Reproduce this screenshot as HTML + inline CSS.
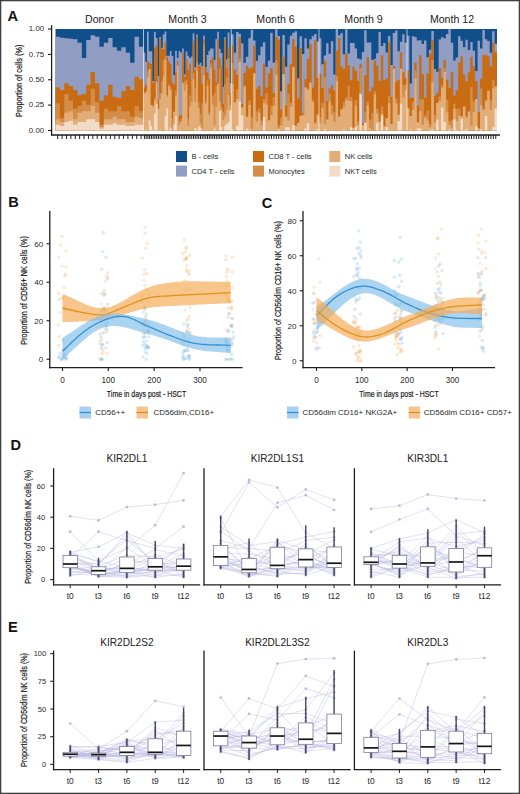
<!DOCTYPE html>
<html><head><meta charset="utf-8"><style>
html,body{margin:0;padding:0;background:#fff;}
body{width:520px;height:794px;overflow:hidden;position:relative;}
svg{position:absolute;left:0;top:0;font-family:"Liberation Sans",sans-serif;}
</style></head><body>
<svg width="520" height="794" viewBox="0 0 520 794">
<rect x="0" y="0" width="520" height="794" fill="#fff"/>
<text x="7.6" y="20.6" font-size="14.6" text-anchor="start" fill="#111" font-weight="bold" >A</text>
<text x="99.5" y="22.8" font-size="10.6" text-anchor="middle" fill="#1a1a1a" font-weight="normal" >Donor</text>
<text x="187.5" y="22.8" font-size="10.6" text-anchor="middle" fill="#1a1a1a" font-weight="normal" >Month 3</text>
<text x="275.5" y="22.8" font-size="10.6" text-anchor="middle" fill="#1a1a1a" font-weight="normal" >Month 6</text>
<text x="363.5" y="22.8" font-size="10.6" text-anchor="middle" fill="#1a1a1a" font-weight="normal" >Month 9</text>
<text x="452" y="22.8" font-size="10.6" text-anchor="middle" fill="#1a1a1a" font-weight="normal" >Month 12</text>
<path d="M55.50,130.50 L55.50,29.00 L59.89,29.00 L59.89,29.00 L64.28,29.00 L64.28,29.00 L68.67,29.00 L68.67,29.00 L73.06,29.00 L73.06,29.00 L77.45,29.00 L77.45,29.00 L81.84,29.00 L81.84,29.00 L86.23,29.00 L86.23,29.00 L90.62,29.00 L90.62,29.00 L95.01,29.00 L95.01,29.00 L99.40,29.00 L99.40,29.00 L103.79,29.00 L103.79,29.00 L108.18,29.00 L108.18,29.00 L112.57,29.00 L112.57,29.00 L116.96,29.00 L116.96,29.00 L121.35,29.00 L121.35,29.00 L125.74,29.00 L125.74,29.00 L130.13,29.00 L130.13,29.00 L134.52,29.00 L134.52,29.00 L138.91,29.00 L138.91,29.00 L143.30,29.00 L143.50,29.00 L145.25,29.00 L145.25,29.00 L147.01,29.00 L147.01,29.00 L148.76,29.00 L148.76,29.00 L150.52,29.00 L150.52,29.00 L152.27,29.00 L152.27,29.00 L154.02,29.00 L154.02,29.00 L155.78,29.00 L155.78,29.00 L157.53,29.00 L157.53,29.00 L159.29,29.00 L159.29,29.00 L161.04,29.00 L161.04,29.00 L162.79,29.00 L162.79,29.00 L164.55,29.00 L164.55,29.00 L166.30,29.00 L166.30,29.00 L168.06,29.00 L168.06,29.00 L169.81,29.00 L169.81,29.00 L171.56,29.00 L171.56,29.00 L173.32,29.00 L173.32,29.00 L175.07,29.00 L175.07,29.00 L176.83,29.00 L176.83,29.00 L178.58,29.00 L178.58,29.00 L180.33,29.00 L180.33,29.00 L182.09,29.00 L182.09,29.00 L183.84,29.00 L183.84,29.00 L185.60,29.00 L185.60,29.00 L187.35,29.00 L187.35,29.00 L189.10,29.00 L189.10,29.00 L190.86,29.00 L190.86,29.00 L192.61,29.00 L192.61,29.00 L194.37,29.00 L194.37,29.00 L196.12,29.00 L196.12,29.00 L197.87,29.00 L197.87,29.00 L199.63,29.00 L199.63,29.00 L201.38,29.00 L201.38,29.00 L203.14,29.00 L203.14,29.00 L204.89,29.00 L204.89,29.00 L206.64,29.00 L206.64,29.00 L208.40,29.00 L208.40,29.00 L210.15,29.00 L210.15,29.00 L211.91,29.00 L211.91,29.00 L213.66,29.00 L213.66,29.00 L215.41,29.00 L215.41,29.00 L217.17,29.00 L217.17,29.00 L218.92,29.00 L218.92,29.00 L220.68,29.00 L220.68,29.00 L222.43,29.00 L222.43,29.00 L224.18,29.00 L224.18,29.00 L225.94,29.00 L225.94,29.00 L227.69,29.00 L227.69,29.00 L229.45,29.00 L229.45,29.00 L231.20,29.00 L231.20,29.00 L233.64,29.00 L233.64,29.00 L236.08,29.00 L236.08,29.00 L238.52,29.00 L238.52,29.00 L240.96,29.00 L240.96,29.00 L243.39,29.00 L243.39,29.00 L245.83,29.00 L245.83,29.00 L248.27,29.00 L248.27,29.00 L250.71,29.00 L250.71,29.00 L253.15,29.00 L253.15,29.00 L255.59,29.00 L255.59,29.00 L258.03,29.00 L258.03,29.00 L260.47,29.00 L260.47,29.00 L262.91,29.00 L262.91,29.00 L265.34,29.00 L265.34,29.00 L267.78,29.00 L267.78,29.00 L270.22,29.00 L270.22,29.00 L272.66,29.00 L272.66,29.00 L275.10,29.00 L275.10,29.00 L277.54,29.00 L277.54,29.00 L279.98,29.00 L279.98,29.00 L282.42,29.00 L282.42,29.00 L284.86,29.00 L284.86,29.00 L287.29,29.00 L287.29,29.00 L289.73,29.00 L289.73,29.00 L292.17,29.00 L292.17,29.00 L294.61,29.00 L294.61,29.00 L297.05,29.00 L297.05,29.00 L299.49,29.00 L299.49,29.00 L301.93,29.00 L301.93,29.00 L304.37,29.00 L304.37,29.00 L306.81,29.00 L306.81,29.00 L309.24,29.00 L309.24,29.00 L311.68,29.00 L311.68,29.00 L314.12,29.00 L314.12,29.00 L316.56,29.00 L316.56,29.00 L319.00,29.00 L319.00,29.00 L321.38,29.00 L321.38,29.00 L323.76,29.00 L323.76,29.00 L326.14,29.00 L326.14,29.00 L328.51,29.00 L328.51,29.00 L330.89,29.00 L330.89,29.00 L333.27,29.00 L333.27,29.00 L335.65,29.00 L335.65,29.00 L338.03,29.00 L338.03,29.00 L340.41,29.00 L340.41,29.00 L342.78,29.00 L342.78,29.00 L345.16,29.00 L345.16,29.00 L347.54,29.00 L347.54,29.00 L349.92,29.00 L349.92,29.00 L352.30,29.00 L352.30,29.00 L354.68,29.00 L354.68,29.00 L357.05,29.00 L357.05,29.00 L359.43,29.00 L359.43,29.00 L361.81,29.00 L361.81,29.00 L364.19,29.00 L364.19,29.00 L366.57,29.00 L366.57,29.00 L368.95,29.00 L368.95,29.00 L371.32,29.00 L371.32,29.00 L373.70,29.00 L373.70,29.00 L376.08,29.00 L376.08,29.00 L378.46,29.00 L378.46,29.00 L380.84,29.00 L380.84,29.00 L383.22,29.00 L383.22,29.00 L385.59,29.00 L385.59,29.00 L387.97,29.00 L387.97,29.00 L390.35,29.00 L390.35,29.00 L392.73,29.00 L392.73,29.00 L395.11,29.00 L395.11,29.00 L397.49,29.00 L397.49,29.00 L399.86,29.00 L399.86,29.00 L402.24,29.00 L402.24,29.00 L404.62,29.00 L404.62,29.00 L407.00,29.00 L407.00,29.00 L409.43,29.00 L409.43,29.00 L411.86,29.00 L411.86,29.00 L414.30,29.00 L414.30,29.00 L416.73,29.00 L416.73,29.00 L419.16,29.00 L419.16,29.00 L421.59,29.00 L421.59,29.00 L424.03,29.00 L424.03,29.00 L426.46,29.00 L426.46,29.00 L428.89,29.00 L428.89,29.00 L431.32,29.00 L431.32,29.00 L433.76,29.00 L433.76,29.00 L436.19,29.00 L436.19,29.00 L438.62,29.00 L438.62,29.00 L441.05,29.00 L441.05,29.00 L443.49,29.00 L443.49,29.00 L445.92,29.00 L445.92,29.00 L448.35,29.00 L448.35,29.00 L450.78,29.00 L450.78,29.00 L453.22,29.00 L453.22,29.00 L455.65,29.00 L455.65,29.00 L458.08,29.00 L458.08,29.00 L460.51,29.00 L460.51,29.00 L462.95,29.00 L462.95,29.00 L465.38,29.00 L465.38,29.00 L467.81,29.00 L467.81,29.00 L470.24,29.00 L470.24,29.00 L472.68,29.00 L472.68,29.00 L475.11,29.00 L475.11,29.00 L477.54,29.00 L477.54,29.00 L479.97,29.00 L479.97,29.00 L482.41,29.00 L482.41,29.00 L484.84,29.00 L484.84,29.00 L487.27,29.00 L487.27,29.00 L489.70,29.00 L489.70,29.00 L492.14,29.00 L492.14,29.00 L494.57,29.00 L494.57,29.00 L497.00,29.00 L497.00,130.50 Z" fill="#114f8b"/>
<path d="M55.50,130.50 L55.50,36.67 L59.89,36.67 L59.89,37.73 L64.28,37.73 L64.28,38.27 L68.67,38.27 L68.67,38.67 L73.06,38.67 L73.06,39.33 L77.45,39.33 L77.45,42.67 L81.84,42.67 L81.84,58.00 L86.23,58.00 L86.23,40.00 L90.62,40.00 L90.62,35.33 L95.01,35.33 L95.01,36.67 L99.40,36.67 L99.40,46.67 L103.79,46.67 L103.79,42.67 L108.18,42.67 L108.18,38.00 L112.57,38.00 L112.57,47.33 L116.96,47.33 L116.96,50.67 L121.35,50.67 L121.35,47.33 L125.74,47.33 L125.74,52.67 L130.13,52.67 L130.13,62.67 L134.52,62.67 L134.52,36.67 L138.91,36.67 L138.91,46.67 L143.30,46.67 L143.50,52.38 L145.25,52.38 L145.25,61.63 L147.01,61.63 L147.01,31.51 L148.76,31.51 L148.76,51.13 L150.52,51.13 L150.52,51.32 L152.27,51.32 L152.27,80.89 L154.02,80.89 L154.02,31.80 L155.78,31.80 L155.78,38.02 L157.53,38.02 L157.53,75.95 L159.29,75.95 L159.29,36.95 L161.04,36.95 L161.04,47.67 L162.79,47.67 L162.79,34.38 L164.55,34.38 L164.55,31.62 L166.30,31.62 L166.30,55.81 L168.06,55.81 L168.06,55.78 L169.81,55.78 L169.81,51.12 L171.56,51.12 L171.56,55.97 L173.32,55.97 L173.32,75.32 L175.07,75.32 L175.07,50.74 L176.83,50.74 L176.83,57.92 L178.58,57.92 L178.58,50.89 L180.33,50.89 L180.33,52.57 L182.09,52.57 L182.09,48.46 L183.84,48.46 L183.84,74.23 L185.60,74.23 L185.60,51.38 L187.35,51.38 L187.35,55.79 L189.10,55.79 L189.10,58.04 L190.86,58.04 L190.86,56.54 L192.61,56.54 L192.61,33.36 L194.37,33.36 L194.37,67.30 L196.12,67.30 L196.12,34.38 L197.87,34.38 L197.87,64.69 L199.63,64.69 L199.63,62.75 L201.38,62.75 L201.38,65.97 L203.14,65.97 L203.14,35.69 L204.89,35.69 L204.89,66.90 L206.64,66.90 L206.64,55.02 L208.40,55.02 L208.40,50.80 L210.15,50.80 L210.15,48.39 L211.91,48.39 L211.91,48.56 L213.66,48.56 L213.66,60.12 L215.41,60.12 L215.41,38.90 L217.17,38.90 L217.17,31.71 L218.92,31.71 L218.92,48.66 L220.68,48.66 L220.68,52.90 L222.43,52.90 L222.43,87.03 L224.18,87.03 L224.18,37.34 L225.94,37.34 L225.94,59.21 L227.69,59.21 L227.69,32.52 L229.45,32.52 L229.45,83.29 L231.20,83.29 L231.20,34.33 L233.64,34.33 L233.64,52.68 L236.08,52.68 L236.08,32.10 L238.52,32.10 L238.52,33.75 L240.96,33.75 L240.96,43.28 L243.39,43.28 L243.39,62.78 L245.83,62.78 L245.83,56.72 L248.27,56.72 L248.27,38.35 L250.71,38.35 L250.71,29.63 L253.15,29.63 L253.15,40.42 L255.59,40.42 L255.59,60.87 L258.03,60.87 L258.03,55.20 L260.47,55.20 L260.47,46.77 L262.91,46.77 L262.91,42.18 L265.34,42.18 L265.34,66.99 L267.78,66.99 L267.78,60.74 L270.22,60.74 L270.22,32.87 L272.66,32.87 L272.66,62.72 L275.10,62.72 L275.10,29.26 L277.54,29.26 L277.54,36.03 L279.98,36.03 L279.98,91.30 L282.42,91.30 L282.42,35.11 L284.86,35.11 L284.86,66.80 L287.29,66.80 L287.29,44.57 L289.73,44.57 L289.73,35.63 L292.17,35.63 L292.17,32.69 L294.61,32.69 L294.61,31.37 L297.05,31.37 L297.05,78.28 L299.49,78.28 L299.49,36.32 L301.93,36.32 L301.93,54.04 L304.37,54.04 L304.37,38.14 L306.81,38.14 L306.81,48.41 L309.24,48.41 L309.24,39.13 L311.68,39.13 L311.68,36.34 L314.12,36.34 L314.12,33.95 L316.56,33.95 L316.56,41.60 L319.00,41.60 L319.00,38.31 L321.38,38.31 L321.38,64.26 L323.76,64.26 L323.76,55.51 L326.14,55.51 L326.14,43.26 L328.51,43.26 L328.51,53.84 L330.89,53.84 L330.89,41.16 L333.27,41.16 L333.27,74.39 L335.65,74.39 L335.65,29.12 L338.03,29.12 L338.03,35.18 L340.41,35.18 L340.41,32.89 L342.78,32.89 L342.78,54.17 L345.16,54.17 L345.16,29.18 L347.54,29.18 L347.54,53.54 L349.92,53.54 L349.92,42.88 L352.30,42.88 L352.30,43.00 L354.68,43.00 L354.68,48.39 L357.05,48.39 L357.05,58.54 L359.43,58.54 L359.43,59.49 L361.81,59.49 L361.81,51.91 L364.19,51.91 L364.19,30.13 L366.57,30.13 L366.57,42.43 L368.95,42.43 L368.95,42.60 L371.32,42.60 L371.32,60.06 L373.70,60.06 L373.70,58.75 L376.08,58.75 L376.08,53.31 L378.46,53.31 L378.46,32.08 L380.84,32.08 L380.84,45.99 L383.22,45.99 L383.22,42.91 L385.59,42.91 L385.59,52.39 L387.97,52.39 L387.97,35.88 L390.35,35.88 L390.35,65.08 L392.73,65.08 L392.73,33.09 L395.11,33.09 L395.11,30.49 L397.49,30.49 L397.49,51.35 L399.86,51.35 L399.86,41.79 L402.24,41.79 L402.24,34.34 L404.62,34.34 L404.62,42.64 L407.00,42.64 L407.00,35.67 L409.43,35.67 L409.43,83.50 L411.86,83.50 L411.86,36.30 L414.30,36.30 L414.30,37.02 L416.73,37.02 L416.73,40.50 L419.16,40.50 L419.16,40.32 L421.59,40.32 L421.59,44.01 L424.03,44.01 L424.03,40.41 L426.46,40.41 L426.46,57.36 L428.89,57.36 L428.89,49.86 L431.32,49.86 L431.32,31.00 L433.76,31.00 L433.76,69.08 L436.19,69.08 L436.19,71.84 L438.62,71.84 L438.62,39.46 L441.05,39.46 L441.05,37.14 L443.49,37.14 L443.49,38.16 L445.92,38.16 L445.92,34.01 L448.35,34.01 L448.35,29.06 L450.78,29.06 L450.78,42.67 L453.22,42.67 L453.22,60.38 L455.65,60.38 L455.65,57.40 L458.08,57.40 L458.08,36.17 L460.51,36.17 L460.51,40.84 L462.95,40.84 L462.95,47.16 L465.38,47.16 L465.38,39.75 L467.81,39.75 L467.81,50.09 L470.24,50.09 L470.24,41.98 L472.68,41.98 L472.68,50.67 L475.11,50.67 L475.11,71.00 L477.54,71.00 L477.54,40.70 L479.97,40.70 L479.97,48.55 L482.41,48.55 L482.41,30.10 L484.84,30.10 L484.84,39.22 L487.27,39.22 L487.27,40.90 L489.70,40.90 L489.70,52.83 L492.14,52.83 L492.14,31.34 L494.57,31.34 L494.57,43.63 L497.00,43.63 L497.00,130.50 Z" fill="#919dc3"/>
<path d="M55.50,130.50 L55.50,87.33 L59.89,87.33 L59.89,90.00 L64.28,90.00 L64.28,83.33 L68.67,83.33 L68.67,86.00 L73.06,86.00 L73.06,90.00 L77.45,90.00 L77.45,95.33 L81.84,95.33 L81.84,94.00 L86.23,94.00 L86.23,84.67 L90.62,84.67 L90.62,72.00 L95.01,72.00 L95.01,83.33 L99.40,83.33 L99.40,100.67 L103.79,100.67 L103.79,95.33 L108.18,95.33 L108.18,84.67 L112.57,84.67 L112.57,96.67 L116.96,96.67 L116.96,98.00 L121.35,98.00 L121.35,91.33 L125.74,91.33 L125.74,86.00 L130.13,86.00 L130.13,90.00 L134.52,90.00 L134.52,76.67 L138.91,76.67 L138.91,79.33 L143.30,79.33 L143.50,87.70 L145.25,87.70 L145.25,84.46 L147.01,84.46 L147.01,60.64 L148.76,60.64 L148.76,62.88 L150.52,62.88 L150.52,63.95 L152.27,63.95 L152.27,82.72 L154.02,82.72 L154.02,47.26 L155.78,47.26 L155.78,45.35 L157.53,45.35 L157.53,99.24 L159.29,99.24 L159.29,38.05 L161.04,38.05 L161.04,48.45 L162.79,48.45 L162.79,49.57 L164.55,49.57 L164.55,42.14 L166.30,42.14 L166.30,57.30 L168.06,57.30 L168.06,61.35 L169.81,61.35 L169.81,64.48 L171.56,64.48 L171.56,82.49 L173.32,82.49 L173.32,84.39 L175.07,84.39 L175.07,71.98 L176.83,71.98 L176.83,61.03 L178.58,61.03 L178.58,116.05 L180.33,116.05 L180.33,115.11 L182.09,115.11 L182.09,52.35 L183.84,52.35 L183.84,76.88 L185.60,76.88 L185.60,59.17 L187.35,59.17 L187.35,69.95 L189.10,69.95 L189.10,63.68 L190.86,63.68 L190.86,80.02 L192.61,80.02 L192.61,42.05 L194.37,42.05 L194.37,69.99 L196.12,69.99 L196.12,36.72 L197.87,36.72 L197.87,66.00 L199.63,66.00 L199.63,66.18 L201.38,66.18 L201.38,83.68 L203.14,83.68 L203.14,39.80 L204.89,39.80 L204.89,67.08 L206.64,67.08 L206.64,72.56 L208.40,72.56 L208.40,79.19 L210.15,79.19 L210.15,59.89 L211.91,59.89 L211.91,57.08 L213.66,57.08 L213.66,69.81 L215.41,69.81 L215.41,82.32 L217.17,82.32 L217.17,39.04 L218.92,39.04 L218.92,58.00 L220.68,58.00 L220.68,66.74 L222.43,66.74 L222.43,103.77 L224.18,103.77 L224.18,38.72 L225.94,38.72 L225.94,68.06 L227.69,68.06 L227.69,47.39 L229.45,47.39 L229.45,93.61 L231.20,93.61 L231.20,45.37 L233.64,45.37 L233.64,69.48 L236.08,69.48 L236.08,74.96 L238.52,74.96 L238.52,37.34 L240.96,37.34 L240.96,104.01 L243.39,104.01 L243.39,73.01 L245.83,73.01 L245.83,65.80 L248.27,65.80 L248.27,68.42 L250.71,68.42 L250.71,67.30 L253.15,67.30 L253.15,45.51 L255.59,45.51 L255.59,88.66 L258.03,88.66 L258.03,86.03 L260.47,86.03 L260.47,96.35 L262.91,96.35 L262.91,63.74 L265.34,63.74 L265.34,87.57 L267.78,87.57 L267.78,73.36 L270.22,73.36 L270.22,68.10 L272.66,68.10 L272.66,93.00 L275.10,93.00 L275.10,36.80 L277.54,36.80 L277.54,39.62 L279.98,39.62 L279.98,109.40 L282.42,109.40 L282.42,56.81 L284.86,56.81 L284.86,105.25 L287.29,105.25 L287.29,83.72 L289.73,83.72 L289.73,64.21 L292.17,64.21 L292.17,38.93 L294.61,38.93 L294.61,46.63 L297.05,46.63 L297.05,98.36 L299.49,98.36 L299.49,47.89 L301.93,47.89 L301.93,113.24 L304.37,113.24 L304.37,79.37 L306.81,79.37 L306.81,59.11 L309.24,59.11 L309.24,44.31 L311.68,44.31 L311.68,87.61 L314.12,87.61 L314.12,40.24 L316.56,40.24 L316.56,77.93 L319.00,77.93 L319.00,73.61 L321.38,73.61 L321.38,88.03 L323.76,88.03 L323.76,60.70 L326.14,60.70 L326.14,101.32 L328.51,101.32 L328.51,88.58 L330.89,88.58 L330.89,85.62 L333.27,85.62 L333.27,90.61 L335.65,90.61 L335.65,50.54 L338.03,50.54 L338.03,37.92 L340.41,37.92 L340.41,66.76 L342.78,66.76 L342.78,68.77 L345.16,68.77 L345.16,53.57 L347.54,53.57 L347.54,65.38 L349.92,65.38 L349.92,80.22 L352.30,80.22 L352.30,66.40 L354.68,66.40 L354.68,70.65 L357.05,70.65 L357.05,80.89 L359.43,80.89 L359.43,63.81 L361.81,63.81 L361.81,123.01 L364.19,123.01 L364.19,75.25 L366.57,75.25 L366.57,57.29 L368.95,57.29 L368.95,91.47 L371.32,91.47 L371.32,87.20 L373.70,87.20 L373.70,60.31 L376.08,60.31 L376.08,65.77 L378.46,65.77 L378.46,80.87 L380.84,80.87 L380.84,55.35 L383.22,55.35 L383.22,80.59 L385.59,80.59 L385.59,78.41 L387.97,78.41 L387.97,42.24 L390.35,42.24 L390.35,97.12 L392.73,97.12 L392.73,65.92 L395.11,65.92 L395.11,81.82 L397.49,81.82 L397.49,80.04 L399.86,80.04 L399.86,52.50 L402.24,52.50 L402.24,72.01 L404.62,72.01 L404.62,78.10 L407.00,78.10 L407.00,70.19 L409.43,70.19 L409.43,97.80 L411.86,97.80 L411.86,97.87 L414.30,97.87 L414.30,62.51 L416.73,62.51 L416.73,105.71 L419.16,105.71 L419.16,55.22 L421.59,55.22 L421.59,74.26 L424.03,74.26 L424.03,97.40 L426.46,97.40 L426.46,73.55 L428.89,73.55 L428.89,53.66 L431.32,53.66 L431.32,40.29 L433.76,40.29 L433.76,95.66 L436.19,95.66 L436.19,93.12 L438.62,93.12 L438.62,68.04 L441.05,68.04 L441.05,77.64 L443.49,77.64 L443.49,59.91 L445.92,59.91 L445.92,79.64 L448.35,79.64 L448.35,87.72 L450.78,87.72 L450.78,71.79 L453.22,71.79 L453.22,95.62 L455.65,95.62 L455.65,90.35 L458.08,90.35 L458.08,62.29 L460.51,62.29 L460.51,56.22 L462.95,56.22 L462.95,74.41 L465.38,74.41 L465.38,81.26 L467.81,81.26 L467.81,72.14 L470.24,72.14 L470.24,56.79 L472.68,56.79 L472.68,66.54 L475.11,66.54 L475.11,81.06 L477.54,81.06 L477.54,111.92 L479.97,111.92 L479.97,78.81 L482.41,78.81 L482.41,55.34 L484.84,55.34 L484.84,54.65 L487.27,54.65 L487.27,56.48 L489.70,56.48 L489.70,66.19 L492.14,66.19 L492.14,42.55 L494.57,42.55 L494.57,52.04 L497.00,52.04 L497.00,130.50 Z" fill="#c96b12"/>
<path d="M55.50,130.50 L55.50,103.33 L59.89,103.33 L59.89,118.00 L64.28,118.00 L64.28,94.00 L68.67,94.00 L68.67,100.67 L73.06,100.67 L73.06,108.67 L77.45,108.67 L77.45,106.00 L81.84,106.00 L81.84,100.67 L86.23,100.67 L86.23,104.67 L90.62,104.67 L90.62,88.67 L95.01,88.67 L95.01,102.00 L99.40,102.00 L99.40,124.67 L103.79,124.67 L103.79,108.67 L108.18,108.67 L108.18,111.33 L112.57,111.33 L112.57,111.33 L116.96,111.33 L116.96,106.00 L121.35,106.00 L121.35,111.33 L125.74,111.33 L125.74,111.33 L130.13,111.33 L130.13,116.67 L134.52,116.67 L134.52,106.00 L138.91,106.00 L138.91,111.33 L143.30,111.33 L143.50,92.89 L145.25,92.89 L145.25,90.50 L147.01,90.50 L147.01,71.34 L148.76,71.34 L148.76,68.71 L150.52,68.71 L150.52,105.06 L152.27,105.06 L152.27,105.30 L154.02,105.30 L154.02,97.85 L155.78,97.85 L155.78,81.76 L157.53,81.76 L157.53,108.46 L159.29,108.46 L159.29,93.34 L161.04,93.34 L161.04,81.16 L162.79,81.16 L162.79,59.94 L164.55,59.94 L164.55,56.15 L166.30,56.15 L166.30,95.06 L168.06,95.06 L168.06,84.19 L169.81,84.19 L169.81,87.25 L171.56,87.25 L171.56,119.03 L173.32,119.03 L173.32,111.16 L175.07,111.16 L175.07,90.76 L176.83,90.76 L176.83,64.77 L178.58,64.77 L178.58,121.36 L180.33,121.36 L180.33,118.66 L182.09,118.66 L182.09,82.51 L183.84,82.51 L183.84,81.23 L185.60,81.23 L185.60,79.85 L187.35,79.85 L187.35,118.46 L189.10,118.46 L189.10,95.72 L190.86,95.72 L190.86,80.44 L192.61,80.44 L192.61,72.76 L194.37,72.76 L194.37,88.44 L196.12,88.44 L196.12,61.99 L197.87,61.99 L197.87,102.11 L199.63,102.11 L199.63,114.00 L201.38,114.00 L201.38,103.23 L203.14,103.23 L203.14,44.52 L204.89,44.52 L204.89,101.23 L206.64,101.23 L206.64,80.28 L208.40,80.28 L208.40,112.47 L210.15,112.47 L210.15,63.62 L211.91,63.62 L211.91,95.90 L213.66,95.90 L213.66,92.68 L215.41,92.68 L215.41,85.25 L217.17,85.25 L217.17,82.63 L218.92,82.63 L218.92,67.89 L220.68,67.89 L220.68,106.76 L222.43,106.76 L222.43,112.23 L224.18,112.23 L224.18,84.29 L225.94,84.29 L225.94,77.21 L227.69,77.21 L227.69,58.21 L229.45,58.21 L229.45,105.09 L231.20,105.09 L231.20,62.95 L233.64,62.95 L233.64,102.29 L236.08,102.29 L236.08,88.93 L238.52,88.93 L238.52,58.63 L240.96,58.63 L240.96,107.26 L243.39,107.26 L243.39,84.91 L245.83,84.91 L245.83,116.69 L248.27,116.69 L248.27,100.54 L250.71,100.54 L250.71,117.53 L253.15,117.53 L253.15,72.92 L255.59,72.92 L255.59,111.33 L258.03,111.33 L258.03,108.73 L260.47,108.73 L260.47,120.81 L262.91,120.81 L262.91,98.76 L265.34,98.76 L265.34,92.88 L267.78,92.88 L267.78,120.49 L270.22,120.49 L270.22,105.55 L272.66,105.55 L272.66,96.93 L275.10,96.93 L275.10,60.45 L277.54,60.45 L277.54,125.23 L279.98,125.23 L279.98,117.82 L282.42,117.82 L282.42,74.09 L284.86,74.09 L284.86,116.03 L287.29,116.03 L287.29,93.98 L289.73,93.98 L289.73,102.92 L292.17,102.92 L292.17,67.12 L294.61,67.12 L294.61,125.71 L297.05,125.71 L297.05,122.91 L299.49,122.91 L299.49,116.03 L301.93,116.03 L301.93,114.39 L304.37,114.39 L304.37,87.35 L306.81,87.35 L306.81,88.50 L309.24,88.50 L309.24,82.15 L311.68,82.15 L311.68,100.08 L314.12,100.08 L314.12,122.19 L316.56,122.19 L316.56,114.28 L319.00,114.28 L319.00,117.28 L321.38,117.28 L321.38,103.05 L323.76,103.05 L323.76,77.09 L326.14,77.09 L326.14,119.30 L328.51,119.30 L328.51,93.55 L330.89,93.55 L330.89,105.30 L333.27,105.30 L333.27,112.00 L335.65,112.00 L335.65,75.84 L338.03,75.84 L338.03,116.58 L340.41,116.58 L340.41,108.99 L342.78,108.99 L342.78,102.10 L345.16,102.10 L345.16,97.14 L347.54,97.14 L347.54,86.07 L349.92,86.07 L349.92,96.91 L352.30,96.91 L352.30,127.87 L354.68,127.87 L354.68,100.01 L357.05,100.01 L357.05,121.63 L359.43,121.63 L359.43,67.95 L361.81,67.95 L361.81,124.96 L364.19,124.96 L364.19,112.44 L366.57,112.44 L366.57,101.36 L368.95,101.36 L368.95,119.49 L371.32,119.49 L371.32,113.04 L373.70,113.04 L373.70,91.41 L376.08,91.41 L376.08,108.77 L378.46,108.77 L378.46,121.15 L380.84,121.15 L380.84,106.43 L383.22,106.43 L383.22,125.92 L385.59,125.92 L385.59,118.30 L387.97,118.30 L387.97,96.15 L390.35,96.15 L390.35,123.95 L392.73,123.95 L392.73,68.47 L395.11,68.47 L395.11,98.41 L397.49,98.41 L397.49,114.54 L399.86,114.54 L399.86,68.73 L402.24,68.73 L402.24,85.27 L404.62,85.27 L404.62,84.47 L407.00,84.47 L407.00,108.13 L409.43,108.13 L409.43,116.09 L411.86,116.09 L411.86,101.58 L414.30,101.58 L414.30,70.26 L416.73,70.26 L416.73,122.21 L419.16,122.21 L419.16,99.25 L421.59,99.25 L421.59,99.33 L424.03,99.33 L424.03,115.21 L426.46,115.21 L426.46,110.51 L428.89,110.51 L428.89,124.35 L431.32,124.35 L431.32,60.09 L433.76,60.09 L433.76,115.12 L436.19,115.12 L436.19,102.65 L438.62,102.65 L438.62,96.59 L441.05,96.59 L441.05,85.17 L443.49,85.17 L443.49,68.46 L445.92,68.46 L445.92,99.78 L448.35,99.78 L448.35,121.55 L450.78,121.55 L450.78,119.67 L453.22,119.67 L453.22,103.64 L455.65,103.64 L455.65,108.65 L458.08,108.65 L458.08,108.59 L460.51,108.59 L460.51,116.02 L462.95,116.02 L462.95,105.96 L465.38,105.96 L465.38,116.24 L467.81,116.24 L467.81,111.31 L470.24,111.31 L470.24,87.00 L472.68,87.00 L472.68,101.22 L475.11,101.22 L475.11,99.24 L477.54,99.24 L477.54,128.43 L479.97,128.43 L479.97,88.39 L482.41,88.39 L482.41,108.87 L484.84,108.87 L484.84,99.95 L487.27,99.95 L487.27,90.15 L489.70,90.15 L489.70,100.19 L492.14,100.19 L492.14,80.04 L494.57,80.04 L494.57,85.88 L497.00,85.88 L497.00,130.50 Z" fill="#d48d48"/>
<path d="M55.50,130.50 L55.50,119.33 L59.89,119.33 L59.89,122.00 L64.28,122.00 L64.28,112.67 L68.67,112.67 L68.67,111.33 L73.06,111.33 L73.06,119.33 L77.45,119.33 L77.45,112.67 L81.84,112.67 L81.84,111.33 L86.23,111.33 L86.23,111.33 L90.62,111.33 L90.62,106.00 L95.01,106.00 L95.01,112.67 L99.40,112.67 L99.40,127.33 L103.79,127.33 L103.79,119.33 L108.18,119.33 L108.18,119.33 L112.57,119.33 L112.57,116.67 L116.96,116.67 L116.96,119.33 L121.35,119.33 L121.35,119.33 L125.74,119.33 L125.74,122.00 L130.13,122.00 L130.13,122.00 L134.52,122.00 L134.52,116.67 L138.91,116.67 L138.91,118.00 L143.30,118.00 L143.50,93.29 L145.25,93.29 L145.25,92.47 L147.01,92.47 L147.01,77.42 L148.76,77.42 L148.76,68.93 L150.52,68.93 L150.52,105.30 L152.27,105.30 L152.27,106.65 L154.02,106.65 L154.02,100.56 L155.78,100.56 L155.78,81.77 L157.53,81.77 L157.53,109.35 L159.29,109.35 L159.29,98.90 L161.04,98.90 L161.04,93.59 L162.79,93.59 L162.79,76.38 L164.55,76.38 L164.55,59.68 L166.30,59.68 L166.30,96.53 L168.06,96.53 L168.06,86.21 L169.81,86.21 L169.81,90.03 L171.56,90.03 L171.56,129.53 L173.32,129.53 L173.32,112.12 L175.07,112.12 L175.07,96.55 L176.83,96.55 L176.83,65.38 L178.58,65.38 L178.58,124.96 L180.33,124.96 L180.33,121.41 L182.09,121.41 L182.09,83.33 L183.84,83.33 L183.84,90.93 L185.60,90.93 L185.60,84.41 L187.35,84.41 L187.35,125.90 L189.10,125.90 L189.10,106.80 L190.86,106.80 L190.86,101.97 L192.61,101.97 L192.61,78.95 L194.37,78.95 L194.37,101.98 L196.12,101.98 L196.12,69.57 L197.87,69.57 L197.87,108.18 L199.63,108.18 L199.63,123.64 L201.38,123.64 L201.38,128.47 L203.14,128.47 L203.14,75.22 L204.89,75.22 L204.89,103.69 L206.64,103.69 L206.64,85.59 L208.40,85.59 L208.40,114.95 L210.15,114.95 L210.15,68.02 L211.91,68.02 L211.91,104.82 L213.66,104.82 L213.66,124.87 L215.41,124.87 L215.41,106.96 L217.17,106.96 L217.17,84.16 L218.92,84.16 L218.92,101.46 L220.68,101.46 L220.68,109.68 L222.43,109.68 L222.43,119.96 L224.18,119.96 L224.18,116.44 L225.94,116.44 L225.94,109.78 L227.69,109.78 L227.69,95.02 L229.45,95.02 L229.45,109.85 L231.20,109.85 L231.20,83.67 L233.64,83.67 L233.64,102.36 L236.08,102.36 L236.08,99.07 L238.52,99.07 L238.52,62.29 L240.96,62.29 L240.96,107.56 L243.39,107.56 L243.39,86.91 L245.83,86.91 L245.83,116.77 L248.27,116.77 L248.27,104.88 L250.71,104.88 L250.71,128.54 L253.15,128.54 L253.15,73.20 L255.59,73.20 L255.59,122.12 L258.03,122.12 L258.03,112.85 L260.47,112.85 L260.47,125.76 L262.91,125.76 L262.91,102.74 L265.34,102.74 L265.34,104.45 L267.78,104.45 L267.78,120.56 L270.22,120.56 L270.22,115.25 L272.66,115.25 L272.66,106.33 L275.10,106.33 L275.10,74.56 L277.54,74.56 L277.54,128.75 L279.98,128.75 L279.98,125.43 L282.42,125.43 L282.42,74.15 L284.86,74.15 L284.86,117.10 L287.29,117.10 L287.29,120.64 L289.73,120.64 L289.73,106.90 L292.17,106.90 L292.17,67.15 L294.61,67.15 L294.61,125.84 L297.05,125.84 L297.05,123.07 L299.49,123.07 L299.49,116.05 L301.93,116.05 L301.93,115.36 L304.37,115.36 L304.37,87.53 L306.81,87.53 L306.81,90.37 L309.24,90.37 L309.24,82.78 L311.68,82.78 L311.68,101.94 L314.12,101.94 L314.12,123.67 L316.56,123.67 L316.56,114.75 L319.00,114.75 L319.00,123.24 L321.38,123.24 L321.38,107.97 L323.76,107.97 L323.76,123.91 L326.14,123.91 L326.14,119.86 L328.51,119.86 L328.51,101.63 L330.89,101.63 L330.89,114.61 L333.27,114.61 L333.27,121.83 L335.65,121.83 L335.65,80.92 L338.03,80.92 L338.03,116.85 L340.41,116.85 L340.41,109.59 L342.78,109.59 L342.78,107.02 L345.16,107.02 L345.16,99.69 L347.54,99.69 L347.54,100.86 L349.92,100.86 L349.92,101.29 L352.30,101.29 L352.30,127.90 L354.68,127.90 L354.68,105.86 L357.05,105.86 L357.05,125.08 L359.43,125.08 L359.43,93.39 L361.81,93.39 L361.81,125.36 L364.19,125.36 L364.19,122.44 L366.57,122.44 L366.57,105.26 L368.95,105.26 L368.95,127.76 L371.32,127.76 L371.32,130.04 L373.70,130.04 L373.70,94.28 L376.08,94.28 L376.08,113.50 L378.46,113.50 L378.46,121.99 L380.84,121.99 L380.84,113.77 L383.22,113.77 L383.22,126.60 L385.59,126.60 L385.59,118.53 L387.97,118.53 L387.97,103.30 L390.35,103.30 L390.35,124.07 L392.73,124.07 L392.73,69.01 L395.11,69.01 L395.11,103.60 L397.49,103.60 L397.49,115.14 L399.86,115.14 L399.86,68.84 L402.24,68.84 L402.24,97.58 L404.62,97.58 L404.62,90.24 L407.00,90.24 L407.00,108.13 L409.43,108.13 L409.43,116.13 L411.86,116.13 L411.86,110.02 L414.30,110.02 L414.30,78.50 L416.73,78.50 L416.73,122.25 L419.16,122.25 L419.16,111.02 L421.59,111.02 L421.59,124.72 L424.03,124.72 L424.03,117.94 L426.46,117.94 L426.46,120.46 L428.89,120.46 L428.89,127.41 L431.32,127.41 L431.32,82.15 L433.76,82.15 L433.76,122.81 L436.19,122.81 L436.19,102.89 L438.62,102.89 L438.62,101.00 L441.05,101.00 L441.05,87.83 L443.49,87.83 L443.49,72.05 L445.92,72.05 L445.92,112.46 L448.35,112.46 L448.35,125.04 L450.78,125.04 L450.78,127.78 L453.22,127.78 L453.22,108.70 L455.65,108.70 L455.65,121.09 L458.08,121.09 L458.08,115.86 L460.51,115.86 L460.51,116.50 L462.95,116.50 L462.95,106.93 L465.38,106.93 L465.38,117.62 L467.81,117.62 L467.81,111.65 L470.24,111.65 L470.24,125.94 L472.68,125.94 L472.68,111.78 L475.11,111.78 L475.11,99.26 L477.54,99.26 L477.54,128.46 L479.97,128.46 L479.97,105.29 L482.41,105.29 L482.41,110.09 L484.84,110.09 L484.84,100.78 L487.27,100.78 L487.27,90.88 L489.70,90.88 L489.70,109.76 L492.14,109.76 L492.14,88.29 L494.57,88.29 L494.57,87.04 L497.00,87.04 L497.00,130.50 Z" fill="#e2ad76"/>
<path d="M55.50,130.50 L55.50,124.67 L59.89,124.67 L59.89,126.00 L64.28,126.00 L64.28,122.00 L68.67,122.00 L68.67,120.67 L73.06,120.67 L73.06,124.67 L77.45,124.67 L77.45,122.00 L81.84,122.00 L81.84,122.00 L86.23,122.00 L86.23,119.33 L90.62,119.33 L90.62,119.33 L95.01,119.33 L95.01,122.00 L99.40,122.00 L99.40,128.67 L103.79,128.67 L103.79,124.67 L108.18,124.67 L108.18,124.67 L112.57,124.67 L112.57,123.33 L116.96,123.33 L116.96,124.67 L121.35,124.67 L121.35,124.67 L125.74,124.67 L125.74,126.00 L130.13,126.00 L130.13,126.00 L134.52,126.00 L134.52,124.67 L138.91,124.67 L138.91,124.67 L143.30,124.67 L143.50,130.50 L145.25,130.50 L145.25,129.49 L147.01,129.49 L147.01,130.49 L148.76,130.49 L148.76,120.13 L150.52,120.13 L150.52,126.05 L152.27,126.05 L152.27,129.91 L154.02,129.91 L154.02,113.45 L155.78,113.45 L155.78,104.00 L157.53,104.00 L157.53,130.32 L159.29,130.32 L159.29,129.72 L161.04,129.72 L161.04,130.47 L162.79,130.47 L162.79,130.49 L164.55,130.49 L164.55,116.03 L166.30,116.03 L166.30,108.57 L168.06,108.57 L168.06,130.01 L169.81,130.01 L169.81,127.41 L171.56,127.41 L171.56,130.50 L173.32,130.50 L173.32,124.47 L175.07,124.47 L175.07,115.97 L176.83,115.97 L176.83,130.50 L178.58,130.50 L178.58,130.05 L180.33,130.05 L180.33,130.42 L182.09,130.42 L182.09,130.50 L183.84,130.50 L183.84,130.46 L185.60,130.46 L185.60,130.50 L187.35,130.50 L187.35,130.50 L189.10,130.50 L189.10,130.43 L190.86,130.43 L190.86,130.50 L192.61,130.50 L192.61,130.50 L194.37,130.50 L194.37,127.93 L196.12,127.93 L196.12,129.87 L197.87,129.87 L197.87,126.21 L199.63,126.21 L199.63,127.65 L201.38,127.65 L201.38,130.14 L203.14,130.14 L203.14,130.49 L204.89,130.49 L204.89,130.50 L206.64,130.50 L206.64,130.26 L208.40,130.26 L208.40,130.47 L210.15,130.47 L210.15,130.30 L211.91,130.30 L211.91,130.50 L213.66,130.50 L213.66,128.50 L215.41,128.50 L215.41,130.25 L217.17,130.25 L217.17,130.50 L218.92,130.50 L218.92,110.92 L220.68,110.92 L220.68,127.12 L222.43,127.12 L222.43,130.50 L224.18,130.50 L224.18,125.66 L225.94,125.66 L225.94,123.82 L227.69,123.82 L227.69,122.61 L229.45,122.61 L229.45,110.53 L231.20,110.53 L231.20,129.23 L233.64,129.23 L233.64,130.44 L236.08,130.44 L236.08,125.72 L238.52,125.72 L238.52,101.59 L240.96,101.59 L240.96,115.30 L243.39,115.30 L243.39,130.50 L245.83,130.50 L245.83,128.76 L248.27,128.76 L248.27,130.27 L250.71,130.27 L250.71,130.50 L253.15,130.50 L253.15,130.50 L255.59,130.50 L255.59,130.50 L258.03,130.50 L258.03,130.50 L260.47,130.50 L260.47,130.50 L262.91,130.50 L262.91,116.99 L265.34,116.99 L265.34,130.50 L267.78,130.50 L267.78,130.50 L270.22,130.50 L270.22,130.13 L272.66,130.13 L272.66,130.50 L275.10,130.50 L275.10,130.50 L277.54,130.50 L277.54,129.42 L279.98,129.42 L279.98,130.50 L282.42,130.50 L282.42,130.50 L284.86,130.50 L284.86,127.35 L287.29,127.35 L287.29,127.15 L289.73,127.15 L289.73,130.49 L292.17,130.49 L292.17,125.35 L294.61,125.35 L294.61,130.50 L297.05,130.50 L297.05,130.50 L299.49,130.50 L299.49,130.42 L301.93,130.42 L301.93,130.47 L304.37,130.47 L304.37,128.42 L306.81,128.42 L306.81,123.22 L309.24,123.22 L309.24,130.50 L311.68,130.50 L311.68,130.41 L314.12,130.41 L314.12,130.23 L316.56,130.23 L316.56,129.32 L319.00,129.32 L319.00,130.50 L321.38,130.50 L321.38,130.50 L323.76,130.50 L323.76,128.98 L326.14,128.98 L326.14,130.50 L328.51,130.50 L328.51,130.47 L330.89,130.47 L330.89,130.26 L333.27,130.26 L333.27,130.31 L335.65,130.31 L335.65,130.50 L338.03,130.50 L338.03,130.32 L340.41,130.32 L340.41,130.19 L342.78,130.19 L342.78,129.38 L345.16,129.38 L345.16,130.50 L347.54,130.50 L347.54,130.44 L349.92,130.44 L349.92,127.14 L352.30,127.14 L352.30,130.50 L354.68,130.50 L354.68,127.06 L357.05,127.06 L357.05,130.46 L359.43,130.46 L359.43,93.99 L361.81,93.99 L361.81,130.50 L364.19,130.50 L364.19,123.01 L366.57,123.01 L366.57,130.50 L368.95,130.50 L368.95,130.40 L371.32,130.40 L371.32,130.17 L373.70,130.17 L373.70,130.46 L376.08,130.46 L376.08,122.71 L378.46,122.71 L378.46,130.32 L380.84,130.32 L380.84,115.47 L383.22,115.47 L383.22,130.50 L385.59,130.50 L385.59,127.37 L387.97,127.37 L387.97,130.50 L390.35,130.50 L390.35,130.11 L392.73,130.11 L392.73,130.50 L395.11,130.50 L395.11,130.50 L397.49,130.50 L397.49,121.33 L399.86,121.33 L399.86,103.58 L402.24,103.58 L402.24,130.47 L404.62,130.47 L404.62,130.19 L407.00,130.19 L407.00,130.50 L409.43,130.50 L409.43,129.76 L411.86,129.76 L411.86,130.46 L414.30,130.46 L414.30,130.37 L416.73,130.37 L416.73,128.23 L419.16,128.23 L419.16,128.61 L421.59,128.61 L421.59,130.50 L424.03,130.50 L424.03,130.50 L426.46,130.50 L426.46,130.49 L428.89,130.49 L428.89,129.83 L431.32,129.83 L431.32,129.32 L433.76,129.32 L433.76,130.38 L436.19,130.38 L436.19,119.60 L438.62,119.60 L438.62,130.40 L441.05,130.40 L441.05,107.42 L443.49,107.42 L443.49,121.88 L445.92,121.88 L445.92,130.42 L448.35,130.42 L448.35,129.54 L450.78,129.54 L450.78,130.50 L453.22,130.50 L453.22,119.49 L455.65,119.49 L455.65,129.87 L458.08,129.87 L458.08,130.50 L460.51,130.50 L460.51,118.88 L462.95,118.88 L462.95,129.97 L465.38,129.97 L465.38,129.14 L467.81,129.14 L467.81,130.41 L470.24,130.41 L470.24,130.50 L472.68,130.50 L472.68,130.50 L475.11,130.50 L475.11,126.57 L477.54,126.57 L477.54,130.49 L479.97,130.49 L479.97,129.38 L482.41,129.38 L482.41,130.50 L484.84,130.50 L484.84,116.06 L487.27,116.06 L487.27,130.50 L489.70,130.50 L489.70,130.19 L492.14,130.19 L492.14,126.91 L494.57,126.91 L494.57,108.47 L497.00,108.47 L497.00,130.50 Z" fill="#f2dcc8"/>
<rect x="143.1" y="29" width="0.8" height="101.5" fill="#ffffff" opacity="0.8"/>
<rect x="230.8" y="29" width="0.8" height="101.5" fill="#ffffff" opacity="0.8"/>
<rect x="318.6" y="29" width="0.8" height="101.5" fill="#ffffff" opacity="0.8"/>
<rect x="406.6" y="29" width="0.8" height="101.5" fill="#ffffff" opacity="0.8"/>
<line x1="51.6" y1="25.2" x2="51.6" y2="135.6" stroke="#1e1e1e" stroke-width="1.3" />
<line x1="51" y1="135" x2="500" y2="135" stroke="#1e1e1e" stroke-width="1.3" />
<line x1="48" y1="29" x2="51.6" y2="29" stroke="#1e1e1e" stroke-width="1.1" />
<text x="44.2" y="31.2" font-size="7.9" text-anchor="end" fill="#2a2a2a" font-weight="normal" >1.00</text>
<line x1="48" y1="54.38" x2="51.6" y2="54.38" stroke="#1e1e1e" stroke-width="1.1" />
<text x="44.2" y="56.58" font-size="7.9" text-anchor="end" fill="#2a2a2a" font-weight="normal" >0.75</text>
<line x1="48" y1="79.75" x2="51.6" y2="79.75" stroke="#1e1e1e" stroke-width="1.1" />
<text x="44.2" y="81.95" font-size="7.9" text-anchor="end" fill="#2a2a2a" font-weight="normal" >0.50</text>
<line x1="48" y1="105.12" x2="51.6" y2="105.12" stroke="#1e1e1e" stroke-width="1.1" />
<text x="44.2" y="107.33" font-size="7.9" text-anchor="end" fill="#2a2a2a" font-weight="normal" >0.25</text>
<line x1="48" y1="130.5" x2="51.6" y2="130.5" stroke="#1e1e1e" stroke-width="1.1" />
<text x="44.2" y="132.7" font-size="7.9" text-anchor="end" fill="#2a2a2a" font-weight="normal" >0.00</text>
<line x1="57.7" y1="135" x2="57.7" y2="139" stroke="#1e1e1e" stroke-width="1.0" />
<line x1="62.09" y1="135" x2="62.09" y2="139" stroke="#1e1e1e" stroke-width="1.0" />
<line x1="66.47" y1="135" x2="66.47" y2="139" stroke="#1e1e1e" stroke-width="1.0" />
<line x1="70.87" y1="135" x2="70.87" y2="139" stroke="#1e1e1e" stroke-width="1.0" />
<line x1="75.25" y1="135" x2="75.25" y2="139" stroke="#1e1e1e" stroke-width="1.0" />
<line x1="79.65" y1="135" x2="79.65" y2="139" stroke="#1e1e1e" stroke-width="1.0" />
<line x1="84.03" y1="135" x2="84.03" y2="139" stroke="#1e1e1e" stroke-width="1.0" />
<line x1="88.43" y1="135" x2="88.43" y2="139" stroke="#1e1e1e" stroke-width="1.0" />
<line x1="92.81" y1="135" x2="92.81" y2="139" stroke="#1e1e1e" stroke-width="1.0" />
<line x1="97.21" y1="135" x2="97.21" y2="139" stroke="#1e1e1e" stroke-width="1.0" />
<line x1="101.59" y1="135" x2="101.59" y2="139" stroke="#1e1e1e" stroke-width="1.0" />
<line x1="105.99" y1="135" x2="105.99" y2="139" stroke="#1e1e1e" stroke-width="1.0" />
<line x1="110.38" y1="135" x2="110.38" y2="139" stroke="#1e1e1e" stroke-width="1.0" />
<line x1="114.77" y1="135" x2="114.77" y2="139" stroke="#1e1e1e" stroke-width="1.0" />
<line x1="119.16" y1="135" x2="119.16" y2="139" stroke="#1e1e1e" stroke-width="1.0" />
<line x1="123.55" y1="135" x2="123.55" y2="139" stroke="#1e1e1e" stroke-width="1.0" />
<line x1="127.94" y1="135" x2="127.94" y2="139" stroke="#1e1e1e" stroke-width="1.0" />
<line x1="132.33" y1="135" x2="132.33" y2="139" stroke="#1e1e1e" stroke-width="1.0" />
<line x1="136.72" y1="135" x2="136.72" y2="139" stroke="#1e1e1e" stroke-width="1.0" />
<line x1="141.11" y1="135" x2="141.11" y2="139" stroke="#1e1e1e" stroke-width="1.0" />
<line x1="144.38" y1="135" x2="144.38" y2="139" stroke="#1a1a1a" stroke-width="1.0" />
<line x1="146.13" y1="135" x2="146.13" y2="139" stroke="#1a1a1a" stroke-width="1.0" />
<line x1="147.88" y1="135" x2="147.88" y2="139" stroke="#1a1a1a" stroke-width="1.0" />
<line x1="149.64" y1="135" x2="149.64" y2="139" stroke="#1a1a1a" stroke-width="1.0" />
<line x1="151.39" y1="135" x2="151.39" y2="139" stroke="#1a1a1a" stroke-width="1.0" />
<line x1="153.15" y1="135" x2="153.15" y2="139" stroke="#1a1a1a" stroke-width="1.0" />
<line x1="154.9" y1="135" x2="154.9" y2="139" stroke="#1a1a1a" stroke-width="1.0" />
<line x1="156.66" y1="135" x2="156.66" y2="139" stroke="#1a1a1a" stroke-width="1.0" />
<line x1="158.41" y1="135" x2="158.41" y2="139" stroke="#1a1a1a" stroke-width="1.0" />
<line x1="160.16" y1="135" x2="160.16" y2="139" stroke="#1a1a1a" stroke-width="1.0" />
<line x1="161.92" y1="135" x2="161.92" y2="139" stroke="#1a1a1a" stroke-width="1.0" />
<line x1="163.67" y1="135" x2="163.67" y2="139" stroke="#1a1a1a" stroke-width="1.0" />
<line x1="165.43" y1="135" x2="165.43" y2="139" stroke="#1a1a1a" stroke-width="1.0" />
<line x1="167.18" y1="135" x2="167.18" y2="139" stroke="#1a1a1a" stroke-width="1.0" />
<line x1="168.93" y1="135" x2="168.93" y2="139" stroke="#1a1a1a" stroke-width="1.0" />
<line x1="170.69" y1="135" x2="170.69" y2="139" stroke="#1a1a1a" stroke-width="1.0" />
<line x1="172.44" y1="135" x2="172.44" y2="139" stroke="#1a1a1a" stroke-width="1.0" />
<line x1="174.19" y1="135" x2="174.19" y2="139" stroke="#1a1a1a" stroke-width="1.0" />
<line x1="175.95" y1="135" x2="175.95" y2="139" stroke="#1a1a1a" stroke-width="1.0" />
<line x1="177.7" y1="135" x2="177.7" y2="139" stroke="#1a1a1a" stroke-width="1.0" />
<line x1="179.46" y1="135" x2="179.46" y2="139" stroke="#1a1a1a" stroke-width="1.0" />
<line x1="181.21" y1="135" x2="181.21" y2="139" stroke="#1a1a1a" stroke-width="1.0" />
<line x1="182.97" y1="135" x2="182.97" y2="139" stroke="#1a1a1a" stroke-width="1.0" />
<line x1="184.72" y1="135" x2="184.72" y2="139" stroke="#1a1a1a" stroke-width="1.0" />
<line x1="186.47" y1="135" x2="186.47" y2="139" stroke="#1a1a1a" stroke-width="1.0" />
<line x1="188.23" y1="135" x2="188.23" y2="139" stroke="#1a1a1a" stroke-width="1.0" />
<line x1="189.98" y1="135" x2="189.98" y2="139" stroke="#1a1a1a" stroke-width="1.0" />
<line x1="191.73" y1="135" x2="191.73" y2="139" stroke="#1a1a1a" stroke-width="1.0" />
<line x1="193.49" y1="135" x2="193.49" y2="139" stroke="#1a1a1a" stroke-width="1.0" />
<line x1="195.24" y1="135" x2="195.24" y2="139" stroke="#1a1a1a" stroke-width="1.0" />
<line x1="197" y1="135" x2="197" y2="139" stroke="#1a1a1a" stroke-width="1.0" />
<line x1="198.75" y1="135" x2="198.75" y2="139" stroke="#1a1a1a" stroke-width="1.0" />
<line x1="200.5" y1="135" x2="200.5" y2="139" stroke="#1a1a1a" stroke-width="1.0" />
<line x1="202.26" y1="135" x2="202.26" y2="139" stroke="#1a1a1a" stroke-width="1.0" />
<line x1="204.01" y1="135" x2="204.01" y2="139" stroke="#1a1a1a" stroke-width="1.0" />
<line x1="205.77" y1="135" x2="205.77" y2="139" stroke="#1a1a1a" stroke-width="1.0" />
<line x1="207.52" y1="135" x2="207.52" y2="139" stroke="#1a1a1a" stroke-width="1.0" />
<line x1="209.27" y1="135" x2="209.27" y2="139" stroke="#1a1a1a" stroke-width="1.0" />
<line x1="211.03" y1="135" x2="211.03" y2="139" stroke="#1a1a1a" stroke-width="1.0" />
<line x1="212.78" y1="135" x2="212.78" y2="139" stroke="#1a1a1a" stroke-width="1.0" />
<line x1="214.54" y1="135" x2="214.54" y2="139" stroke="#1a1a1a" stroke-width="1.0" />
<line x1="216.29" y1="135" x2="216.29" y2="139" stroke="#1a1a1a" stroke-width="1.0" />
<line x1="218.04" y1="135" x2="218.04" y2="139" stroke="#1a1a1a" stroke-width="1.0" />
<line x1="219.8" y1="135" x2="219.8" y2="139" stroke="#1a1a1a" stroke-width="1.0" />
<line x1="221.55" y1="135" x2="221.55" y2="139" stroke="#1a1a1a" stroke-width="1.0" />
<line x1="223.31" y1="135" x2="223.31" y2="139" stroke="#1a1a1a" stroke-width="1.0" />
<line x1="225.06" y1="135" x2="225.06" y2="139" stroke="#1a1a1a" stroke-width="1.0" />
<line x1="226.81" y1="135" x2="226.81" y2="139" stroke="#1a1a1a" stroke-width="1.0" />
<line x1="228.57" y1="135" x2="228.57" y2="139" stroke="#1a1a1a" stroke-width="1.0" />
<line x1="230.32" y1="135" x2="230.32" y2="139" stroke="#1a1a1a" stroke-width="1.0" />
<line x1="232.42" y1="135" x2="232.42" y2="139" stroke="#1a1a1a" stroke-width="1.0" />
<line x1="234.86" y1="135" x2="234.86" y2="139" stroke="#1a1a1a" stroke-width="1.0" />
<line x1="237.3" y1="135" x2="237.3" y2="139" stroke="#1a1a1a" stroke-width="1.0" />
<line x1="239.74" y1="135" x2="239.74" y2="139" stroke="#1a1a1a" stroke-width="1.0" />
<line x1="242.17" y1="135" x2="242.17" y2="139" stroke="#1a1a1a" stroke-width="1.0" />
<line x1="244.61" y1="135" x2="244.61" y2="139" stroke="#1a1a1a" stroke-width="1.0" />
<line x1="247.05" y1="135" x2="247.05" y2="139" stroke="#1a1a1a" stroke-width="1.0" />
<line x1="249.49" y1="135" x2="249.49" y2="139" stroke="#1a1a1a" stroke-width="1.0" />
<line x1="251.93" y1="135" x2="251.93" y2="139" stroke="#1a1a1a" stroke-width="1.0" />
<line x1="254.37" y1="135" x2="254.37" y2="139" stroke="#1a1a1a" stroke-width="1.0" />
<line x1="256.81" y1="135" x2="256.81" y2="139" stroke="#1a1a1a" stroke-width="1.0" />
<line x1="259.25" y1="135" x2="259.25" y2="139" stroke="#1a1a1a" stroke-width="1.0" />
<line x1="261.69" y1="135" x2="261.69" y2="139" stroke="#1a1a1a" stroke-width="1.0" />
<line x1="264.12" y1="135" x2="264.12" y2="139" stroke="#1a1a1a" stroke-width="1.0" />
<line x1="266.56" y1="135" x2="266.56" y2="139" stroke="#1a1a1a" stroke-width="1.0" />
<line x1="269" y1="135" x2="269" y2="139" stroke="#1a1a1a" stroke-width="1.0" />
<line x1="271.44" y1="135" x2="271.44" y2="139" stroke="#1a1a1a" stroke-width="1.0" />
<line x1="273.88" y1="135" x2="273.88" y2="139" stroke="#1a1a1a" stroke-width="1.0" />
<line x1="276.32" y1="135" x2="276.32" y2="139" stroke="#1a1a1a" stroke-width="1.0" />
<line x1="278.76" y1="135" x2="278.76" y2="139" stroke="#1a1a1a" stroke-width="1.0" />
<line x1="281.2" y1="135" x2="281.2" y2="139" stroke="#1a1a1a" stroke-width="1.0" />
<line x1="283.64" y1="135" x2="283.64" y2="139" stroke="#1a1a1a" stroke-width="1.0" />
<line x1="286.07" y1="135" x2="286.07" y2="139" stroke="#1a1a1a" stroke-width="1.0" />
<line x1="288.51" y1="135" x2="288.51" y2="139" stroke="#1a1a1a" stroke-width="1.0" />
<line x1="290.95" y1="135" x2="290.95" y2="139" stroke="#1a1a1a" stroke-width="1.0" />
<line x1="293.39" y1="135" x2="293.39" y2="139" stroke="#1a1a1a" stroke-width="1.0" />
<line x1="295.83" y1="135" x2="295.83" y2="139" stroke="#1a1a1a" stroke-width="1.0" />
<line x1="298.27" y1="135" x2="298.27" y2="139" stroke="#1a1a1a" stroke-width="1.0" />
<line x1="300.71" y1="135" x2="300.71" y2="139" stroke="#1a1a1a" stroke-width="1.0" />
<line x1="303.15" y1="135" x2="303.15" y2="139" stroke="#1a1a1a" stroke-width="1.0" />
<line x1="305.59" y1="135" x2="305.59" y2="139" stroke="#1a1a1a" stroke-width="1.0" />
<line x1="308.02" y1="135" x2="308.02" y2="139" stroke="#1a1a1a" stroke-width="1.0" />
<line x1="310.46" y1="135" x2="310.46" y2="139" stroke="#1a1a1a" stroke-width="1.0" />
<line x1="312.9" y1="135" x2="312.9" y2="139" stroke="#1a1a1a" stroke-width="1.0" />
<line x1="315.34" y1="135" x2="315.34" y2="139" stroke="#1a1a1a" stroke-width="1.0" />
<line x1="317.78" y1="135" x2="317.78" y2="139" stroke="#1a1a1a" stroke-width="1.0" />
<line x1="320.19" y1="135" x2="320.19" y2="139" stroke="#1a1a1a" stroke-width="1.0" />
<line x1="322.57" y1="135" x2="322.57" y2="139" stroke="#1a1a1a" stroke-width="1.0" />
<line x1="324.95" y1="135" x2="324.95" y2="139" stroke="#1a1a1a" stroke-width="1.0" />
<line x1="327.32" y1="135" x2="327.32" y2="139" stroke="#1a1a1a" stroke-width="1.0" />
<line x1="329.7" y1="135" x2="329.7" y2="139" stroke="#1a1a1a" stroke-width="1.0" />
<line x1="332.08" y1="135" x2="332.08" y2="139" stroke="#1a1a1a" stroke-width="1.0" />
<line x1="334.46" y1="135" x2="334.46" y2="139" stroke="#1a1a1a" stroke-width="1.0" />
<line x1="336.84" y1="135" x2="336.84" y2="139" stroke="#1a1a1a" stroke-width="1.0" />
<line x1="339.22" y1="135" x2="339.22" y2="139" stroke="#1a1a1a" stroke-width="1.0" />
<line x1="341.59" y1="135" x2="341.59" y2="139" stroke="#1a1a1a" stroke-width="1.0" />
<line x1="343.97" y1="135" x2="343.97" y2="139" stroke="#1a1a1a" stroke-width="1.0" />
<line x1="346.35" y1="135" x2="346.35" y2="139" stroke="#1a1a1a" stroke-width="1.0" />
<line x1="348.73" y1="135" x2="348.73" y2="139" stroke="#1a1a1a" stroke-width="1.0" />
<line x1="351.11" y1="135" x2="351.11" y2="139" stroke="#1a1a1a" stroke-width="1.0" />
<line x1="353.49" y1="135" x2="353.49" y2="139" stroke="#1a1a1a" stroke-width="1.0" />
<line x1="355.86" y1="135" x2="355.86" y2="139" stroke="#1a1a1a" stroke-width="1.0" />
<line x1="358.24" y1="135" x2="358.24" y2="139" stroke="#1a1a1a" stroke-width="1.0" />
<line x1="360.62" y1="135" x2="360.62" y2="139" stroke="#1a1a1a" stroke-width="1.0" />
<line x1="363" y1="135" x2="363" y2="139" stroke="#1a1a1a" stroke-width="1.0" />
<line x1="365.38" y1="135" x2="365.38" y2="139" stroke="#1a1a1a" stroke-width="1.0" />
<line x1="367.76" y1="135" x2="367.76" y2="139" stroke="#1a1a1a" stroke-width="1.0" />
<line x1="370.14" y1="135" x2="370.14" y2="139" stroke="#1a1a1a" stroke-width="1.0" />
<line x1="372.51" y1="135" x2="372.51" y2="139" stroke="#1a1a1a" stroke-width="1.0" />
<line x1="374.89" y1="135" x2="374.89" y2="139" stroke="#1a1a1a" stroke-width="1.0" />
<line x1="377.27" y1="135" x2="377.27" y2="139" stroke="#1a1a1a" stroke-width="1.0" />
<line x1="379.65" y1="135" x2="379.65" y2="139" stroke="#1a1a1a" stroke-width="1.0" />
<line x1="382.03" y1="135" x2="382.03" y2="139" stroke="#1a1a1a" stroke-width="1.0" />
<line x1="384.41" y1="135" x2="384.41" y2="139" stroke="#1a1a1a" stroke-width="1.0" />
<line x1="386.78" y1="135" x2="386.78" y2="139" stroke="#1a1a1a" stroke-width="1.0" />
<line x1="389.16" y1="135" x2="389.16" y2="139" stroke="#1a1a1a" stroke-width="1.0" />
<line x1="391.54" y1="135" x2="391.54" y2="139" stroke="#1a1a1a" stroke-width="1.0" />
<line x1="393.92" y1="135" x2="393.92" y2="139" stroke="#1a1a1a" stroke-width="1.0" />
<line x1="396.3" y1="135" x2="396.3" y2="139" stroke="#1a1a1a" stroke-width="1.0" />
<line x1="398.68" y1="135" x2="398.68" y2="139" stroke="#1a1a1a" stroke-width="1.0" />
<line x1="401.05" y1="135" x2="401.05" y2="139" stroke="#1a1a1a" stroke-width="1.0" />
<line x1="403.43" y1="135" x2="403.43" y2="139" stroke="#1a1a1a" stroke-width="1.0" />
<line x1="405.81" y1="135" x2="405.81" y2="139" stroke="#1a1a1a" stroke-width="1.0" />
<line x1="408.22" y1="135" x2="408.22" y2="139" stroke="#1a1a1a" stroke-width="1.0" />
<line x1="410.65" y1="135" x2="410.65" y2="139" stroke="#1a1a1a" stroke-width="1.0" />
<line x1="413.08" y1="135" x2="413.08" y2="139" stroke="#1a1a1a" stroke-width="1.0" />
<line x1="415.51" y1="135" x2="415.51" y2="139" stroke="#1a1a1a" stroke-width="1.0" />
<line x1="417.95" y1="135" x2="417.95" y2="139" stroke="#1a1a1a" stroke-width="1.0" />
<line x1="420.38" y1="135" x2="420.38" y2="139" stroke="#1a1a1a" stroke-width="1.0" />
<line x1="422.81" y1="135" x2="422.81" y2="139" stroke="#1a1a1a" stroke-width="1.0" />
<line x1="425.24" y1="135" x2="425.24" y2="139" stroke="#1a1a1a" stroke-width="1.0" />
<line x1="427.68" y1="135" x2="427.68" y2="139" stroke="#1a1a1a" stroke-width="1.0" />
<line x1="430.11" y1="135" x2="430.11" y2="139" stroke="#1a1a1a" stroke-width="1.0" />
<line x1="432.54" y1="135" x2="432.54" y2="139" stroke="#1a1a1a" stroke-width="1.0" />
<line x1="434.97" y1="135" x2="434.97" y2="139" stroke="#1a1a1a" stroke-width="1.0" />
<line x1="437.41" y1="135" x2="437.41" y2="139" stroke="#1a1a1a" stroke-width="1.0" />
<line x1="439.84" y1="135" x2="439.84" y2="139" stroke="#1a1a1a" stroke-width="1.0" />
<line x1="442.27" y1="135" x2="442.27" y2="139" stroke="#1a1a1a" stroke-width="1.0" />
<line x1="444.7" y1="135" x2="444.7" y2="139" stroke="#1a1a1a" stroke-width="1.0" />
<line x1="447.14" y1="135" x2="447.14" y2="139" stroke="#1a1a1a" stroke-width="1.0" />
<line x1="449.57" y1="135" x2="449.57" y2="139" stroke="#1a1a1a" stroke-width="1.0" />
<line x1="452" y1="135" x2="452" y2="139" stroke="#1a1a1a" stroke-width="1.0" />
<line x1="454.43" y1="135" x2="454.43" y2="139" stroke="#1a1a1a" stroke-width="1.0" />
<line x1="456.86" y1="135" x2="456.86" y2="139" stroke="#1a1a1a" stroke-width="1.0" />
<line x1="459.3" y1="135" x2="459.3" y2="139" stroke="#1a1a1a" stroke-width="1.0" />
<line x1="461.73" y1="135" x2="461.73" y2="139" stroke="#1a1a1a" stroke-width="1.0" />
<line x1="464.16" y1="135" x2="464.16" y2="139" stroke="#1a1a1a" stroke-width="1.0" />
<line x1="466.59" y1="135" x2="466.59" y2="139" stroke="#1a1a1a" stroke-width="1.0" />
<line x1="469.03" y1="135" x2="469.03" y2="139" stroke="#1a1a1a" stroke-width="1.0" />
<line x1="471.46" y1="135" x2="471.46" y2="139" stroke="#1a1a1a" stroke-width="1.0" />
<line x1="473.89" y1="135" x2="473.89" y2="139" stroke="#1a1a1a" stroke-width="1.0" />
<line x1="476.32" y1="135" x2="476.32" y2="139" stroke="#1a1a1a" stroke-width="1.0" />
<line x1="478.76" y1="135" x2="478.76" y2="139" stroke="#1a1a1a" stroke-width="1.0" />
<line x1="481.19" y1="135" x2="481.19" y2="139" stroke="#1a1a1a" stroke-width="1.0" />
<line x1="483.62" y1="135" x2="483.62" y2="139" stroke="#1a1a1a" stroke-width="1.0" />
<line x1="486.05" y1="135" x2="486.05" y2="139" stroke="#1a1a1a" stroke-width="1.0" />
<line x1="488.49" y1="135" x2="488.49" y2="139" stroke="#1a1a1a" stroke-width="1.0" />
<line x1="490.92" y1="135" x2="490.92" y2="139" stroke="#1a1a1a" stroke-width="1.0" />
<line x1="493.35" y1="135" x2="493.35" y2="139" stroke="#1a1a1a" stroke-width="1.0" />
<line x1="495.78" y1="135" x2="495.78" y2="139" stroke="#1a1a1a" stroke-width="1.0" />
<text transform="translate(19.2 80.7) rotate(-90)" x="0" y="2.95" font-size="8.2" text-anchor="middle" textLength="72.4" lengthAdjust="spacingAndGlyphs" fill="#222" stroke="#222" stroke-width="0.22">Proportion of cells (%)</text>
<rect x="176" y="151" width="11" height="11" fill="#114f8b" />
<text x="191.5" y="159.2" font-size="7.5" text-anchor="start" fill="#2a2a2a" font-weight="normal" >B - cells</text>
<rect x="176" y="165.6" width="11" height="11" fill="#919dc3" />
<text x="191.5" y="173.8" font-size="7.5" text-anchor="start" fill="#2a2a2a" font-weight="normal" >CD4 T - cells</text>
<rect x="253" y="151" width="11" height="11" fill="#c96b12" />
<text x="268.5" y="159.2" font-size="7.5" text-anchor="start" fill="#2a2a2a" font-weight="normal" >CD8 T - cells</text>
<rect x="253" y="165.6" width="11" height="11" fill="#d48d48" />
<text x="268.5" y="173.8" font-size="7.5" text-anchor="start" fill="#2a2a2a" font-weight="normal" >Monocytes</text>
<rect x="329.3" y="151" width="11" height="11" fill="#e2ad76" />
<text x="344.8" y="159.2" font-size="7.5" text-anchor="start" fill="#2a2a2a" font-weight="normal" >NK cells</text>
<rect x="329.3" y="165.6" width="11" height="11" fill="#f2dcc8" />
<text x="344.8" y="173.8" font-size="7.5" text-anchor="start" fill="#2a2a2a" font-weight="normal" >NKT cells</text>
<text x="8.2" y="207.1" font-size="14.6" text-anchor="start" fill="#111" font-weight="bold" >B</text>
<circle cx="59.5" cy="336.4" r="1.7" fill="#f2a24e" fill-opacity="0.24"/>
<circle cx="65.4" cy="274.3" r="1.7" fill="#f2a24e" fill-opacity="0.24"/>
<circle cx="64.7" cy="310.0" r="1.7" fill="#f2a24e" fill-opacity="0.24"/>
<circle cx="60.5" cy="245.0" r="1.7" fill="#f2a24e" fill-opacity="0.24"/>
<circle cx="62.5" cy="340.0" r="1.7" fill="#f2a24e" fill-opacity="0.24"/>
<circle cx="62.1" cy="266.2" r="1.7" fill="#f2a24e" fill-opacity="0.24"/>
<circle cx="63.8" cy="349.6" r="1.7" fill="#f2a24e" fill-opacity="0.24"/>
<circle cx="64.9" cy="306.1" r="1.7" fill="#f2a24e" fill-opacity="0.24"/>
<circle cx="59.1" cy="299.5" r="1.7" fill="#f2a24e" fill-opacity="0.24"/>
<circle cx="58.6" cy="257.6" r="1.7" fill="#f2a24e" fill-opacity="0.24"/>
<circle cx="65.3" cy="296.1" r="1.7" fill="#f2a24e" fill-opacity="0.24"/>
<circle cx="61.9" cy="298.2" r="1.7" fill="#f2a24e" fill-opacity="0.24"/>
<circle cx="64.7" cy="275.5" r="1.7" fill="#f2a24e" fill-opacity="0.24"/>
<circle cx="58.4" cy="325.0" r="1.7" fill="#f2a24e" fill-opacity="0.24"/>
<circle cx="62.0" cy="236.4" r="1.7" fill="#f2a24e" fill-opacity="0.24"/>
<circle cx="64.3" cy="287.6" r="1.7" fill="#f2a24e" fill-opacity="0.24"/>
<circle cx="60.3" cy="312.6" r="1.7" fill="#f2a24e" fill-opacity="0.24"/>
<circle cx="66.2" cy="250.8" r="1.7" fill="#f2a24e" fill-opacity="0.24"/>
<circle cx="65.8" cy="266.8" r="1.7" fill="#f2a24e" fill-opacity="0.24"/>
<circle cx="58.6" cy="345.1" r="1.7" fill="#f2a24e" fill-opacity="0.24"/>
<circle cx="58.6" cy="293.3" r="1.7" fill="#f2a24e" fill-opacity="0.24"/>
<circle cx="62.8" cy="297.9" r="1.7" fill="#f2a24e" fill-opacity="0.24"/>
<circle cx="107.4" cy="353.7" r="1.7" fill="#f2a24e" fill-opacity="0.24"/>
<circle cx="102.8" cy="344.3" r="1.7" fill="#f2a24e" fill-opacity="0.24"/>
<circle cx="101.4" cy="317.8" r="1.7" fill="#f2a24e" fill-opacity="0.24"/>
<circle cx="103.1" cy="333.1" r="1.7" fill="#f2a24e" fill-opacity="0.24"/>
<circle cx="99.9" cy="328.1" r="1.7" fill="#f2a24e" fill-opacity="0.24"/>
<circle cx="101.5" cy="359.2" r="1.7" fill="#f2a24e" fill-opacity="0.24"/>
<circle cx="103.2" cy="316.6" r="1.7" fill="#f2a24e" fill-opacity="0.24"/>
<circle cx="103.7" cy="351.8" r="1.7" fill="#f2a24e" fill-opacity="0.24"/>
<circle cx="101.5" cy="339.6" r="1.7" fill="#f2a24e" fill-opacity="0.24"/>
<circle cx="101.5" cy="303.9" r="1.7" fill="#f2a24e" fill-opacity="0.24"/>
<circle cx="101.4" cy="323.9" r="1.7" fill="#f2a24e" fill-opacity="0.24"/>
<circle cx="103.4" cy="310.7" r="1.7" fill="#f2a24e" fill-opacity="0.24"/>
<circle cx="102.0" cy="353.5" r="1.7" fill="#f2a24e" fill-opacity="0.24"/>
<circle cx="99.8" cy="341.2" r="1.7" fill="#f2a24e" fill-opacity="0.24"/>
<circle cx="106.5" cy="275.4" r="1.7" fill="#f2a24e" fill-opacity="0.24"/>
<circle cx="104.2" cy="290.5" r="1.7" fill="#f2a24e" fill-opacity="0.24"/>
<circle cx="104.9" cy="312.1" r="1.7" fill="#f2a24e" fill-opacity="0.24"/>
<circle cx="101.2" cy="293.5" r="1.7" fill="#f2a24e" fill-opacity="0.24"/>
<circle cx="107.8" cy="272.6" r="1.7" fill="#f2a24e" fill-opacity="0.24"/>
<circle cx="106.7" cy="310.2" r="1.7" fill="#f2a24e" fill-opacity="0.24"/>
<circle cx="100.6" cy="311.4" r="1.7" fill="#f2a24e" fill-opacity="0.24"/>
<circle cx="102.4" cy="349.0" r="1.7" fill="#f2a24e" fill-opacity="0.24"/>
<circle cx="105.6" cy="294.4" r="1.7" fill="#f2a24e" fill-opacity="0.24"/>
<circle cx="105.5" cy="309.2" r="1.7" fill="#f2a24e" fill-opacity="0.24"/>
<circle cx="107.3" cy="279.3" r="1.7" fill="#f2a24e" fill-opacity="0.24"/>
<circle cx="103.1" cy="332.6" r="1.7" fill="#f2a24e" fill-opacity="0.24"/>
<circle cx="106.5" cy="318.7" r="1.7" fill="#f2a24e" fill-opacity="0.24"/>
<circle cx="105.2" cy="281.2" r="1.7" fill="#f2a24e" fill-opacity="0.24"/>
<circle cx="102.1" cy="326.9" r="1.7" fill="#f2a24e" fill-opacity="0.24"/>
<circle cx="104.5" cy="307.0" r="1.7" fill="#f2a24e" fill-opacity="0.24"/>
<circle cx="148.1" cy="332.7" r="1.7" fill="#f2a24e" fill-opacity="0.24"/>
<circle cx="147.8" cy="346.6" r="1.7" fill="#f2a24e" fill-opacity="0.24"/>
<circle cx="145.0" cy="285.6" r="1.7" fill="#f2a24e" fill-opacity="0.24"/>
<circle cx="145.7" cy="248.3" r="1.7" fill="#f2a24e" fill-opacity="0.24"/>
<circle cx="141.2" cy="301.8" r="1.7" fill="#f2a24e" fill-opacity="0.24"/>
<circle cx="142.9" cy="333.6" r="1.7" fill="#f2a24e" fill-opacity="0.24"/>
<circle cx="147.4" cy="301.2" r="1.7" fill="#f2a24e" fill-opacity="0.24"/>
<circle cx="144.3" cy="280.4" r="1.7" fill="#f2a24e" fill-opacity="0.24"/>
<circle cx="142.3" cy="258.3" r="1.7" fill="#f2a24e" fill-opacity="0.24"/>
<circle cx="145.4" cy="322.2" r="1.7" fill="#f2a24e" fill-opacity="0.24"/>
<circle cx="146.7" cy="273.5" r="1.7" fill="#f2a24e" fill-opacity="0.24"/>
<circle cx="146.4" cy="319.8" r="1.7" fill="#f2a24e" fill-opacity="0.24"/>
<circle cx="144.0" cy="322.1" r="1.7" fill="#f2a24e" fill-opacity="0.24"/>
<circle cx="144.5" cy="269.6" r="1.7" fill="#f2a24e" fill-opacity="0.24"/>
<circle cx="145.1" cy="319.2" r="1.7" fill="#f2a24e" fill-opacity="0.24"/>
<circle cx="147.3" cy="243.5" r="1.7" fill="#f2a24e" fill-opacity="0.24"/>
<circle cx="145.2" cy="308.3" r="1.7" fill="#f2a24e" fill-opacity="0.24"/>
<circle cx="144.1" cy="274.0" r="1.7" fill="#f2a24e" fill-opacity="0.24"/>
<circle cx="144.9" cy="233.4" r="1.7" fill="#f2a24e" fill-opacity="0.24"/>
<circle cx="141.1" cy="301.3" r="1.7" fill="#f2a24e" fill-opacity="0.24"/>
<circle cx="141.2" cy="295.2" r="1.7" fill="#f2a24e" fill-opacity="0.24"/>
<circle cx="146.7" cy="314.0" r="1.7" fill="#f2a24e" fill-opacity="0.24"/>
<circle cx="149.0" cy="294.4" r="1.7" fill="#f2a24e" fill-opacity="0.24"/>
<circle cx="145.8" cy="333.1" r="1.7" fill="#f2a24e" fill-opacity="0.24"/>
<circle cx="144.1" cy="294.0" r="1.7" fill="#f2a24e" fill-opacity="0.24"/>
<circle cx="142.3" cy="296.9" r="1.7" fill="#f2a24e" fill-opacity="0.24"/>
<circle cx="145.0" cy="227.4" r="1.7" fill="#f2a24e" fill-opacity="0.24"/>
<circle cx="149.0" cy="332.0" r="1.7" fill="#f2a24e" fill-opacity="0.24"/>
<circle cx="147.2" cy="290.1" r="1.7" fill="#f2a24e" fill-opacity="0.24"/>
<circle cx="145.3" cy="326.0" r="1.7" fill="#f2a24e" fill-opacity="0.24"/>
<circle cx="189.2" cy="274.6" r="1.7" fill="#f2a24e" fill-opacity="0.24"/>
<circle cx="184.0" cy="280.6" r="1.7" fill="#f2a24e" fill-opacity="0.24"/>
<circle cx="186.4" cy="320.9" r="1.7" fill="#f2a24e" fill-opacity="0.24"/>
<circle cx="190.0" cy="289.4" r="1.7" fill="#f2a24e" fill-opacity="0.24"/>
<circle cx="186.9" cy="271.4" r="1.7" fill="#f2a24e" fill-opacity="0.24"/>
<circle cx="185.9" cy="247.2" r="1.7" fill="#f2a24e" fill-opacity="0.24"/>
<circle cx="184.3" cy="239.9" r="1.7" fill="#f2a24e" fill-opacity="0.24"/>
<circle cx="186.6" cy="257.5" r="1.7" fill="#f2a24e" fill-opacity="0.24"/>
<circle cx="190.0" cy="307.3" r="1.7" fill="#f2a24e" fill-opacity="0.24"/>
<circle cx="182.2" cy="295.1" r="1.7" fill="#f2a24e" fill-opacity="0.24"/>
<circle cx="188.6" cy="319.2" r="1.7" fill="#f2a24e" fill-opacity="0.24"/>
<circle cx="188.9" cy="270.6" r="1.7" fill="#f2a24e" fill-opacity="0.24"/>
<circle cx="189.4" cy="255.5" r="1.7" fill="#f2a24e" fill-opacity="0.24"/>
<circle cx="188.2" cy="328.5" r="1.7" fill="#f2a24e" fill-opacity="0.24"/>
<circle cx="188.8" cy="273.5" r="1.7" fill="#f2a24e" fill-opacity="0.24"/>
<circle cx="186.4" cy="269.7" r="1.7" fill="#f2a24e" fill-opacity="0.24"/>
<circle cx="186.7" cy="258.3" r="1.7" fill="#f2a24e" fill-opacity="0.24"/>
<circle cx="185.6" cy="259.7" r="1.7" fill="#f2a24e" fill-opacity="0.24"/>
<circle cx="182.6" cy="253.8" r="1.7" fill="#f2a24e" fill-opacity="0.24"/>
<circle cx="189.3" cy="316.2" r="1.7" fill="#f2a24e" fill-opacity="0.24"/>
<circle cx="186.8" cy="265.5" r="1.7" fill="#f2a24e" fill-opacity="0.24"/>
<circle cx="183.8" cy="259.4" r="1.7" fill="#f2a24e" fill-opacity="0.24"/>
<circle cx="186.3" cy="248.3" r="1.7" fill="#f2a24e" fill-opacity="0.24"/>
<circle cx="186.1" cy="258.5" r="1.7" fill="#f2a24e" fill-opacity="0.24"/>
<circle cx="185.1" cy="309.6" r="1.7" fill="#f2a24e" fill-opacity="0.24"/>
<circle cx="185.0" cy="251.9" r="1.7" fill="#f2a24e" fill-opacity="0.24"/>
<circle cx="186.6" cy="281.1" r="1.7" fill="#f2a24e" fill-opacity="0.24"/>
<circle cx="187.3" cy="331.7" r="1.7" fill="#f2a24e" fill-opacity="0.24"/>
<circle cx="187.2" cy="332.9" r="1.7" fill="#f2a24e" fill-opacity="0.24"/>
<circle cx="185.9" cy="290.0" r="1.7" fill="#f2a24e" fill-opacity="0.24"/>
<circle cx="225.9" cy="285.3" r="1.7" fill="#f2a24e" fill-opacity="0.24"/>
<circle cx="227.5" cy="301.0" r="1.7" fill="#f2a24e" fill-opacity="0.24"/>
<circle cx="227.1" cy="268.8" r="1.7" fill="#f2a24e" fill-opacity="0.24"/>
<circle cx="230.5" cy="300.8" r="1.7" fill="#f2a24e" fill-opacity="0.24"/>
<circle cx="232.8" cy="318.4" r="1.7" fill="#f2a24e" fill-opacity="0.24"/>
<circle cx="232.2" cy="301.2" r="1.7" fill="#f2a24e" fill-opacity="0.24"/>
<circle cx="232.2" cy="271.7" r="1.7" fill="#f2a24e" fill-opacity="0.24"/>
<circle cx="232.4" cy="257.2" r="1.7" fill="#f2a24e" fill-opacity="0.24"/>
<circle cx="227.8" cy="346.9" r="1.7" fill="#f2a24e" fill-opacity="0.24"/>
<circle cx="232.6" cy="287.7" r="1.7" fill="#f2a24e" fill-opacity="0.24"/>
<circle cx="231.2" cy="308.3" r="1.7" fill="#f2a24e" fill-opacity="0.24"/>
<circle cx="226.3" cy="276.7" r="1.7" fill="#f2a24e" fill-opacity="0.24"/>
<circle cx="225.8" cy="259.7" r="1.7" fill="#f2a24e" fill-opacity="0.24"/>
<circle cx="225.8" cy="255.8" r="1.7" fill="#f2a24e" fill-opacity="0.24"/>
<circle cx="231.9" cy="306.5" r="1.7" fill="#f2a24e" fill-opacity="0.24"/>
<circle cx="227.7" cy="280.7" r="1.7" fill="#f2a24e" fill-opacity="0.24"/>
<circle cx="226.6" cy="272.3" r="1.7" fill="#f2a24e" fill-opacity="0.24"/>
<circle cx="230.8" cy="340.4" r="1.7" fill="#f2a24e" fill-opacity="0.24"/>
<circle cx="228.5" cy="285.6" r="1.7" fill="#f2a24e" fill-opacity="0.24"/>
<circle cx="226.2" cy="330.2" r="1.7" fill="#f2a24e" fill-opacity="0.24"/>
<circle cx="227.0" cy="294.9" r="1.7" fill="#f2a24e" fill-opacity="0.24"/>
<circle cx="230.0" cy="325.8" r="1.7" fill="#f2a24e" fill-opacity="0.24"/>
<circle cx="227.0" cy="285.0" r="1.7" fill="#f2a24e" fill-opacity="0.24"/>
<circle cx="227.9" cy="298.6" r="1.7" fill="#f2a24e" fill-opacity="0.24"/>
<circle cx="231.5" cy="308.6" r="1.7" fill="#f2a24e" fill-opacity="0.24"/>
<circle cx="229.4" cy="302.0" r="1.7" fill="#f2a24e" fill-opacity="0.24"/>
<circle cx="228.3" cy="308.0" r="1.7" fill="#f2a24e" fill-opacity="0.24"/>
<circle cx="229.6" cy="313.7" r="1.7" fill="#f2a24e" fill-opacity="0.24"/>
<circle cx="225.8" cy="294.9" r="1.7" fill="#f2a24e" fill-opacity="0.24"/>
<circle cx="228.8" cy="269.9" r="1.7" fill="#f2a24e" fill-opacity="0.24"/>
<circle cx="66.3" cy="359.2" r="1.7" fill="#5aa5dc" fill-opacity="0.24"/>
<circle cx="66.2" cy="358.6" r="1.7" fill="#5aa5dc" fill-opacity="0.24"/>
<circle cx="58.8" cy="357.5" r="1.7" fill="#5aa5dc" fill-opacity="0.24"/>
<circle cx="59.1" cy="356.7" r="1.7" fill="#5aa5dc" fill-opacity="0.24"/>
<circle cx="65.3" cy="354.9" r="1.7" fill="#5aa5dc" fill-opacity="0.24"/>
<circle cx="64.4" cy="357.0" r="1.7" fill="#5aa5dc" fill-opacity="0.24"/>
<circle cx="63.9" cy="353.2" r="1.7" fill="#5aa5dc" fill-opacity="0.24"/>
<circle cx="60.9" cy="359.2" r="1.7" fill="#5aa5dc" fill-opacity="0.24"/>
<circle cx="63.4" cy="340.7" r="1.7" fill="#5aa5dc" fill-opacity="0.24"/>
<circle cx="63.4" cy="357.1" r="1.7" fill="#5aa5dc" fill-opacity="0.24"/>
<circle cx="63.2" cy="356.9" r="1.7" fill="#5aa5dc" fill-opacity="0.24"/>
<circle cx="59.7" cy="353.1" r="1.7" fill="#5aa5dc" fill-opacity="0.24"/>
<circle cx="61.9" cy="354.5" r="1.7" fill="#5aa5dc" fill-opacity="0.24"/>
<circle cx="61.6" cy="359.2" r="1.7" fill="#5aa5dc" fill-opacity="0.24"/>
<circle cx="64.3" cy="349.3" r="1.7" fill="#5aa5dc" fill-opacity="0.24"/>
<circle cx="66.6" cy="354.5" r="1.7" fill="#5aa5dc" fill-opacity="0.24"/>
<circle cx="66.2" cy="357.6" r="1.7" fill="#5aa5dc" fill-opacity="0.24"/>
<circle cx="62.9" cy="359.0" r="1.7" fill="#5aa5dc" fill-opacity="0.24"/>
<circle cx="103.3" cy="232.7" r="1.7" fill="#5aa5dc" fill-opacity="0.24"/>
<circle cx="101.8" cy="269.3" r="1.7" fill="#5aa5dc" fill-opacity="0.24"/>
<circle cx="99.9" cy="334.1" r="1.7" fill="#5aa5dc" fill-opacity="0.24"/>
<circle cx="99.8" cy="320.4" r="1.7" fill="#5aa5dc" fill-opacity="0.24"/>
<circle cx="103.5" cy="308.4" r="1.7" fill="#5aa5dc" fill-opacity="0.24"/>
<circle cx="102.2" cy="310.1" r="1.7" fill="#5aa5dc" fill-opacity="0.24"/>
<circle cx="102.8" cy="251.6" r="1.7" fill="#5aa5dc" fill-opacity="0.24"/>
<circle cx="107.0" cy="325.6" r="1.7" fill="#5aa5dc" fill-opacity="0.24"/>
<circle cx="104.0" cy="295.2" r="1.7" fill="#5aa5dc" fill-opacity="0.24"/>
<circle cx="104.2" cy="308.8" r="1.7" fill="#5aa5dc" fill-opacity="0.24"/>
<circle cx="101.6" cy="359.1" r="1.7" fill="#5aa5dc" fill-opacity="0.24"/>
<circle cx="99.8" cy="359.2" r="1.7" fill="#5aa5dc" fill-opacity="0.24"/>
<circle cx="102.3" cy="359.2" r="1.7" fill="#5aa5dc" fill-opacity="0.24"/>
<circle cx="100.7" cy="344.3" r="1.7" fill="#5aa5dc" fill-opacity="0.24"/>
<circle cx="103.8" cy="293.0" r="1.7" fill="#5aa5dc" fill-opacity="0.24"/>
<circle cx="107.9" cy="304.2" r="1.7" fill="#5aa5dc" fill-opacity="0.24"/>
<circle cx="105.2" cy="323.5" r="1.7" fill="#5aa5dc" fill-opacity="0.24"/>
<circle cx="101.1" cy="348.0" r="1.7" fill="#5aa5dc" fill-opacity="0.24"/>
<circle cx="107.0" cy="342.6" r="1.7" fill="#5aa5dc" fill-opacity="0.24"/>
<circle cx="106.2" cy="332.1" r="1.7" fill="#5aa5dc" fill-opacity="0.24"/>
<circle cx="105.7" cy="347.9" r="1.7" fill="#5aa5dc" fill-opacity="0.24"/>
<circle cx="107.1" cy="329.8" r="1.7" fill="#5aa5dc" fill-opacity="0.24"/>
<circle cx="105.9" cy="257.2" r="1.7" fill="#5aa5dc" fill-opacity="0.24"/>
<circle cx="106.1" cy="326.2" r="1.7" fill="#5aa5dc" fill-opacity="0.24"/>
<circle cx="102.5" cy="344.9" r="1.7" fill="#5aa5dc" fill-opacity="0.24"/>
<circle cx="107.7" cy="277.7" r="1.7" fill="#5aa5dc" fill-opacity="0.24"/>
<circle cx="107.6" cy="322.8" r="1.7" fill="#5aa5dc" fill-opacity="0.24"/>
<circle cx="101.0" cy="337.0" r="1.7" fill="#5aa5dc" fill-opacity="0.24"/>
<circle cx="105.8" cy="317.5" r="1.7" fill="#5aa5dc" fill-opacity="0.24"/>
<circle cx="105.5" cy="328.7" r="1.7" fill="#5aa5dc" fill-opacity="0.24"/>
<circle cx="144.7" cy="337.0" r="1.7" fill="#5aa5dc" fill-opacity="0.24"/>
<circle cx="145.2" cy="351.9" r="1.7" fill="#5aa5dc" fill-opacity="0.24"/>
<circle cx="144.9" cy="348.8" r="1.7" fill="#5aa5dc" fill-opacity="0.24"/>
<circle cx="148.5" cy="331.3" r="1.7" fill="#5aa5dc" fill-opacity="0.24"/>
<circle cx="145.0" cy="333.5" r="1.7" fill="#5aa5dc" fill-opacity="0.24"/>
<circle cx="147.7" cy="347.3" r="1.7" fill="#5aa5dc" fill-opacity="0.24"/>
<circle cx="143.8" cy="312.0" r="1.7" fill="#5aa5dc" fill-opacity="0.24"/>
<circle cx="148.2" cy="330.7" r="1.7" fill="#5aa5dc" fill-opacity="0.24"/>
<circle cx="148.3" cy="347.9" r="1.7" fill="#5aa5dc" fill-opacity="0.24"/>
<circle cx="144.7" cy="308.3" r="1.7" fill="#5aa5dc" fill-opacity="0.24"/>
<circle cx="145.6" cy="316.5" r="1.7" fill="#5aa5dc" fill-opacity="0.24"/>
<circle cx="148.5" cy="336.6" r="1.7" fill="#5aa5dc" fill-opacity="0.24"/>
<circle cx="146.8" cy="345.5" r="1.7" fill="#5aa5dc" fill-opacity="0.24"/>
<circle cx="144.9" cy="344.4" r="1.7" fill="#5aa5dc" fill-opacity="0.24"/>
<circle cx="142.7" cy="324.8" r="1.7" fill="#5aa5dc" fill-opacity="0.24"/>
<circle cx="143.5" cy="337.4" r="1.7" fill="#5aa5dc" fill-opacity="0.24"/>
<circle cx="146.6" cy="341.1" r="1.7" fill="#5aa5dc" fill-opacity="0.24"/>
<circle cx="142.2" cy="345.7" r="1.7" fill="#5aa5dc" fill-opacity="0.24"/>
<circle cx="148.4" cy="327.2" r="1.7" fill="#5aa5dc" fill-opacity="0.24"/>
<circle cx="143.1" cy="357.0" r="1.7" fill="#5aa5dc" fill-opacity="0.24"/>
<circle cx="148.4" cy="347.5" r="1.7" fill="#5aa5dc" fill-opacity="0.24"/>
<circle cx="143.4" cy="342.0" r="1.7" fill="#5aa5dc" fill-opacity="0.24"/>
<circle cx="148.8" cy="323.4" r="1.7" fill="#5aa5dc" fill-opacity="0.24"/>
<circle cx="146.7" cy="353.6" r="1.7" fill="#5aa5dc" fill-opacity="0.24"/>
<circle cx="145.0" cy="325.3" r="1.7" fill="#5aa5dc" fill-opacity="0.24"/>
<circle cx="145.1" cy="306.5" r="1.7" fill="#5aa5dc" fill-opacity="0.24"/>
<circle cx="146.2" cy="359.2" r="1.7" fill="#5aa5dc" fill-opacity="0.24"/>
<circle cx="145.7" cy="347.3" r="1.7" fill="#5aa5dc" fill-opacity="0.24"/>
<circle cx="184.7" cy="350.4" r="1.7" fill="#5aa5dc" fill-opacity="0.24"/>
<circle cx="183.8" cy="335.1" r="1.7" fill="#5aa5dc" fill-opacity="0.24"/>
<circle cx="186.3" cy="358.4" r="1.7" fill="#5aa5dc" fill-opacity="0.24"/>
<circle cx="189.8" cy="355.7" r="1.7" fill="#5aa5dc" fill-opacity="0.24"/>
<circle cx="187.3" cy="348.7" r="1.7" fill="#5aa5dc" fill-opacity="0.24"/>
<circle cx="182.7" cy="356.4" r="1.7" fill="#5aa5dc" fill-opacity="0.24"/>
<circle cx="188.9" cy="356.1" r="1.7" fill="#5aa5dc" fill-opacity="0.24"/>
<circle cx="188.1" cy="324.6" r="1.7" fill="#5aa5dc" fill-opacity="0.24"/>
<circle cx="189.6" cy="332.2" r="1.7" fill="#5aa5dc" fill-opacity="0.24"/>
<circle cx="183.7" cy="324.0" r="1.7" fill="#5aa5dc" fill-opacity="0.24"/>
<circle cx="188.3" cy="355.9" r="1.7" fill="#5aa5dc" fill-opacity="0.24"/>
<circle cx="182.6" cy="343.2" r="1.7" fill="#5aa5dc" fill-opacity="0.24"/>
<circle cx="187.5" cy="326.0" r="1.7" fill="#5aa5dc" fill-opacity="0.24"/>
<circle cx="184.4" cy="359.2" r="1.7" fill="#5aa5dc" fill-opacity="0.24"/>
<circle cx="184.0" cy="357.1" r="1.7" fill="#5aa5dc" fill-opacity="0.24"/>
<circle cx="189.3" cy="339.1" r="1.7" fill="#5aa5dc" fill-opacity="0.24"/>
<circle cx="183.0" cy="359.2" r="1.7" fill="#5aa5dc" fill-opacity="0.24"/>
<circle cx="186.4" cy="331.2" r="1.7" fill="#5aa5dc" fill-opacity="0.24"/>
<circle cx="189.2" cy="359.2" r="1.7" fill="#5aa5dc" fill-opacity="0.24"/>
<circle cx="184.1" cy="336.9" r="1.7" fill="#5aa5dc" fill-opacity="0.24"/>
<circle cx="183.9" cy="345.6" r="1.7" fill="#5aa5dc" fill-opacity="0.24"/>
<circle cx="189.4" cy="358.1" r="1.7" fill="#5aa5dc" fill-opacity="0.24"/>
<circle cx="185.6" cy="351.1" r="1.7" fill="#5aa5dc" fill-opacity="0.24"/>
<circle cx="188.0" cy="345.9" r="1.7" fill="#5aa5dc" fill-opacity="0.24"/>
<circle cx="182.4" cy="332.9" r="1.7" fill="#5aa5dc" fill-opacity="0.24"/>
<circle cx="185.1" cy="341.2" r="1.7" fill="#5aa5dc" fill-opacity="0.24"/>
<circle cx="183.5" cy="351.2" r="1.7" fill="#5aa5dc" fill-opacity="0.24"/>
<circle cx="187.7" cy="350.5" r="1.7" fill="#5aa5dc" fill-opacity="0.24"/>
<circle cx="182.8" cy="353.5" r="1.7" fill="#5aa5dc" fill-opacity="0.24"/>
<circle cx="190.0" cy="333.8" r="1.7" fill="#5aa5dc" fill-opacity="0.24"/>
<circle cx="225.9" cy="339.7" r="1.7" fill="#5aa5dc" fill-opacity="0.24"/>
<circle cx="231.7" cy="354.2" r="1.7" fill="#5aa5dc" fill-opacity="0.24"/>
<circle cx="225.8" cy="359.2" r="1.7" fill="#5aa5dc" fill-opacity="0.24"/>
<circle cx="227.8" cy="316.9" r="1.7" fill="#5aa5dc" fill-opacity="0.24"/>
<circle cx="232.4" cy="338.9" r="1.7" fill="#5aa5dc" fill-opacity="0.24"/>
<circle cx="227.0" cy="350.2" r="1.7" fill="#5aa5dc" fill-opacity="0.24"/>
<circle cx="227.2" cy="342.0" r="1.7" fill="#5aa5dc" fill-opacity="0.24"/>
<circle cx="231.4" cy="318.4" r="1.7" fill="#5aa5dc" fill-opacity="0.24"/>
<circle cx="228.8" cy="313.5" r="1.7" fill="#5aa5dc" fill-opacity="0.24"/>
<circle cx="226.0" cy="341.5" r="1.7" fill="#5aa5dc" fill-opacity="0.24"/>
<circle cx="233.8" cy="336.7" r="1.7" fill="#5aa5dc" fill-opacity="0.24"/>
<circle cx="226.9" cy="359.2" r="1.7" fill="#5aa5dc" fill-opacity="0.24"/>
<circle cx="226.0" cy="339.4" r="1.7" fill="#5aa5dc" fill-opacity="0.24"/>
<circle cx="228.5" cy="330.3" r="1.7" fill="#5aa5dc" fill-opacity="0.24"/>
<circle cx="230.7" cy="359.2" r="1.7" fill="#5aa5dc" fill-opacity="0.24"/>
<circle cx="231.8" cy="324.7" r="1.7" fill="#5aa5dc" fill-opacity="0.24"/>
<circle cx="226.6" cy="343.1" r="1.7" fill="#5aa5dc" fill-opacity="0.24"/>
<circle cx="228.4" cy="331.8" r="1.7" fill="#5aa5dc" fill-opacity="0.24"/>
<circle cx="225.9" cy="347.1" r="1.7" fill="#5aa5dc" fill-opacity="0.24"/>
<circle cx="229.4" cy="349.9" r="1.7" fill="#5aa5dc" fill-opacity="0.24"/>
<circle cx="232.0" cy="326.2" r="1.7" fill="#5aa5dc" fill-opacity="0.24"/>
<circle cx="231.8" cy="344.3" r="1.7" fill="#5aa5dc" fill-opacity="0.24"/>
<circle cx="233.1" cy="332.1" r="1.7" fill="#5aa5dc" fill-opacity="0.24"/>
<circle cx="231.9" cy="343.0" r="1.7" fill="#5aa5dc" fill-opacity="0.24"/>
<circle cx="232.8" cy="359.2" r="1.7" fill="#5aa5dc" fill-opacity="0.24"/>
<circle cx="231.5" cy="326.3" r="1.7" fill="#5aa5dc" fill-opacity="0.24"/>
<circle cx="229.6" cy="359.2" r="1.7" fill="#5aa5dc" fill-opacity="0.24"/>
<circle cx="227.5" cy="347.0" r="1.7" fill="#5aa5dc" fill-opacity="0.24"/>
<circle cx="231.1" cy="346.2" r="1.7" fill="#5aa5dc" fill-opacity="0.24"/>
<circle cx="228.3" cy="350.6" r="1.7" fill="#5aa5dc" fill-opacity="0.24"/>
<polygon points="62.5,294.2 64.6,294.9 66.8,295.8 68.9,296.7 71.0,297.6 73.1,298.6 75.3,299.6 77.4,300.6 79.5,301.6 81.7,302.6 83.8,303.5 85.9,304.4 88.0,305.3 90.2,306.0 92.3,306.7 94.4,307.2 96.6,307.7 98.7,308.0 100.8,308.1 103.0,308.1 105.1,307.9 107.2,307.5 109.3,307.0 111.5,306.4 113.6,305.6 115.7,304.7 117.9,303.7 120.0,302.6 122.1,301.5 124.2,300.3 126.4,299.0 128.5,297.7 130.6,296.5 132.8,295.2 134.9,293.9 137.0,292.7 139.1,291.6 141.3,290.5 143.4,289.4 145.5,288.5 147.7,287.7 149.8,286.9 151.9,286.3 154.0,285.6 156.2,285.1 158.3,284.6 160.4,284.1 162.6,283.7 164.7,283.3 166.8,283.0 169.0,282.7 171.1,282.4 173.2,282.2 175.3,282.0 177.5,281.8 179.6,281.7 181.7,281.6 183.9,281.5 186.0,281.4 188.1,281.4 190.2,281.3 192.4,281.3 194.5,281.3 196.6,281.3 198.8,281.3 200.9,281.4 203.0,281.4 205.1,281.4 207.3,281.5 209.4,281.5 211.5,281.6 213.7,281.6 215.8,281.7 217.9,281.7 220.1,281.7 222.2,281.8 224.3,281.8 226.4,281.8 228.6,281.9 230.7,281.9 230.7,303.0 228.6,303.1 226.4,303.3 224.3,303.4 222.2,303.5 220.1,303.6 217.9,303.7 215.8,303.8 213.7,303.9 211.5,304.0 209.4,304.1 207.3,304.2 205.1,304.3 203.0,304.4 200.9,304.5 198.8,304.6 196.6,304.7 194.5,304.8 192.4,304.9 190.2,305.0 188.1,305.1 186.0,305.2 183.9,305.3 181.7,305.5 179.6,305.6 177.5,305.7 175.3,305.8 173.2,305.9 171.1,306.0 169.0,306.1 166.8,306.2 164.7,306.3 162.6,306.4 160.4,306.5 158.3,306.7 156.2,306.9 154.0,307.1 151.9,307.4 149.8,307.7 147.7,308.1 145.5,308.5 143.4,309.0 141.3,309.5 139.1,310.0 137.0,310.6 134.9,311.2 132.8,311.8 130.6,312.5 128.5,313.1 126.4,313.7 124.2,314.4 122.1,315.0 120.0,315.7 117.9,316.3 115.7,316.9 113.6,317.4 111.5,318.0 109.3,318.5 107.2,318.9 105.1,319.4 103.0,319.7 100.8,320.0 98.7,320.3 96.6,320.6 94.4,320.8 92.3,321.0 90.2,321.1 88.0,321.2 85.9,321.3 83.8,321.4 81.7,321.5 79.5,321.6 77.4,321.7 75.3,321.7 73.1,321.8 71.0,321.9 68.9,322.0 66.8,322.1 64.6,322.2 62.5,322.3" fill="#f4ab52" fill-opacity="0.68"/>
<polyline points="62.5,308.0 64.6,308.5 66.8,309.0 68.9,309.5 71.0,310.0 73.1,310.5 75.3,311.0 77.4,311.5 79.5,311.9 81.7,312.3 83.8,312.7 85.9,313.1 88.0,313.4 90.2,313.8 92.3,314.2 94.4,314.5 96.6,314.7 98.7,314.8 100.8,314.8 103.0,314.7 105.1,314.4 107.2,313.9 109.3,313.2 111.5,312.4 113.6,311.5 115.7,310.6 117.9,309.7 120.0,308.7 122.1,307.8 124.2,306.9 126.4,306.1 128.5,305.2 130.6,304.4 132.8,303.5 134.9,302.6 137.0,301.7 139.1,300.8 141.3,300.0 143.4,299.3 145.5,298.6 147.7,298.1 149.8,297.6 151.9,297.2 154.0,296.9 156.2,296.7 158.3,296.5 160.4,296.3 162.6,296.2 164.7,296.1 166.8,296.0 169.0,295.8 171.1,295.7 173.2,295.5 175.3,295.4 177.5,295.3 179.6,295.2 181.7,295.1 183.9,295.0 186.0,294.9 188.1,294.8 190.2,294.7 192.4,294.6 194.5,294.5 196.6,294.4 198.8,294.3 200.9,294.2 203.0,294.1 205.1,294.0 207.3,293.9 209.4,293.7 211.5,293.6 213.7,293.5 215.8,293.4 217.9,293.3 220.1,293.2 222.2,293.1 224.3,293.0 226.4,292.9 228.6,292.8 230.7,292.6" fill="none" stroke="#e0921e" stroke-width="1.3"/>
<polygon points="62.5,337.7 64.6,336.5 66.8,335.2 68.9,333.8 71.0,332.4 73.1,331.0 75.3,329.6 77.4,328.1 79.5,326.7 81.7,325.3 83.8,323.9 85.9,322.6 88.0,321.3 90.2,320.1 92.3,318.9 94.4,317.9 96.6,316.9 98.7,316.1 100.8,315.3 103.0,314.8 105.1,314.3 107.2,314.0 109.3,313.8 111.5,313.6 113.6,313.6 115.7,313.6 117.9,313.7 120.0,313.9 122.1,314.1 124.2,314.4 126.4,314.8 128.5,315.1 130.6,315.6 132.8,316.0 134.9,316.5 137.0,317.0 139.1,317.5 141.3,318.0 143.4,318.6 145.5,319.1 147.7,319.6 149.8,320.1 151.9,320.7 154.0,321.3 156.2,322.0 158.3,322.7 160.4,323.5 162.6,324.2 164.7,325.1 166.8,325.9 169.0,326.7 171.1,327.6 173.2,328.4 175.3,329.2 177.5,330.1 179.6,330.9 181.7,331.7 183.9,332.4 186.0,333.1 188.1,333.8 190.2,334.5 192.4,335.0 194.5,335.6 196.6,336.0 198.8,336.4 200.9,336.7 203.0,336.9 205.1,337.1 207.3,337.3 209.4,337.4 211.5,337.4 213.7,337.5 215.8,337.5 217.9,337.5 220.1,337.5 222.2,337.5 224.3,337.5 226.4,337.5 228.6,337.6 230.7,337.7 230.7,353.1 228.6,352.9 226.4,352.7 224.3,352.5 222.2,352.4 220.1,352.2 217.9,352.1 215.8,351.9 213.7,351.8 211.5,351.6 209.4,351.4 207.3,351.2 205.1,350.9 203.0,350.6 200.9,350.3 198.8,349.9 196.6,349.5 194.5,349.0 192.4,348.5 190.2,347.9 188.1,347.3 186.0,346.6 183.9,345.9 181.7,345.2 179.6,344.5 177.5,343.7 175.3,343.0 173.2,342.2 171.1,341.4 169.0,340.6 166.8,339.8 164.7,339.1 162.6,338.3 160.4,337.6 158.3,336.9 156.2,336.2 154.0,335.5 151.9,334.9 149.8,334.4 147.7,333.8 145.5,333.3 143.4,332.7 141.3,332.1 139.1,331.5 137.0,330.8 134.9,330.2 132.8,329.5 130.6,328.9 128.5,328.3 126.4,327.8 124.2,327.3 122.1,326.9 120.0,326.5 117.9,326.2 115.7,326.1 113.6,326.0 111.5,326.0 109.3,326.2 107.2,326.5 105.1,326.9 103.0,327.5 100.8,328.3 98.7,329.3 96.6,330.5 94.4,331.8 92.3,333.2 90.2,334.8 88.0,336.5 85.9,338.2 83.8,340.1 81.7,342.0 79.5,343.9 77.4,345.8 75.3,347.8 73.1,349.8 71.0,351.7 68.9,353.6 66.8,355.4 64.6,357.2 62.5,358.9" fill="#82bfea" fill-opacity="0.68"/>
<polyline points="62.5,351.2 64.6,349.2 66.8,347.2 68.9,345.1 71.0,343.0 73.1,341.0 75.3,339.0 77.4,337.0 79.5,335.2 81.7,333.4 83.8,331.8 85.9,330.2 88.0,328.7 90.2,327.3 92.3,326.0 94.4,324.8 96.6,323.6 98.7,322.5 100.8,321.6 103.0,320.7 105.1,319.9 107.2,319.1 109.3,318.4 111.5,317.8 113.6,317.2 115.7,316.8 117.9,316.5 120.0,316.3 122.1,316.3 124.2,316.5 126.4,316.9 128.5,317.4 130.6,318.1 132.8,319.0 134.9,319.9 137.0,321.0 139.1,322.0 141.3,323.1 143.4,324.2 145.5,325.2 147.7,326.1 149.8,327.0 151.9,327.9 154.0,328.8 156.2,329.8 158.3,330.7 160.4,331.6 162.6,332.5 164.7,333.4 166.8,334.3 169.0,335.1 171.1,335.9 173.2,336.7 175.3,337.5 177.5,338.3 179.6,339.0 181.7,339.8 183.9,340.5 186.0,341.2 188.1,341.8 190.2,342.4 192.4,342.9 194.5,343.3 196.6,343.7 198.8,343.9 200.9,344.2 203.0,344.4 205.1,344.5 207.3,344.7 209.4,344.8 211.5,344.8 213.7,344.9 215.8,345.0 217.9,345.0 220.1,345.0 222.2,345.1 224.3,345.1 226.4,345.2 228.6,345.3 230.7,345.4" fill="none" stroke="#3590d0" stroke-width="1.3"/>
<line x1="49.8" y1="211" x2="49.8" y2="368.2" stroke="#1e1e1e" stroke-width="1.3" />
<line x1="49.2" y1="367.6" x2="242.5" y2="367.6" stroke="#1e1e1e" stroke-width="1.3" />
<line x1="46.5" y1="359.25" x2="49.8" y2="359.25" stroke="#1e1e1e" stroke-width="1.1" />
<text x="43.2" y="362.05" font-size="8.1" text-anchor="end" fill="#2a2a2a" font-weight="normal" >0</text>
<line x1="46.5" y1="320.75" x2="49.8" y2="320.75" stroke="#1e1e1e" stroke-width="1.1" />
<text x="43.2" y="323.55" font-size="8.1" text-anchor="end" fill="#2a2a2a" font-weight="normal" >20</text>
<line x1="46.5" y1="282.25" x2="49.8" y2="282.25" stroke="#1e1e1e" stroke-width="1.1" />
<text x="43.2" y="285.05" font-size="8.1" text-anchor="end" fill="#2a2a2a" font-weight="normal" >40</text>
<line x1="46.5" y1="243.75" x2="49.8" y2="243.75" stroke="#1e1e1e" stroke-width="1.1" />
<text x="43.2" y="246.55" font-size="8.1" text-anchor="end" fill="#2a2a2a" font-weight="normal" >60</text>
<line x1="62.5" y1="367.6" x2="62.5" y2="371" stroke="#1e1e1e" stroke-width="1.1" />
<text x="62.5" y="382.6" font-size="8.2" text-anchor="middle" fill="#2a2a2a" font-weight="normal" >0</text>
<line x1="108.33" y1="367.6" x2="108.33" y2="371" stroke="#1e1e1e" stroke-width="1.1" />
<text x="108.33" y="382.6" font-size="8.2" text-anchor="middle" fill="#2a2a2a" font-weight="normal" >100</text>
<line x1="154.16" y1="367.6" x2="154.16" y2="371" stroke="#1e1e1e" stroke-width="1.1" />
<text x="154.16" y="382.6" font-size="8.2" text-anchor="middle" fill="#2a2a2a" font-weight="normal" >200</text>
<line x1="199.99" y1="367.6" x2="199.99" y2="371" stroke="#1e1e1e" stroke-width="1.1" />
<text x="199.99" y="382.6" font-size="8.2" text-anchor="middle" fill="#2a2a2a" font-weight="normal" >300</text>
<text transform="translate(24 290.5) rotate(-90)" x="0" y="3.31" font-size="9.2" text-anchor="middle" textLength="108.7" lengthAdjust="spacingAndGlyphs" fill="#222" stroke="#222" stroke-width="0.22">Proportion of CD56+ NK cells (%)</text>
<text x="146.5" y="396.73" font-size="9.8" text-anchor="middle" textLength="79.3" lengthAdjust="spacingAndGlyphs" fill="#222" stroke="#222" stroke-width="0.22">Time in days post - HSCT</text>
<rect x="79.5" y="406.5" width="11.5" height="12" fill="#a8d0f0" />
<line x1="79.5" y1="412.5" x2="91" y2="412.5" stroke="#2f8fd0" stroke-width="1.2" />
<text x="95.3" y="415.4" font-size="8" text-anchor="start" fill="#2a2a2a" font-weight="normal" >CD56++</text>
<rect x="136.5" y="406.5" width="11.5" height="12" fill="#f6c490" />
<line x1="136.5" y1="412.5" x2="148" y2="412.5" stroke="#de8a1c" stroke-width="1.2" />
<text x="153.4" y="415.4" font-size="8" text-anchor="start" fill="#2a2a2a" font-weight="normal" >CD56dim,CD16+</text>
<text x="261.8" y="207.6" font-size="14.6" text-anchor="start" fill="#111" font-weight="bold" >C</text>
<circle cx="314.4" cy="302.2" r="1.7" fill="#5aa5dc" fill-opacity="0.24"/>
<circle cx="316.9" cy="347.6" r="1.7" fill="#5aa5dc" fill-opacity="0.24"/>
<circle cx="315.4" cy="337.5" r="1.7" fill="#5aa5dc" fill-opacity="0.24"/>
<circle cx="317.3" cy="314.3" r="1.7" fill="#5aa5dc" fill-opacity="0.24"/>
<circle cx="317.5" cy="331.6" r="1.7" fill="#5aa5dc" fill-opacity="0.24"/>
<circle cx="313.0" cy="318.9" r="1.7" fill="#5aa5dc" fill-opacity="0.24"/>
<circle cx="312.5" cy="303.3" r="1.7" fill="#5aa5dc" fill-opacity="0.24"/>
<circle cx="319.3" cy="310.9" r="1.7" fill="#5aa5dc" fill-opacity="0.24"/>
<circle cx="314.5" cy="323.6" r="1.7" fill="#5aa5dc" fill-opacity="0.24"/>
<circle cx="314.3" cy="335.4" r="1.7" fill="#5aa5dc" fill-opacity="0.24"/>
<circle cx="320.5" cy="321.1" r="1.7" fill="#5aa5dc" fill-opacity="0.24"/>
<circle cx="316.3" cy="349.2" r="1.7" fill="#5aa5dc" fill-opacity="0.24"/>
<circle cx="319.2" cy="347.9" r="1.7" fill="#5aa5dc" fill-opacity="0.24"/>
<circle cx="316.3" cy="332.6" r="1.7" fill="#5aa5dc" fill-opacity="0.24"/>
<circle cx="317.6" cy="328.7" r="1.7" fill="#5aa5dc" fill-opacity="0.24"/>
<circle cx="313.6" cy="332.5" r="1.7" fill="#5aa5dc" fill-opacity="0.24"/>
<circle cx="358.4" cy="288.6" r="1.7" fill="#5aa5dc" fill-opacity="0.24"/>
<circle cx="360.3" cy="314.1" r="1.7" fill="#5aa5dc" fill-opacity="0.24"/>
<circle cx="357.5" cy="275.6" r="1.7" fill="#5aa5dc" fill-opacity="0.24"/>
<circle cx="359.3" cy="268.0" r="1.7" fill="#5aa5dc" fill-opacity="0.24"/>
<circle cx="358.7" cy="334.0" r="1.7" fill="#5aa5dc" fill-opacity="0.24"/>
<circle cx="353.7" cy="276.4" r="1.7" fill="#5aa5dc" fill-opacity="0.24"/>
<circle cx="359.4" cy="278.0" r="1.7" fill="#5aa5dc" fill-opacity="0.24"/>
<circle cx="358.0" cy="272.6" r="1.7" fill="#5aa5dc" fill-opacity="0.24"/>
<circle cx="355.7" cy="301.8" r="1.7" fill="#5aa5dc" fill-opacity="0.24"/>
<circle cx="353.5" cy="296.3" r="1.7" fill="#5aa5dc" fill-opacity="0.24"/>
<circle cx="360.3" cy="242.0" r="1.7" fill="#5aa5dc" fill-opacity="0.24"/>
<circle cx="357.1" cy="248.5" r="1.7" fill="#5aa5dc" fill-opacity="0.24"/>
<circle cx="359.1" cy="247.7" r="1.7" fill="#5aa5dc" fill-opacity="0.24"/>
<circle cx="360.4" cy="255.3" r="1.7" fill="#5aa5dc" fill-opacity="0.24"/>
<circle cx="359.0" cy="253.4" r="1.7" fill="#5aa5dc" fill-opacity="0.24"/>
<circle cx="360.7" cy="337.9" r="1.7" fill="#5aa5dc" fill-opacity="0.24"/>
<circle cx="356.4" cy="353.1" r="1.7" fill="#5aa5dc" fill-opacity="0.24"/>
<circle cx="359.8" cy="298.0" r="1.7" fill="#5aa5dc" fill-opacity="0.24"/>
<circle cx="356.8" cy="268.3" r="1.7" fill="#5aa5dc" fill-opacity="0.24"/>
<circle cx="360.9" cy="250.9" r="1.7" fill="#5aa5dc" fill-opacity="0.24"/>
<circle cx="360.4" cy="287.2" r="1.7" fill="#5aa5dc" fill-opacity="0.24"/>
<circle cx="354.0" cy="258.5" r="1.7" fill="#5aa5dc" fill-opacity="0.24"/>
<circle cx="354.3" cy="316.8" r="1.7" fill="#5aa5dc" fill-opacity="0.24"/>
<circle cx="355.0" cy="309.3" r="1.7" fill="#5aa5dc" fill-opacity="0.24"/>
<circle cx="361.1" cy="257.6" r="1.7" fill="#5aa5dc" fill-opacity="0.24"/>
<circle cx="356.8" cy="269.4" r="1.7" fill="#5aa5dc" fill-opacity="0.24"/>
<circle cx="358.3" cy="231.0" r="1.7" fill="#5aa5dc" fill-opacity="0.24"/>
<circle cx="355.7" cy="258.1" r="1.7" fill="#5aa5dc" fill-opacity="0.24"/>
<circle cx="357.4" cy="263.8" r="1.7" fill="#5aa5dc" fill-opacity="0.24"/>
<circle cx="356.4" cy="274.8" r="1.7" fill="#5aa5dc" fill-opacity="0.24"/>
<circle cx="356.1" cy="299.3" r="1.7" fill="#5aa5dc" fill-opacity="0.24"/>
<circle cx="358.0" cy="300.0" r="1.7" fill="#5aa5dc" fill-opacity="0.24"/>
<circle cx="398.8" cy="262.0" r="1.7" fill="#5aa5dc" fill-opacity="0.24"/>
<circle cx="401.4" cy="259.0" r="1.7" fill="#5aa5dc" fill-opacity="0.24"/>
<circle cx="399.6" cy="329.6" r="1.7" fill="#5aa5dc" fill-opacity="0.24"/>
<circle cx="401.6" cy="281.5" r="1.7" fill="#5aa5dc" fill-opacity="0.24"/>
<circle cx="401.0" cy="332.4" r="1.7" fill="#5aa5dc" fill-opacity="0.24"/>
<circle cx="402.1" cy="337.5" r="1.7" fill="#5aa5dc" fill-opacity="0.24"/>
<circle cx="399.5" cy="275.2" r="1.7" fill="#5aa5dc" fill-opacity="0.24"/>
<circle cx="395.3" cy="293.7" r="1.7" fill="#5aa5dc" fill-opacity="0.24"/>
<circle cx="401.0" cy="310.7" r="1.7" fill="#5aa5dc" fill-opacity="0.24"/>
<circle cx="401.9" cy="343.2" r="1.7" fill="#5aa5dc" fill-opacity="0.24"/>
<circle cx="401.4" cy="317.7" r="1.7" fill="#5aa5dc" fill-opacity="0.24"/>
<circle cx="398.7" cy="333.6" r="1.7" fill="#5aa5dc" fill-opacity="0.24"/>
<circle cx="399.8" cy="318.1" r="1.7" fill="#5aa5dc" fill-opacity="0.24"/>
<circle cx="395.7" cy="304.5" r="1.7" fill="#5aa5dc" fill-opacity="0.24"/>
<circle cx="400.8" cy="339.2" r="1.7" fill="#5aa5dc" fill-opacity="0.24"/>
<circle cx="398.7" cy="286.5" r="1.7" fill="#5aa5dc" fill-opacity="0.24"/>
<circle cx="396.3" cy="296.3" r="1.7" fill="#5aa5dc" fill-opacity="0.24"/>
<circle cx="394.5" cy="318.3" r="1.7" fill="#5aa5dc" fill-opacity="0.24"/>
<circle cx="401.0" cy="313.7" r="1.7" fill="#5aa5dc" fill-opacity="0.24"/>
<circle cx="402.1" cy="325.6" r="1.7" fill="#5aa5dc" fill-opacity="0.24"/>
<circle cx="394.7" cy="290.9" r="1.7" fill="#5aa5dc" fill-opacity="0.24"/>
<circle cx="400.5" cy="339.3" r="1.7" fill="#5aa5dc" fill-opacity="0.24"/>
<circle cx="397.4" cy="294.5" r="1.7" fill="#5aa5dc" fill-opacity="0.24"/>
<circle cx="395.2" cy="321.3" r="1.7" fill="#5aa5dc" fill-opacity="0.24"/>
<circle cx="396.4" cy="332.7" r="1.7" fill="#5aa5dc" fill-opacity="0.24"/>
<circle cx="400.3" cy="237.5" r="1.7" fill="#5aa5dc" fill-opacity="0.24"/>
<circle cx="401.1" cy="303.1" r="1.7" fill="#5aa5dc" fill-opacity="0.24"/>
<circle cx="394.4" cy="260.8" r="1.7" fill="#5aa5dc" fill-opacity="0.24"/>
<circle cx="399.0" cy="305.5" r="1.7" fill="#5aa5dc" fill-opacity="0.24"/>
<circle cx="394.4" cy="277.2" r="1.7" fill="#5aa5dc" fill-opacity="0.24"/>
<circle cx="440.7" cy="293.2" r="1.7" fill="#5aa5dc" fill-opacity="0.24"/>
<circle cx="437.5" cy="316.6" r="1.7" fill="#5aa5dc" fill-opacity="0.24"/>
<circle cx="442.0" cy="302.0" r="1.7" fill="#5aa5dc" fill-opacity="0.24"/>
<circle cx="442.8" cy="333.6" r="1.7" fill="#5aa5dc" fill-opacity="0.24"/>
<circle cx="438.9" cy="313.3" r="1.7" fill="#5aa5dc" fill-opacity="0.24"/>
<circle cx="443.0" cy="302.8" r="1.7" fill="#5aa5dc" fill-opacity="0.24"/>
<circle cx="437.3" cy="296.9" r="1.7" fill="#5aa5dc" fill-opacity="0.24"/>
<circle cx="435.4" cy="331.6" r="1.7" fill="#5aa5dc" fill-opacity="0.24"/>
<circle cx="439.7" cy="292.1" r="1.7" fill="#5aa5dc" fill-opacity="0.24"/>
<circle cx="435.1" cy="293.1" r="1.7" fill="#5aa5dc" fill-opacity="0.24"/>
<circle cx="436.4" cy="318.3" r="1.7" fill="#5aa5dc" fill-opacity="0.24"/>
<circle cx="438.1" cy="319.4" r="1.7" fill="#5aa5dc" fill-opacity="0.24"/>
<circle cx="439.8" cy="282.2" r="1.7" fill="#5aa5dc" fill-opacity="0.24"/>
<circle cx="436.1" cy="305.8" r="1.7" fill="#5aa5dc" fill-opacity="0.24"/>
<circle cx="435.2" cy="327.5" r="1.7" fill="#5aa5dc" fill-opacity="0.24"/>
<circle cx="441.9" cy="307.0" r="1.7" fill="#5aa5dc" fill-opacity="0.24"/>
<circle cx="437.4" cy="305.2" r="1.7" fill="#5aa5dc" fill-opacity="0.24"/>
<circle cx="442.6" cy="319.5" r="1.7" fill="#5aa5dc" fill-opacity="0.24"/>
<circle cx="442.1" cy="270.6" r="1.7" fill="#5aa5dc" fill-opacity="0.24"/>
<circle cx="437.9" cy="289.7" r="1.7" fill="#5aa5dc" fill-opacity="0.24"/>
<circle cx="438.6" cy="266.0" r="1.7" fill="#5aa5dc" fill-opacity="0.24"/>
<circle cx="439.1" cy="318.6" r="1.7" fill="#5aa5dc" fill-opacity="0.24"/>
<circle cx="440.1" cy="320.6" r="1.7" fill="#5aa5dc" fill-opacity="0.24"/>
<circle cx="439.7" cy="298.1" r="1.7" fill="#5aa5dc" fill-opacity="0.24"/>
<circle cx="439.4" cy="288.4" r="1.7" fill="#5aa5dc" fill-opacity="0.24"/>
<circle cx="439.9" cy="264.2" r="1.7" fill="#5aa5dc" fill-opacity="0.24"/>
<circle cx="442.5" cy="319.1" r="1.7" fill="#5aa5dc" fill-opacity="0.24"/>
<circle cx="438.9" cy="317.0" r="1.7" fill="#5aa5dc" fill-opacity="0.24"/>
<circle cx="438.3" cy="301.8" r="1.7" fill="#5aa5dc" fill-opacity="0.24"/>
<circle cx="440.7" cy="323.4" r="1.7" fill="#5aa5dc" fill-opacity="0.24"/>
<circle cx="479.8" cy="330.9" r="1.7" fill="#5aa5dc" fill-opacity="0.24"/>
<circle cx="480.3" cy="285.9" r="1.7" fill="#5aa5dc" fill-opacity="0.24"/>
<circle cx="485.9" cy="315.0" r="1.7" fill="#5aa5dc" fill-opacity="0.24"/>
<circle cx="482.1" cy="340.5" r="1.7" fill="#5aa5dc" fill-opacity="0.24"/>
<circle cx="482.3" cy="328.0" r="1.7" fill="#5aa5dc" fill-opacity="0.24"/>
<circle cx="478.0" cy="257.7" r="1.7" fill="#5aa5dc" fill-opacity="0.24"/>
<circle cx="481.3" cy="347.2" r="1.7" fill="#5aa5dc" fill-opacity="0.24"/>
<circle cx="482.6" cy="349.9" r="1.7" fill="#5aa5dc" fill-opacity="0.24"/>
<circle cx="478.0" cy="273.5" r="1.7" fill="#5aa5dc" fill-opacity="0.24"/>
<circle cx="482.9" cy="348.1" r="1.7" fill="#5aa5dc" fill-opacity="0.24"/>
<circle cx="483.0" cy="304.6" r="1.7" fill="#5aa5dc" fill-opacity="0.24"/>
<circle cx="478.4" cy="292.9" r="1.7" fill="#5aa5dc" fill-opacity="0.24"/>
<circle cx="483.0" cy="297.1" r="1.7" fill="#5aa5dc" fill-opacity="0.24"/>
<circle cx="481.7" cy="309.3" r="1.7" fill="#5aa5dc" fill-opacity="0.24"/>
<circle cx="483.4" cy="298.9" r="1.7" fill="#5aa5dc" fill-opacity="0.24"/>
<circle cx="480.8" cy="316.5" r="1.7" fill="#5aa5dc" fill-opacity="0.24"/>
<circle cx="483.6" cy="295.7" r="1.7" fill="#5aa5dc" fill-opacity="0.24"/>
<circle cx="483.9" cy="295.9" r="1.7" fill="#5aa5dc" fill-opacity="0.24"/>
<circle cx="478.1" cy="276.7" r="1.7" fill="#5aa5dc" fill-opacity="0.24"/>
<circle cx="478.4" cy="304.4" r="1.7" fill="#5aa5dc" fill-opacity="0.24"/>
<circle cx="483.4" cy="347.1" r="1.7" fill="#5aa5dc" fill-opacity="0.24"/>
<circle cx="485.7" cy="257.7" r="1.7" fill="#5aa5dc" fill-opacity="0.24"/>
<circle cx="479.9" cy="302.3" r="1.7" fill="#5aa5dc" fill-opacity="0.24"/>
<circle cx="481.6" cy="273.7" r="1.7" fill="#5aa5dc" fill-opacity="0.24"/>
<circle cx="482.7" cy="299.0" r="1.7" fill="#5aa5dc" fill-opacity="0.24"/>
<circle cx="480.5" cy="311.0" r="1.7" fill="#5aa5dc" fill-opacity="0.24"/>
<circle cx="480.8" cy="314.7" r="1.7" fill="#5aa5dc" fill-opacity="0.24"/>
<circle cx="480.4" cy="283.0" r="1.7" fill="#5aa5dc" fill-opacity="0.24"/>
<circle cx="480.9" cy="290.6" r="1.7" fill="#5aa5dc" fill-opacity="0.24"/>
<circle cx="482.7" cy="300.7" r="1.7" fill="#5aa5dc" fill-opacity="0.24"/>
<circle cx="314.3" cy="286.9" r="1.7" fill="#f2a24e" fill-opacity="0.24"/>
<circle cx="313.3" cy="337.9" r="1.7" fill="#f2a24e" fill-opacity="0.24"/>
<circle cx="315.7" cy="314.1" r="1.7" fill="#f2a24e" fill-opacity="0.24"/>
<circle cx="313.7" cy="323.4" r="1.7" fill="#f2a24e" fill-opacity="0.24"/>
<circle cx="313.0" cy="309.8" r="1.7" fill="#f2a24e" fill-opacity="0.24"/>
<circle cx="315.7" cy="337.2" r="1.7" fill="#f2a24e" fill-opacity="0.24"/>
<circle cx="319.9" cy="335.8" r="1.7" fill="#f2a24e" fill-opacity="0.24"/>
<circle cx="319.0" cy="305.4" r="1.7" fill="#f2a24e" fill-opacity="0.24"/>
<circle cx="318.7" cy="319.8" r="1.7" fill="#f2a24e" fill-opacity="0.24"/>
<circle cx="314.2" cy="293.4" r="1.7" fill="#f2a24e" fill-opacity="0.24"/>
<circle cx="316.8" cy="343.2" r="1.7" fill="#f2a24e" fill-opacity="0.24"/>
<circle cx="314.7" cy="322.3" r="1.7" fill="#f2a24e" fill-opacity="0.24"/>
<circle cx="313.8" cy="341.3" r="1.7" fill="#f2a24e" fill-opacity="0.24"/>
<circle cx="313.3" cy="293.4" r="1.7" fill="#f2a24e" fill-opacity="0.24"/>
<circle cx="314.2" cy="329.9" r="1.7" fill="#f2a24e" fill-opacity="0.24"/>
<circle cx="320.0" cy="282.3" r="1.7" fill="#f2a24e" fill-opacity="0.24"/>
<circle cx="319.2" cy="321.9" r="1.7" fill="#f2a24e" fill-opacity="0.24"/>
<circle cx="319.0" cy="258.4" r="1.7" fill="#f2a24e" fill-opacity="0.24"/>
<circle cx="319.0" cy="307.8" r="1.7" fill="#f2a24e" fill-opacity="0.24"/>
<circle cx="314.0" cy="319.3" r="1.7" fill="#f2a24e" fill-opacity="0.24"/>
<circle cx="355.7" cy="323.0" r="1.7" fill="#f2a24e" fill-opacity="0.24"/>
<circle cx="358.3" cy="327.6" r="1.7" fill="#f2a24e" fill-opacity="0.24"/>
<circle cx="359.2" cy="345.5" r="1.7" fill="#f2a24e" fill-opacity="0.24"/>
<circle cx="360.2" cy="326.8" r="1.7" fill="#f2a24e" fill-opacity="0.24"/>
<circle cx="360.4" cy="350.4" r="1.7" fill="#f2a24e" fill-opacity="0.24"/>
<circle cx="353.9" cy="322.3" r="1.7" fill="#f2a24e" fill-opacity="0.24"/>
<circle cx="358.2" cy="327.4" r="1.7" fill="#f2a24e" fill-opacity="0.24"/>
<circle cx="358.7" cy="351.5" r="1.7" fill="#f2a24e" fill-opacity="0.24"/>
<circle cx="357.3" cy="326.5" r="1.7" fill="#f2a24e" fill-opacity="0.24"/>
<circle cx="354.7" cy="336.5" r="1.7" fill="#f2a24e" fill-opacity="0.24"/>
<circle cx="357.1" cy="360.7" r="1.7" fill="#f2a24e" fill-opacity="0.24"/>
<circle cx="353.9" cy="320.9" r="1.7" fill="#f2a24e" fill-opacity="0.24"/>
<circle cx="360.8" cy="360.8" r="1.7" fill="#f2a24e" fill-opacity="0.24"/>
<circle cx="360.3" cy="352.8" r="1.7" fill="#f2a24e" fill-opacity="0.24"/>
<circle cx="357.7" cy="339.9" r="1.7" fill="#f2a24e" fill-opacity="0.24"/>
<circle cx="355.7" cy="354.2" r="1.7" fill="#f2a24e" fill-opacity="0.24"/>
<circle cx="360.6" cy="332.8" r="1.7" fill="#f2a24e" fill-opacity="0.24"/>
<circle cx="357.9" cy="356.5" r="1.7" fill="#f2a24e" fill-opacity="0.24"/>
<circle cx="360.4" cy="350.4" r="1.7" fill="#f2a24e" fill-opacity="0.24"/>
<circle cx="360.1" cy="360.8" r="1.7" fill="#f2a24e" fill-opacity="0.24"/>
<circle cx="357.4" cy="358.2" r="1.7" fill="#f2a24e" fill-opacity="0.24"/>
<circle cx="356.6" cy="319.0" r="1.7" fill="#f2a24e" fill-opacity="0.24"/>
<circle cx="358.1" cy="332.9" r="1.7" fill="#f2a24e" fill-opacity="0.24"/>
<circle cx="356.7" cy="328.5" r="1.7" fill="#f2a24e" fill-opacity="0.24"/>
<circle cx="354.5" cy="330.8" r="1.7" fill="#f2a24e" fill-opacity="0.24"/>
<circle cx="355.7" cy="337.8" r="1.7" fill="#f2a24e" fill-opacity="0.24"/>
<circle cx="359.8" cy="357.1" r="1.7" fill="#f2a24e" fill-opacity="0.24"/>
<circle cx="353.6" cy="323.2" r="1.7" fill="#f2a24e" fill-opacity="0.24"/>
<circle cx="353.6" cy="346.8" r="1.7" fill="#f2a24e" fill-opacity="0.24"/>
<circle cx="358.3" cy="352.4" r="1.7" fill="#f2a24e" fill-opacity="0.24"/>
<circle cx="396.3" cy="316.8" r="1.7" fill="#f2a24e" fill-opacity="0.24"/>
<circle cx="398.4" cy="304.7" r="1.7" fill="#f2a24e" fill-opacity="0.24"/>
<circle cx="397.9" cy="347.7" r="1.7" fill="#f2a24e" fill-opacity="0.24"/>
<circle cx="396.8" cy="335.2" r="1.7" fill="#f2a24e" fill-opacity="0.24"/>
<circle cx="402.2" cy="310.7" r="1.7" fill="#f2a24e" fill-opacity="0.24"/>
<circle cx="395.6" cy="337.0" r="1.7" fill="#f2a24e" fill-opacity="0.24"/>
<circle cx="397.4" cy="354.4" r="1.7" fill="#f2a24e" fill-opacity="0.24"/>
<circle cx="395.7" cy="313.2" r="1.7" fill="#f2a24e" fill-opacity="0.24"/>
<circle cx="399.2" cy="344.5" r="1.7" fill="#f2a24e" fill-opacity="0.24"/>
<circle cx="396.3" cy="337.8" r="1.7" fill="#f2a24e" fill-opacity="0.24"/>
<circle cx="396.9" cy="310.3" r="1.7" fill="#f2a24e" fill-opacity="0.24"/>
<circle cx="400.1" cy="351.4" r="1.7" fill="#f2a24e" fill-opacity="0.24"/>
<circle cx="396.6" cy="335.9" r="1.7" fill="#f2a24e" fill-opacity="0.24"/>
<circle cx="398.6" cy="333.6" r="1.7" fill="#f2a24e" fill-opacity="0.24"/>
<circle cx="401.4" cy="349.7" r="1.7" fill="#f2a24e" fill-opacity="0.24"/>
<circle cx="394.8" cy="344.5" r="1.7" fill="#f2a24e" fill-opacity="0.24"/>
<circle cx="394.5" cy="332.3" r="1.7" fill="#f2a24e" fill-opacity="0.24"/>
<circle cx="395.9" cy="340.1" r="1.7" fill="#f2a24e" fill-opacity="0.24"/>
<circle cx="400.3" cy="348.9" r="1.7" fill="#f2a24e" fill-opacity="0.24"/>
<circle cx="399.0" cy="336.0" r="1.7" fill="#f2a24e" fill-opacity="0.24"/>
<circle cx="396.0" cy="327.5" r="1.7" fill="#f2a24e" fill-opacity="0.24"/>
<circle cx="396.7" cy="335.4" r="1.7" fill="#f2a24e" fill-opacity="0.24"/>
<circle cx="395.5" cy="302.9" r="1.7" fill="#f2a24e" fill-opacity="0.24"/>
<circle cx="397.8" cy="343.1" r="1.7" fill="#f2a24e" fill-opacity="0.24"/>
<circle cx="394.4" cy="313.1" r="1.7" fill="#f2a24e" fill-opacity="0.24"/>
<circle cx="399.7" cy="316.6" r="1.7" fill="#f2a24e" fill-opacity="0.24"/>
<circle cx="401.3" cy="322.4" r="1.7" fill="#f2a24e" fill-opacity="0.24"/>
<circle cx="401.8" cy="302.7" r="1.7" fill="#f2a24e" fill-opacity="0.24"/>
<circle cx="400.0" cy="320.5" r="1.7" fill="#f2a24e" fill-opacity="0.24"/>
<circle cx="401.8" cy="351.9" r="1.7" fill="#f2a24e" fill-opacity="0.24"/>
<circle cx="435.0" cy="337.5" r="1.7" fill="#f2a24e" fill-opacity="0.24"/>
<circle cx="437.2" cy="271.9" r="1.7" fill="#f2a24e" fill-opacity="0.24"/>
<circle cx="442.7" cy="313.8" r="1.7" fill="#f2a24e" fill-opacity="0.24"/>
<circle cx="441.1" cy="284.9" r="1.7" fill="#f2a24e" fill-opacity="0.24"/>
<circle cx="438.2" cy="276.4" r="1.7" fill="#f2a24e" fill-opacity="0.24"/>
<circle cx="442.5" cy="316.6" r="1.7" fill="#f2a24e" fill-opacity="0.24"/>
<circle cx="439.9" cy="306.2" r="1.7" fill="#f2a24e" fill-opacity="0.24"/>
<circle cx="441.5" cy="305.3" r="1.7" fill="#f2a24e" fill-opacity="0.24"/>
<circle cx="437.2" cy="283.6" r="1.7" fill="#f2a24e" fill-opacity="0.24"/>
<circle cx="436.4" cy="294.5" r="1.7" fill="#f2a24e" fill-opacity="0.24"/>
<circle cx="438.4" cy="253.7" r="1.7" fill="#f2a24e" fill-opacity="0.24"/>
<circle cx="435.9" cy="297.0" r="1.7" fill="#f2a24e" fill-opacity="0.24"/>
<circle cx="437.9" cy="324.4" r="1.7" fill="#f2a24e" fill-opacity="0.24"/>
<circle cx="442.7" cy="298.2" r="1.7" fill="#f2a24e" fill-opacity="0.24"/>
<circle cx="437.5" cy="237.9" r="1.7" fill="#f2a24e" fill-opacity="0.24"/>
<circle cx="434.9" cy="321.0" r="1.7" fill="#f2a24e" fill-opacity="0.24"/>
<circle cx="435.2" cy="334.5" r="1.7" fill="#f2a24e" fill-opacity="0.24"/>
<circle cx="436.2" cy="335.2" r="1.7" fill="#f2a24e" fill-opacity="0.24"/>
<circle cx="441.2" cy="229.4" r="1.7" fill="#f2a24e" fill-opacity="0.24"/>
<circle cx="437.8" cy="238.7" r="1.7" fill="#f2a24e" fill-opacity="0.24"/>
<circle cx="437.2" cy="316.4" r="1.7" fill="#f2a24e" fill-opacity="0.24"/>
<circle cx="435.6" cy="258.0" r="1.7" fill="#f2a24e" fill-opacity="0.24"/>
<circle cx="442.8" cy="309.2" r="1.7" fill="#f2a24e" fill-opacity="0.24"/>
<circle cx="438.3" cy="348.8" r="1.7" fill="#f2a24e" fill-opacity="0.24"/>
<circle cx="436.5" cy="333.3" r="1.7" fill="#f2a24e" fill-opacity="0.24"/>
<circle cx="435.3" cy="325.4" r="1.7" fill="#f2a24e" fill-opacity="0.24"/>
<circle cx="435.3" cy="268.4" r="1.7" fill="#f2a24e" fill-opacity="0.24"/>
<circle cx="436.2" cy="299.1" r="1.7" fill="#f2a24e" fill-opacity="0.24"/>
<circle cx="440.3" cy="300.2" r="1.7" fill="#f2a24e" fill-opacity="0.24"/>
<circle cx="436.0" cy="307.3" r="1.7" fill="#f2a24e" fill-opacity="0.24"/>
<circle cx="478.2" cy="320.4" r="1.7" fill="#f2a24e" fill-opacity="0.24"/>
<circle cx="481.9" cy="330.3" r="1.7" fill="#f2a24e" fill-opacity="0.24"/>
<circle cx="479.9" cy="290.6" r="1.7" fill="#f2a24e" fill-opacity="0.24"/>
<circle cx="486.0" cy="268.5" r="1.7" fill="#f2a24e" fill-opacity="0.24"/>
<circle cx="478.9" cy="249.3" r="1.7" fill="#f2a24e" fill-opacity="0.24"/>
<circle cx="482.2" cy="251.4" r="1.7" fill="#f2a24e" fill-opacity="0.24"/>
<circle cx="484.2" cy="352.0" r="1.7" fill="#f2a24e" fill-opacity="0.24"/>
<circle cx="481.2" cy="253.6" r="1.7" fill="#f2a24e" fill-opacity="0.24"/>
<circle cx="485.9" cy="240.9" r="1.7" fill="#f2a24e" fill-opacity="0.24"/>
<circle cx="481.8" cy="309.6" r="1.7" fill="#f2a24e" fill-opacity="0.24"/>
<circle cx="479.8" cy="277.5" r="1.7" fill="#f2a24e" fill-opacity="0.24"/>
<circle cx="481.2" cy="228.9" r="1.7" fill="#f2a24e" fill-opacity="0.24"/>
<circle cx="478.2" cy="292.8" r="1.7" fill="#f2a24e" fill-opacity="0.24"/>
<circle cx="481.3" cy="299.6" r="1.7" fill="#f2a24e" fill-opacity="0.24"/>
<circle cx="479.9" cy="263.4" r="1.7" fill="#f2a24e" fill-opacity="0.24"/>
<circle cx="485.1" cy="252.4" r="1.7" fill="#f2a24e" fill-opacity="0.24"/>
<circle cx="484.7" cy="294.8" r="1.7" fill="#f2a24e" fill-opacity="0.24"/>
<circle cx="481.9" cy="271.1" r="1.7" fill="#f2a24e" fill-opacity="0.24"/>
<circle cx="478.1" cy="243.3" r="1.7" fill="#f2a24e" fill-opacity="0.24"/>
<circle cx="480.0" cy="310.6" r="1.7" fill="#f2a24e" fill-opacity="0.24"/>
<circle cx="479.9" cy="290.1" r="1.7" fill="#f2a24e" fill-opacity="0.24"/>
<circle cx="479.6" cy="274.2" r="1.7" fill="#f2a24e" fill-opacity="0.24"/>
<circle cx="479.8" cy="336.4" r="1.7" fill="#f2a24e" fill-opacity="0.24"/>
<circle cx="485.0" cy="309.4" r="1.7" fill="#f2a24e" fill-opacity="0.24"/>
<circle cx="479.0" cy="307.2" r="1.7" fill="#f2a24e" fill-opacity="0.24"/>
<circle cx="478.3" cy="235.3" r="1.7" fill="#f2a24e" fill-opacity="0.24"/>
<circle cx="485.4" cy="298.4" r="1.7" fill="#f2a24e" fill-opacity="0.24"/>
<circle cx="482.5" cy="325.7" r="1.7" fill="#f2a24e" fill-opacity="0.24"/>
<circle cx="486.0" cy="313.4" r="1.7" fill="#f2a24e" fill-opacity="0.24"/>
<circle cx="481.2" cy="290.2" r="1.7" fill="#f2a24e" fill-opacity="0.24"/>
<polygon points="316.5,306.9 318.6,305.5 320.7,304.1 322.8,302.6 324.9,301.1 327.0,299.5 329.1,297.9 331.2,296.2 333.3,294.6 335.3,293.0 337.4,291.4 339.5,289.8 341.6,288.3 343.7,286.8 345.8,285.5 347.9,284.2 350.0,283.0 352.1,281.9 354.2,281.0 356.3,280.2 358.4,279.5 360.5,279.1 362.6,278.8 364.7,278.7 366.8,278.8 368.9,279.0 371.0,279.5 373.0,280.0 375.1,280.7 377.2,281.5 379.3,282.5 381.4,283.4 383.5,284.5 385.6,285.6 387.7,286.7 389.8,287.9 391.9,289.0 394.0,290.2 396.1,291.3 398.2,292.4 400.3,293.4 402.4,294.3 404.5,295.1 406.6,295.9 408.7,296.7 410.7,297.5 412.8,298.3 414.9,299.1 417.0,299.9 419.1,300.7 421.2,301.5 423.3,302.3 425.4,303.1 427.5,303.9 429.6,304.7 431.7,305.5 433.8,306.2 435.9,306.9 438.0,307.6 440.1,308.2 442.2,308.8 444.3,309.3 446.4,309.8 448.4,310.3 450.5,310.7 452.6,311.0 454.7,311.2 456.8,311.3 458.9,311.3 461.0,311.2 463.1,311.0 465.2,310.7 467.3,310.4 469.4,310.0 471.5,309.6 473.6,309.3 475.7,308.9 477.8,308.6 479.9,308.3 482.0,308.1 482.0,328.0 479.9,327.9 477.8,327.9 475.7,327.8 473.6,327.8 471.5,327.8 469.4,327.8 467.3,327.8 465.2,327.7 463.1,327.7 461.0,327.6 458.9,327.4 456.8,327.2 454.7,326.9 452.6,326.5 450.5,326.0 448.4,325.5 446.4,325.0 444.3,324.4 442.2,323.8 440.1,323.2 438.0,322.6 435.9,321.9 433.8,321.2 431.7,320.5 429.6,319.8 427.5,319.0 425.4,318.3 423.3,317.5 421.2,316.8 419.1,316.0 417.0,315.2 414.9,314.4 412.8,313.6 410.7,312.9 408.7,312.1 406.6,311.3 404.5,310.5 402.4,309.7 400.3,308.7 398.2,307.6 396.1,306.4 394.0,305.2 391.9,304.0 389.8,302.7 387.7,301.5 385.6,300.2 383.5,299.0 381.4,297.9 379.3,296.8 377.2,295.9 375.1,295.0 373.0,294.3 371.0,293.7 368.9,293.4 366.8,293.2 364.7,293.2 362.6,293.4 360.5,293.9 358.4,294.6 356.3,295.5 354.2,296.6 352.1,297.8 350.0,299.2 347.9,300.8 345.8,302.5 343.7,304.2 341.6,306.1 339.5,308.1 337.4,310.1 335.3,312.1 333.3,314.2 331.2,316.3 329.1,318.4 327.0,320.4 324.9,322.5 322.8,324.5 320.7,326.4 318.6,328.2 316.5,329.9" fill="#82bfea" fill-opacity="0.68"/>
<polyline points="316.5,315.6 318.6,313.6 320.7,311.5 322.8,309.3 324.9,307.2 327.0,305.0 329.1,303.0 331.2,301.0 333.3,299.1 335.3,297.4 337.4,295.9 339.5,294.6 341.6,293.3 343.7,292.1 345.8,291.0 347.9,290.0 350.0,289.1 352.1,288.3 354.2,287.6 356.3,287.0 358.4,286.6 360.5,286.3 362.6,286.1 364.7,286.1 366.8,286.3 368.9,286.6 371.0,287.1 373.0,287.7 375.1,288.3 377.2,289.1 379.3,289.8 381.4,290.6 383.5,291.4 385.6,292.3 387.7,293.3 389.8,294.4 391.9,295.6 394.0,296.8 396.1,298.0 398.2,299.2 400.3,300.4 402.4,301.5 404.5,302.6 406.6,303.6 408.7,304.6 410.7,305.6 412.8,306.5 414.9,307.5 417.0,308.4 419.1,309.3 421.2,310.2 423.3,311.0 425.4,311.7 427.5,312.5 429.6,313.1 431.7,313.7 433.8,314.3 435.9,314.9 438.0,315.4 440.1,315.8 442.2,316.3 444.3,316.6 446.4,317.0 448.4,317.3 450.5,317.6 452.6,317.8 454.7,318.0 456.8,318.1 458.9,318.3 461.0,318.3 463.1,318.4 465.2,318.4 467.3,318.5 469.4,318.5 471.5,318.5 473.6,318.5 475.7,318.5 477.8,318.5 479.9,318.5 482.0,318.6" fill="none" stroke="#3590d0" stroke-width="1.3"/>
<polygon points="316.5,297.2 318.6,298.8 320.7,300.4 322.8,302.1 324.9,303.9 327.0,305.7 329.1,307.6 331.2,309.4 333.3,311.3 335.3,313.1 337.4,315.0 339.5,316.8 341.6,318.5 343.7,320.2 345.8,321.8 347.9,323.3 350.0,324.7 352.1,326.0 354.2,327.1 356.3,328.1 358.4,328.9 360.5,329.6 362.6,330.1 364.7,330.4 366.8,330.5 368.9,330.4 371.0,330.2 373.0,329.8 375.1,329.3 377.2,328.7 379.3,328.0 381.4,327.2 383.5,326.3 385.6,325.4 387.7,324.4 389.8,323.4 391.9,322.4 394.0,321.4 396.1,320.4 398.2,319.4 400.3,318.5 402.4,317.6 404.5,316.8 406.6,316.1 408.7,315.3 410.7,314.5 412.8,313.7 414.9,312.9 417.0,312.0 419.1,311.2 421.2,310.3 423.3,309.4 425.4,308.6 427.5,307.7 429.6,306.8 431.7,306.0 433.8,305.1 435.9,304.3 438.0,303.5 440.1,302.7 442.2,302.0 444.3,301.3 446.4,300.6 448.4,300.0 450.5,299.4 452.6,298.9 454.7,298.5 456.8,298.1 458.9,297.9 461.0,297.7 463.1,297.6 465.2,297.5 467.3,297.5 469.4,297.4 471.5,297.4 473.6,297.4 475.7,297.4 477.8,297.4 479.9,297.3 482.0,297.2 482.0,314.6 479.9,314.4 477.8,314.3 475.7,314.1 473.6,313.9 471.5,313.7 469.4,313.4 467.3,313.2 465.2,313.1 463.1,312.9 461.0,312.8 458.9,312.8 456.8,312.9 454.7,313.1 452.6,313.3 450.5,313.7 448.4,314.1 446.4,314.6 444.3,315.2 442.2,315.8 440.1,316.4 438.0,317.1 435.9,317.7 433.8,318.5 431.7,319.2 429.6,320.0 427.5,320.7 425.4,321.5 423.3,322.3 421.2,323.1 419.1,323.9 417.0,324.7 414.9,325.4 412.8,326.2 410.7,326.9 408.7,327.7 406.6,328.3 404.5,329.0 402.4,329.7 400.3,330.5 398.2,331.3 396.1,332.1 394.0,333.0 391.9,333.9 389.8,334.8 387.7,335.7 385.6,336.5 383.5,337.3 381.4,338.1 379.3,338.9 377.2,339.5 375.1,340.1 373.0,340.6 371.0,341.1 368.9,341.4 366.8,341.6 364.7,341.6 362.6,341.6 360.5,341.3 358.4,341.0 356.3,340.5 354.2,339.9 352.1,339.2 350.0,338.4 347.9,337.5 345.8,336.6 343.7,335.5 341.6,334.4 339.5,333.3 337.4,332.1 335.3,330.9 333.3,329.7 331.2,328.5 329.1,327.3 327.0,326.0 324.9,324.8 322.8,323.7 320.7,322.6 318.6,321.5 316.5,320.5" fill="#f4ab52" fill-opacity="0.68"/>
<polyline points="316.5,310.9 318.6,312.5 320.7,314.1 322.8,315.7 324.9,317.4 327.0,319.1 329.1,320.7 331.2,322.2 333.3,323.7 335.3,325.1 337.4,326.3 339.5,327.5 341.6,328.7 343.7,329.8 345.8,330.9 347.9,331.9 350.0,332.9 352.1,333.7 354.2,334.5 356.3,335.3 358.4,335.9 360.5,336.3 362.6,336.7 364.7,336.9 366.8,337.0 368.9,336.9 371.0,336.7 373.0,336.4 375.1,335.9 377.2,335.4 379.3,334.8 381.4,334.2 383.5,333.5 385.6,332.7 387.7,331.7 389.8,330.7 391.9,329.6 394.0,328.4 396.1,327.2 398.2,326.0 400.3,324.9 402.4,323.7 404.5,322.7 406.6,321.7 408.7,320.7 410.7,319.7 412.8,318.8 414.9,317.8 417.0,316.9 419.1,316.0 421.2,315.1 423.3,314.3 425.4,313.5 427.5,312.8 429.6,312.1 431.7,311.4 433.8,310.8 435.9,310.2 438.0,309.6 440.1,309.1 442.2,308.6 444.3,308.2 446.4,307.7 448.4,307.3 450.5,307.0 452.6,306.7 454.7,306.5 456.8,306.2 458.9,306.1 461.0,305.9 463.1,305.8 465.2,305.7 467.3,305.6 469.4,305.5 471.5,305.4 473.6,305.3 475.7,305.2 477.8,305.2 479.9,305.0 482.0,304.9" fill="none" stroke="#e0921e" stroke-width="1.3"/>
<line x1="303" y1="211" x2="303" y2="368.2" stroke="#1e1e1e" stroke-width="1.3" />
<line x1="302.4" y1="367.6" x2="495" y2="367.6" stroke="#1e1e1e" stroke-width="1.3" />
<line x1="299.7" y1="360.75" x2="303" y2="360.75" stroke="#1e1e1e" stroke-width="1.1" />
<text x="296.4" y="363.55" font-size="8.1" text-anchor="end" fill="#2a2a2a" font-weight="normal" >0</text>
<line x1="299.7" y1="325.75" x2="303" y2="325.75" stroke="#1e1e1e" stroke-width="1.1" />
<text x="296.4" y="328.55" font-size="8.1" text-anchor="end" fill="#2a2a2a" font-weight="normal" >20</text>
<line x1="299.7" y1="290.75" x2="303" y2="290.75" stroke="#1e1e1e" stroke-width="1.1" />
<text x="296.4" y="293.55" font-size="8.1" text-anchor="end" fill="#2a2a2a" font-weight="normal" >40</text>
<line x1="299.7" y1="255.75" x2="303" y2="255.75" stroke="#1e1e1e" stroke-width="1.1" />
<text x="296.4" y="258.55" font-size="8.1" text-anchor="end" fill="#2a2a2a" font-weight="normal" >60</text>
<line x1="299.7" y1="220.75" x2="303" y2="220.75" stroke="#1e1e1e" stroke-width="1.1" />
<text x="296.4" y="223.55" font-size="8.1" text-anchor="end" fill="#2a2a2a" font-weight="normal" >80</text>
<line x1="316.5" y1="367.6" x2="316.5" y2="371" stroke="#1e1e1e" stroke-width="1.1" />
<text x="316.5" y="382.6" font-size="8.2" text-anchor="middle" fill="#2a2a2a" font-weight="normal" >0</text>
<line x1="361.83" y1="367.6" x2="361.83" y2="371" stroke="#1e1e1e" stroke-width="1.1" />
<text x="361.83" y="382.6" font-size="8.2" text-anchor="middle" fill="#2a2a2a" font-weight="normal" >100</text>
<line x1="407.16" y1="367.6" x2="407.16" y2="371" stroke="#1e1e1e" stroke-width="1.1" />
<text x="407.16" y="382.6" font-size="8.2" text-anchor="middle" fill="#2a2a2a" font-weight="normal" >200</text>
<line x1="452.49" y1="367.6" x2="452.49" y2="371" stroke="#1e1e1e" stroke-width="1.1" />
<text x="452.49" y="382.6" font-size="8.2" text-anchor="middle" fill="#2a2a2a" font-weight="normal" >300</text>
<text transform="translate(277.6 290.6) rotate(-90)" x="0" y="3.53" font-size="9.8" text-anchor="middle" textLength="139" lengthAdjust="spacingAndGlyphs" fill="#222" stroke="#222" stroke-width="0.22">Proportion of CD56dim CD16+ NK cells (%)</text>
<text x="399" y="396.73" font-size="9.8" text-anchor="middle" textLength="79.3" lengthAdjust="spacingAndGlyphs" fill="#222" stroke="#222" stroke-width="0.22">Time in days post - HSCT</text>
<rect x="287" y="406.5" width="11.5" height="12" fill="#a8d0f0" />
<line x1="287" y1="412.5" x2="298.5" y2="412.5" stroke="#2f8fd0" stroke-width="1.2" />
<text x="302.5" y="415.4" font-size="8" text-anchor="start" fill="#2a2a2a" font-weight="normal" >CD56dim CD16+ NKG2A+</text>
<rect x="408.7" y="406.5" width="11.5" height="12" fill="#f6c490" />
<line x1="408.7" y1="412.5" x2="420.2" y2="412.5" stroke="#de8a1c" stroke-width="1.2" />
<text x="423.8" y="415.4" font-size="8" text-anchor="start" fill="#2a2a2a" font-weight="normal" >CD56dim CD16+ CD57+</text>
<text x="10.6" y="449.7" font-size="14.6" text-anchor="start" fill="#111" font-weight="bold" >D</text>
<text x="126.9" y="462.2" font-size="10.1" text-anchor="middle" fill="#1a1a1a" font-weight="normal" >KIR2DL1</text>
<text x="277.4" y="462.2" font-size="10.1" text-anchor="middle" fill="#1a1a1a" font-weight="normal" >KIR2DL1S1</text>
<text x="427.8" y="462.2" font-size="10.1" text-anchor="middle" fill="#1a1a1a" font-weight="normal" >KIR3DL1</text>
<polyline points="70.2,568.4 98.6,571.5 126.9,576.7 155.2,570.8 183.6,570.0" fill="none" stroke="#b8b8e4" stroke-width="0.6" stroke-opacity="0.72"/>
<polyline points="70.2,573.3 98.6,567.1 126.9,572.7 155.2,568.0 183.6,567.1" fill="none" stroke="#b8b8e4" stroke-width="0.6" stroke-opacity="0.72"/>
<polyline points="70.2,569.6 98.6,566.2 126.9,555.1 155.2,557.3 183.6,549.2" fill="none" stroke="#b8b8e4" stroke-width="0.6" stroke-opacity="0.72"/>
<polyline points="70.2,559.7 98.6,572.0 126.9,547.6 155.2,567.1 183.6,553.5" fill="none" stroke="#b8b8e4" stroke-width="0.6" stroke-opacity="0.72"/>
<polyline points="70.2,553.7 98.6,561.0 126.9,567.6 155.2,554.8 183.6,566.5" fill="none" stroke="#b8b8e4" stroke-width="0.6" stroke-opacity="0.72"/>
<polyline points="70.2,560.9 98.6,567.6 126.9,569.8 155.2,569.5 183.6,565.7" fill="none" stroke="#b8b8e4" stroke-width="0.6" stroke-opacity="0.72"/>
<polyline points="70.2,563.4 98.6,563.6 126.9,536.4 155.2,563.9 183.6,562.6" fill="none" stroke="#b8b8e4" stroke-width="0.6" stroke-opacity="0.72"/>
<polyline points="70.2,555.1 98.6,568.8 126.9,568.6 155.2,569.0 183.6,561.6" fill="none" stroke="#b8b8e4" stroke-width="0.6" stroke-opacity="0.72"/>
<polyline points="70.2,562.2 98.6,575.3 126.9,570.3 155.2,575.2 183.6,575.2" fill="none" stroke="#b8b8e4" stroke-width="0.6" stroke-opacity="0.72"/>
<polyline points="70.2,572.0 98.6,572.6 126.9,564.3 155.2,549.7 183.6,555.7" fill="none" stroke="#b8b8e4" stroke-width="0.6" stroke-opacity="0.72"/>
<polyline points="70.2,574.5 98.6,575.0 126.9,571.4 155.2,570.0 183.6,577.3" fill="none" stroke="#b8b8e4" stroke-width="0.6" stroke-opacity="0.72"/>
<polyline points="70.2,552.4 98.6,546.8 126.9,532.8 155.2,545.3 183.6,548.4" fill="none" stroke="#b8b8e4" stroke-width="0.6" stroke-opacity="0.72"/>
<polyline points="70.2,557.8 98.6,531.7 126.9,540.6 155.2,548.4 183.6,526.6" fill="none" stroke="#b8b8e4" stroke-width="0.6" stroke-opacity="0.72"/>
<polyline points="70.2,575.7 98.6,569.9 126.9,565.9 155.2,573.0 183.6,564.6" fill="none" stroke="#b8b8e4" stroke-width="0.6" stroke-opacity="0.72"/>
<polyline points="70.2,566.4 98.6,575.7 126.9,575.1 155.2,561.5 183.6,573.0" fill="none" stroke="#b8b8e4" stroke-width="0.6" stroke-opacity="0.72"/>
<polyline points="70.2,551.7 98.6,562.3 126.9,540.1 155.2,562.7 183.6,547.0" fill="none" stroke="#b8b8e4" stroke-width="0.6" stroke-opacity="0.72"/>
<polyline points="70.2,567.5 98.6,573.6 126.9,562.7 155.2,560.3 183.6,576.2" fill="none" stroke="#b8b8e4" stroke-width="0.6" stroke-opacity="0.72"/>
<polyline points="70.2,565.9 98.6,576.1 126.9,577.5 155.2,574.1 183.6,567.6" fill="none" stroke="#b8b8e4" stroke-width="0.6" stroke-opacity="0.72"/>
<polyline points="70.2,564.3 98.6,576.4 126.9,575.9 155.2,576.2 183.6,568.2" fill="none" stroke="#b8b8e4" stroke-width="0.6" stroke-opacity="0.72"/>
<polyline points="70.2,566.9 98.6,573.1 126.9,574.3 155.2,571.9 183.6,568.8" fill="none" stroke="#b8b8e4" stroke-width="0.6" stroke-opacity="0.72"/>
<polyline points="70.2,565.3 98.6,574.2 126.9,570.9 155.2,565.0 183.6,569.4" fill="none" stroke="#b8b8e4" stroke-width="0.6" stroke-opacity="0.72"/>
<polyline points="70.2,516.3 98.6,520.3 126.9,507.1 155.2,504.7 183.6,500.4" fill="none" stroke="#b8b8e4" stroke-width="0.6" stroke-opacity="0.72"/>
<polyline points="70.2,570.8 98.6,574.6 126.9,569.2 155.2,559.1 183.6,571.9" fill="none" stroke="#b8b8e4" stroke-width="0.6" stroke-opacity="0.72"/>
<polyline points="70.2,531.7 98.6,560.9 126.9,548.4 155.2,525.2 183.6,473.2" fill="none" stroke="#b8b8e4" stroke-width="0.6" stroke-opacity="0.72"/>
<polyline points="70.2,554.4 98.6,568.2 126.9,573.5 155.2,568.5 183.6,570.8" fill="none" stroke="#b8b8e4" stroke-width="0.6" stroke-opacity="0.72"/>
<polyline points="70.2,558.5 98.6,564.9 126.9,532.6 155.2,566.2 183.6,544.8" fill="none" stroke="#b8b8e4" stroke-width="0.6" stroke-opacity="0.72"/>
<polyline points="70.2,556.0 98.6,570.4 126.9,557.8 155.2,567.5 183.6,557.9" fill="none" stroke="#b8b8e4" stroke-width="0.6" stroke-opacity="0.72"/>
<polyline points="70.2,564.8 98.6,576.8 126.9,572.0 155.2,577.3 183.6,574.1" fill="none" stroke="#b8b8e4" stroke-width="0.6" stroke-opacity="0.72"/>
<circle cx="70.2" cy="568.4" r="1.35" fill="#a6a6da" fill-opacity="0.75"/>
<circle cx="98.6" cy="571.5" r="1.35" fill="#a6a6da" fill-opacity="0.75"/>
<circle cx="126.9" cy="576.7" r="1.35" fill="#a6a6da" fill-opacity="0.75"/>
<circle cx="155.2" cy="570.8" r="1.35" fill="#a6a6da" fill-opacity="0.75"/>
<circle cx="183.6" cy="570.0" r="1.35" fill="#a6a6da" fill-opacity="0.75"/>
<circle cx="70.2" cy="573.3" r="1.35" fill="#a6a6da" fill-opacity="0.75"/>
<circle cx="98.6" cy="567.1" r="1.35" fill="#a6a6da" fill-opacity="0.75"/>
<circle cx="126.9" cy="572.7" r="1.35" fill="#a6a6da" fill-opacity="0.75"/>
<circle cx="155.2" cy="568.0" r="1.35" fill="#a6a6da" fill-opacity="0.75"/>
<circle cx="183.6" cy="567.1" r="1.35" fill="#a6a6da" fill-opacity="0.75"/>
<circle cx="70.2" cy="569.6" r="1.35" fill="#a6a6da" fill-opacity="0.75"/>
<circle cx="98.6" cy="566.2" r="1.35" fill="#a6a6da" fill-opacity="0.75"/>
<circle cx="126.9" cy="555.1" r="1.35" fill="#a6a6da" fill-opacity="0.75"/>
<circle cx="155.2" cy="557.3" r="1.35" fill="#a6a6da" fill-opacity="0.75"/>
<circle cx="183.6" cy="549.2" r="1.35" fill="#a6a6da" fill-opacity="0.75"/>
<circle cx="70.2" cy="559.7" r="1.35" fill="#a6a6da" fill-opacity="0.75"/>
<circle cx="98.6" cy="572.0" r="1.35" fill="#a6a6da" fill-opacity="0.75"/>
<circle cx="126.9" cy="547.6" r="1.35" fill="#a6a6da" fill-opacity="0.75"/>
<circle cx="155.2" cy="567.1" r="1.35" fill="#a6a6da" fill-opacity="0.75"/>
<circle cx="183.6" cy="553.5" r="1.35" fill="#a6a6da" fill-opacity="0.75"/>
<circle cx="70.2" cy="553.7" r="1.35" fill="#a6a6da" fill-opacity="0.75"/>
<circle cx="98.6" cy="561.0" r="1.35" fill="#a6a6da" fill-opacity="0.75"/>
<circle cx="126.9" cy="567.6" r="1.35" fill="#a6a6da" fill-opacity="0.75"/>
<circle cx="155.2" cy="554.8" r="1.35" fill="#a6a6da" fill-opacity="0.75"/>
<circle cx="183.6" cy="566.5" r="1.35" fill="#a6a6da" fill-opacity="0.75"/>
<circle cx="70.2" cy="560.9" r="1.35" fill="#a6a6da" fill-opacity="0.75"/>
<circle cx="98.6" cy="567.6" r="1.35" fill="#a6a6da" fill-opacity="0.75"/>
<circle cx="126.9" cy="569.8" r="1.35" fill="#a6a6da" fill-opacity="0.75"/>
<circle cx="155.2" cy="569.5" r="1.35" fill="#a6a6da" fill-opacity="0.75"/>
<circle cx="183.6" cy="565.7" r="1.35" fill="#a6a6da" fill-opacity="0.75"/>
<circle cx="70.2" cy="563.4" r="1.35" fill="#a6a6da" fill-opacity="0.75"/>
<circle cx="98.6" cy="563.6" r="1.35" fill="#a6a6da" fill-opacity="0.75"/>
<circle cx="126.9" cy="536.4" r="1.35" fill="#a6a6da" fill-opacity="0.75"/>
<circle cx="155.2" cy="563.9" r="1.35" fill="#a6a6da" fill-opacity="0.75"/>
<circle cx="183.6" cy="562.6" r="1.35" fill="#a6a6da" fill-opacity="0.75"/>
<circle cx="70.2" cy="555.1" r="1.35" fill="#a6a6da" fill-opacity="0.75"/>
<circle cx="98.6" cy="568.8" r="1.35" fill="#a6a6da" fill-opacity="0.75"/>
<circle cx="126.9" cy="568.6" r="1.35" fill="#a6a6da" fill-opacity="0.75"/>
<circle cx="155.2" cy="569.0" r="1.35" fill="#a6a6da" fill-opacity="0.75"/>
<circle cx="183.6" cy="561.6" r="1.35" fill="#a6a6da" fill-opacity="0.75"/>
<circle cx="70.2" cy="562.2" r="1.35" fill="#a6a6da" fill-opacity="0.75"/>
<circle cx="98.6" cy="575.3" r="1.35" fill="#a6a6da" fill-opacity="0.75"/>
<circle cx="126.9" cy="570.3" r="1.35" fill="#a6a6da" fill-opacity="0.75"/>
<circle cx="155.2" cy="575.2" r="1.35" fill="#a6a6da" fill-opacity="0.75"/>
<circle cx="183.6" cy="575.2" r="1.35" fill="#a6a6da" fill-opacity="0.75"/>
<circle cx="70.2" cy="572.0" r="1.35" fill="#a6a6da" fill-opacity="0.75"/>
<circle cx="98.6" cy="572.6" r="1.35" fill="#a6a6da" fill-opacity="0.75"/>
<circle cx="126.9" cy="564.3" r="1.35" fill="#a6a6da" fill-opacity="0.75"/>
<circle cx="155.2" cy="549.7" r="1.35" fill="#a6a6da" fill-opacity="0.75"/>
<circle cx="183.6" cy="555.7" r="1.35" fill="#a6a6da" fill-opacity="0.75"/>
<circle cx="70.2" cy="574.5" r="1.35" fill="#a6a6da" fill-opacity="0.75"/>
<circle cx="98.6" cy="575.0" r="1.35" fill="#a6a6da" fill-opacity="0.75"/>
<circle cx="126.9" cy="571.4" r="1.35" fill="#a6a6da" fill-opacity="0.75"/>
<circle cx="155.2" cy="570.0" r="1.35" fill="#a6a6da" fill-opacity="0.75"/>
<circle cx="183.6" cy="577.3" r="1.35" fill="#a6a6da" fill-opacity="0.75"/>
<circle cx="70.2" cy="552.4" r="1.35" fill="#a6a6da" fill-opacity="0.75"/>
<circle cx="98.6" cy="546.8" r="1.35" fill="#a6a6da" fill-opacity="0.75"/>
<circle cx="126.9" cy="532.8" r="1.35" fill="#a6a6da" fill-opacity="0.75"/>
<circle cx="155.2" cy="545.3" r="1.35" fill="#a6a6da" fill-opacity="0.75"/>
<circle cx="183.6" cy="548.4" r="1.35" fill="#a6a6da" fill-opacity="0.75"/>
<circle cx="70.2" cy="557.8" r="1.35" fill="#a6a6da" fill-opacity="0.75"/>
<circle cx="98.6" cy="531.7" r="1.35" fill="#a6a6da" fill-opacity="0.75"/>
<circle cx="126.9" cy="540.6" r="1.35" fill="#a6a6da" fill-opacity="0.75"/>
<circle cx="155.2" cy="548.4" r="1.35" fill="#a6a6da" fill-opacity="0.75"/>
<circle cx="183.6" cy="526.6" r="1.35" fill="#a6a6da" fill-opacity="0.75"/>
<circle cx="70.2" cy="575.7" r="1.35" fill="#a6a6da" fill-opacity="0.75"/>
<circle cx="98.6" cy="569.9" r="1.35" fill="#a6a6da" fill-opacity="0.75"/>
<circle cx="126.9" cy="565.9" r="1.35" fill="#a6a6da" fill-opacity="0.75"/>
<circle cx="155.2" cy="573.0" r="1.35" fill="#a6a6da" fill-opacity="0.75"/>
<circle cx="183.6" cy="564.6" r="1.35" fill="#a6a6da" fill-opacity="0.75"/>
<circle cx="70.2" cy="566.4" r="1.35" fill="#a6a6da" fill-opacity="0.75"/>
<circle cx="98.6" cy="575.7" r="1.35" fill="#a6a6da" fill-opacity="0.75"/>
<circle cx="126.9" cy="575.1" r="1.35" fill="#a6a6da" fill-opacity="0.75"/>
<circle cx="155.2" cy="561.5" r="1.35" fill="#a6a6da" fill-opacity="0.75"/>
<circle cx="183.6" cy="573.0" r="1.35" fill="#a6a6da" fill-opacity="0.75"/>
<circle cx="70.2" cy="551.7" r="1.35" fill="#a6a6da" fill-opacity="0.75"/>
<circle cx="98.6" cy="562.3" r="1.35" fill="#a6a6da" fill-opacity="0.75"/>
<circle cx="126.9" cy="540.1" r="1.35" fill="#a6a6da" fill-opacity="0.75"/>
<circle cx="155.2" cy="562.7" r="1.35" fill="#a6a6da" fill-opacity="0.75"/>
<circle cx="183.6" cy="547.0" r="1.35" fill="#a6a6da" fill-opacity="0.75"/>
<circle cx="70.2" cy="567.5" r="1.35" fill="#a6a6da" fill-opacity="0.75"/>
<circle cx="98.6" cy="573.6" r="1.35" fill="#a6a6da" fill-opacity="0.75"/>
<circle cx="126.9" cy="562.7" r="1.35" fill="#a6a6da" fill-opacity="0.75"/>
<circle cx="155.2" cy="560.3" r="1.35" fill="#a6a6da" fill-opacity="0.75"/>
<circle cx="183.6" cy="576.2" r="1.35" fill="#a6a6da" fill-opacity="0.75"/>
<circle cx="70.2" cy="565.9" r="1.35" fill="#a6a6da" fill-opacity="0.75"/>
<circle cx="98.6" cy="576.1" r="1.35" fill="#a6a6da" fill-opacity="0.75"/>
<circle cx="126.9" cy="577.5" r="1.35" fill="#a6a6da" fill-opacity="0.75"/>
<circle cx="155.2" cy="574.1" r="1.35" fill="#a6a6da" fill-opacity="0.75"/>
<circle cx="183.6" cy="567.6" r="1.35" fill="#a6a6da" fill-opacity="0.75"/>
<circle cx="70.2" cy="564.3" r="1.35" fill="#a6a6da" fill-opacity="0.75"/>
<circle cx="98.6" cy="576.4" r="1.35" fill="#a6a6da" fill-opacity="0.75"/>
<circle cx="126.9" cy="575.9" r="1.35" fill="#a6a6da" fill-opacity="0.75"/>
<circle cx="155.2" cy="576.2" r="1.35" fill="#a6a6da" fill-opacity="0.75"/>
<circle cx="183.6" cy="568.2" r="1.35" fill="#a6a6da" fill-opacity="0.75"/>
<circle cx="70.2" cy="566.9" r="1.35" fill="#a6a6da" fill-opacity="0.75"/>
<circle cx="98.6" cy="573.1" r="1.35" fill="#a6a6da" fill-opacity="0.75"/>
<circle cx="126.9" cy="574.3" r="1.35" fill="#a6a6da" fill-opacity="0.75"/>
<circle cx="155.2" cy="571.9" r="1.35" fill="#a6a6da" fill-opacity="0.75"/>
<circle cx="183.6" cy="568.8" r="1.35" fill="#a6a6da" fill-opacity="0.75"/>
<circle cx="70.2" cy="565.3" r="1.35" fill="#a6a6da" fill-opacity="0.75"/>
<circle cx="98.6" cy="574.2" r="1.35" fill="#a6a6da" fill-opacity="0.75"/>
<circle cx="126.9" cy="570.9" r="1.35" fill="#a6a6da" fill-opacity="0.75"/>
<circle cx="155.2" cy="565.0" r="1.35" fill="#a6a6da" fill-opacity="0.75"/>
<circle cx="183.6" cy="569.4" r="1.35" fill="#a6a6da" fill-opacity="0.75"/>
<circle cx="70.2" cy="516.3" r="1.35" fill="#a6a6da" fill-opacity="0.75"/>
<circle cx="98.6" cy="520.3" r="1.35" fill="#a6a6da" fill-opacity="0.75"/>
<circle cx="126.9" cy="507.1" r="1.35" fill="#a6a6da" fill-opacity="0.75"/>
<circle cx="155.2" cy="504.7" r="1.35" fill="#a6a6da" fill-opacity="0.75"/>
<circle cx="183.6" cy="500.4" r="1.35" fill="#a6a6da" fill-opacity="0.75"/>
<circle cx="70.2" cy="570.8" r="1.35" fill="#a6a6da" fill-opacity="0.75"/>
<circle cx="98.6" cy="574.6" r="1.35" fill="#a6a6da" fill-opacity="0.75"/>
<circle cx="126.9" cy="569.2" r="1.35" fill="#a6a6da" fill-opacity="0.75"/>
<circle cx="155.2" cy="559.1" r="1.35" fill="#a6a6da" fill-opacity="0.75"/>
<circle cx="183.6" cy="571.9" r="1.35" fill="#a6a6da" fill-opacity="0.75"/>
<circle cx="70.2" cy="531.7" r="1.35" fill="#a6a6da" fill-opacity="0.75"/>
<circle cx="98.6" cy="560.9" r="1.35" fill="#a6a6da" fill-opacity="0.75"/>
<circle cx="126.9" cy="548.4" r="1.35" fill="#a6a6da" fill-opacity="0.75"/>
<circle cx="155.2" cy="525.2" r="1.35" fill="#a6a6da" fill-opacity="0.75"/>
<circle cx="183.6" cy="473.2" r="1.35" fill="#a6a6da" fill-opacity="0.75"/>
<circle cx="70.2" cy="554.4" r="1.35" fill="#a6a6da" fill-opacity="0.75"/>
<circle cx="98.6" cy="568.2" r="1.35" fill="#a6a6da" fill-opacity="0.75"/>
<circle cx="126.9" cy="573.5" r="1.35" fill="#a6a6da" fill-opacity="0.75"/>
<circle cx="155.2" cy="568.5" r="1.35" fill="#a6a6da" fill-opacity="0.75"/>
<circle cx="183.6" cy="570.8" r="1.35" fill="#a6a6da" fill-opacity="0.75"/>
<circle cx="70.2" cy="558.5" r="1.35" fill="#a6a6da" fill-opacity="0.75"/>
<circle cx="98.6" cy="564.9" r="1.35" fill="#a6a6da" fill-opacity="0.75"/>
<circle cx="126.9" cy="532.6" r="1.35" fill="#a6a6da" fill-opacity="0.75"/>
<circle cx="155.2" cy="566.2" r="1.35" fill="#a6a6da" fill-opacity="0.75"/>
<circle cx="183.6" cy="544.8" r="1.35" fill="#a6a6da" fill-opacity="0.75"/>
<circle cx="70.2" cy="556.0" r="1.35" fill="#a6a6da" fill-opacity="0.75"/>
<circle cx="98.6" cy="570.4" r="1.35" fill="#a6a6da" fill-opacity="0.75"/>
<circle cx="126.9" cy="557.8" r="1.35" fill="#a6a6da" fill-opacity="0.75"/>
<circle cx="155.2" cy="567.5" r="1.35" fill="#a6a6da" fill-opacity="0.75"/>
<circle cx="183.6" cy="557.9" r="1.35" fill="#a6a6da" fill-opacity="0.75"/>
<circle cx="70.2" cy="564.8" r="1.35" fill="#a6a6da" fill-opacity="0.75"/>
<circle cx="98.6" cy="576.8" r="1.35" fill="#a6a6da" fill-opacity="0.75"/>
<circle cx="126.9" cy="572.0" r="1.35" fill="#a6a6da" fill-opacity="0.75"/>
<circle cx="155.2" cy="577.3" r="1.35" fill="#a6a6da" fill-opacity="0.75"/>
<circle cx="183.6" cy="574.1" r="1.35" fill="#a6a6da" fill-opacity="0.75"/>
<line x1="70.2" y1="550.74" x2="70.2" y2="555.42" stroke="#45455a" stroke-width="1.4" />
<line x1="70.2" y1="567.74" x2="70.2" y2="576.32" stroke="#45455a" stroke-width="1.4" />
<rect x="63.0" y="555.4" width="14.5" height="12.3" fill="#fff" stroke="#7c7c98" stroke-width="0.8"/>
<line x1="62.95" y1="564" x2="77.45" y2="564" stroke="#151515" stroke-width="1.7" />
<line x1="98.55" y1="557.76" x2="98.55" y2="566.81" stroke="#45455a" stroke-width="1.4" />
<line x1="98.55" y1="574.45" x2="98.55" y2="576.95" stroke="#45455a" stroke-width="1.4" />
<rect x="91.3" y="566.8" width="14.5" height="7.6" fill="#fff" stroke="#7c7c98" stroke-width="0.8"/>
<line x1="91.3" y1="570.71" x2="105.8" y2="570.71" stroke="#151515" stroke-width="1.7" />
<line x1="126.9" y1="530.77" x2="126.9" y2="556.98" stroke="#45455a" stroke-width="1.4" />
<line x1="126.9" y1="572.27" x2="126.9" y2="577.88" stroke="#45455a" stroke-width="1.4" />
<rect x="119.7" y="557.0" width="14.5" height="15.3" fill="#fff" stroke="#7c7c98" stroke-width="0.8"/>
<line x1="119.65" y1="568.37" x2="134.15" y2="568.37" stroke="#151515" stroke-width="1.7" />
<line x1="155.25" y1="540.91" x2="155.25" y2="558.54" stroke="#45455a" stroke-width="1.4" />
<line x1="155.25" y1="570.24" x2="155.25" y2="577.88" stroke="#45455a" stroke-width="1.4" />
<rect x="148.0" y="558.5" width="14.5" height="11.7" fill="#fff" stroke="#7c7c98" stroke-width="0.8"/>
<line x1="148" y1="566.81" x2="162.5" y2="566.81" stroke="#151515" stroke-width="1.7" />
<line x1="183.6" y1="543.72" x2="183.6" y2="559.01" stroke="#45455a" stroke-width="1.4" />
<line x1="183.6" y1="570.24" x2="183.6" y2="577.88" stroke="#45455a" stroke-width="1.4" />
<rect x="176.4" y="559.0" width="14.5" height="11.2" fill="#fff" stroke="#7c7c98" stroke-width="0.8"/>
<line x1="176.35" y1="566.18" x2="190.85" y2="566.18" stroke="#151515" stroke-width="1.7" />
<line x1="53.6" y1="468.2" x2="53.6" y2="585.4" stroke="#1e1e1e" stroke-width="1.3" />
<line x1="53" y1="584.8" x2="200.2" y2="584.8" stroke="#1e1e1e" stroke-width="1.3" />
<line x1="70.2" y1="584.8" x2="70.2" y2="588.1" stroke="#1e1e1e" stroke-width="1.0" />
<text x="70.2" y="599" font-size="8.4" text-anchor="middle" fill="#2a2a2a" font-weight="normal" >t0</text>
<line x1="98.55" y1="584.8" x2="98.55" y2="588.1" stroke="#1e1e1e" stroke-width="1.0" />
<text x="98.55" y="599" font-size="8.4" text-anchor="middle" fill="#2a2a2a" font-weight="normal" >t3</text>
<line x1="126.9" y1="584.8" x2="126.9" y2="588.1" stroke="#1e1e1e" stroke-width="1.0" />
<text x="126.9" y="599" font-size="8.4" text-anchor="middle" fill="#2a2a2a" font-weight="normal" >t6</text>
<line x1="155.25" y1="584.8" x2="155.25" y2="588.1" stroke="#1e1e1e" stroke-width="1.0" />
<text x="155.25" y="599" font-size="8.4" text-anchor="middle" fill="#2a2a2a" font-weight="normal" >t9</text>
<line x1="183.6" y1="584.8" x2="183.6" y2="588.1" stroke="#1e1e1e" stroke-width="1.0" />
<text x="183.6" y="599" font-size="8.4" text-anchor="middle" fill="#2a2a2a" font-weight="normal" >t12</text>
<polyline points="220.7,530.9 249.0,551.3 277.4,566.1 305.8,561.2 334.1,569.4" fill="none" stroke="#b8b8e4" stroke-width="0.6" stroke-opacity="0.72"/>
<polyline points="220.7,563.6 249.0,573.7 277.4,575.3 305.8,558.9 334.1,548.2" fill="none" stroke="#b8b8e4" stroke-width="0.6" stroke-opacity="0.72"/>
<polyline points="220.7,532.8 249.0,482.3 277.4,507.4 305.8,489.4 334.1,499.9" fill="none" stroke="#b8b8e4" stroke-width="0.6" stroke-opacity="0.72"/>
<polyline points="220.7,540.6 249.0,548.4 277.4,502.8 305.8,495.2 334.1,510.0" fill="none" stroke="#b8b8e4" stroke-width="0.6" stroke-opacity="0.72"/>
<polyline points="220.7,554.4 249.0,574.9 277.4,569.3 305.8,570.1 334.1,555.1" fill="none" stroke="#b8b8e4" stroke-width="0.6" stroke-opacity="0.72"/>
<polyline points="220.7,543.4 249.0,569.7 277.4,542.9 305.8,557.3 334.1,565.4" fill="none" stroke="#b8b8e4" stroke-width="0.6" stroke-opacity="0.72"/>
<polyline points="220.7,568.0 249.0,562.3 277.4,570.5 305.8,575.2 334.1,566.0" fill="none" stroke="#b8b8e4" stroke-width="0.6" stroke-opacity="0.72"/>
<polyline points="220.7,561.1 249.0,567.1 277.4,572.9 305.8,574.0 334.1,550.5" fill="none" stroke="#b8b8e4" stroke-width="0.6" stroke-opacity="0.72"/>
<polyline points="220.7,556.0 249.0,565.5 277.4,574.1 305.8,572.7 334.1,559.7" fill="none" stroke="#b8b8e4" stroke-width="0.6" stroke-opacity="0.72"/>
<polyline points="220.7,551.1 249.0,574.3 277.4,540.3 305.8,549.6 334.1,552.8" fill="none" stroke="#b8b8e4" stroke-width="0.6" stroke-opacity="0.72"/>
<polyline points="220.7,567.5 249.0,572.0 277.4,556.4 305.8,566.4 334.1,545.6" fill="none" stroke="#b8b8e4" stroke-width="0.6" stroke-opacity="0.72"/>
<polyline points="220.7,516.3 249.0,479.8 277.4,487.6 305.8,532.8 334.1,548.4" fill="none" stroke="#b8b8e4" stroke-width="0.6" stroke-opacity="0.72"/>
<polyline points="220.7,568.4 249.0,573.0 277.4,576.5 305.8,563.3 334.1,575.3" fill="none" stroke="#b8b8e4" stroke-width="0.6" stroke-opacity="0.72"/>
<polyline points="220.7,559.9 249.0,570.6 277.4,566.6 305.8,560.2 334.1,571.7" fill="none" stroke="#b8b8e4" stroke-width="0.6" stroke-opacity="0.72"/>
<polyline points="220.7,567.0 249.0,576.8 277.4,564.1 305.8,562.3 334.1,572.9" fill="none" stroke="#b8b8e4" stroke-width="0.6" stroke-opacity="0.72"/>
<polyline points="220.7,557.4 249.0,571.6 277.4,567.5 305.8,547.2 334.1,562.1" fill="none" stroke="#b8b8e4" stroke-width="0.6" stroke-opacity="0.72"/>
<polyline points="220.7,565.6 249.0,563.9 277.4,561.5 305.8,551.2 334.1,564.2" fill="none" stroke="#b8b8e4" stroke-width="0.6" stroke-opacity="0.72"/>
<polyline points="220.7,566.1 249.0,559.2 277.4,545.4 305.8,552.7 334.1,570.5" fill="none" stroke="#b8b8e4" stroke-width="0.6" stroke-opacity="0.72"/>
<polyline points="220.7,566.6 249.0,557.0 277.4,567.0 305.8,571.4 334.1,557.4" fill="none" stroke="#b8b8e4" stroke-width="0.6" stroke-opacity="0.72"/>
<polyline points="220.7,546.2 249.0,568.7 277.4,553.8 305.8,540.4 334.1,537.2" fill="none" stroke="#b8b8e4" stroke-width="0.6" stroke-opacity="0.72"/>
<polyline points="220.7,547.9 249.0,548.4 277.4,551.2 305.8,564.3 334.1,574.1" fill="none" stroke="#b8b8e4" stroke-width="0.6" stroke-opacity="0.72"/>
<polyline points="220.7,564.8 249.0,576.2 277.4,571.7 305.8,555.8 334.1,566.7" fill="none" stroke="#b8b8e4" stroke-width="0.6" stroke-opacity="0.72"/>
<polyline points="220.7,549.5 249.0,542.7 277.4,568.0 305.8,543.8 334.1,568.2" fill="none" stroke="#b8b8e4" stroke-width="0.6" stroke-opacity="0.72"/>
<polyline points="220.7,558.7 249.0,560.8 277.4,565.6 305.8,568.9 334.1,564.8" fill="none" stroke="#b8b8e4" stroke-width="0.6" stroke-opacity="0.72"/>
<polyline points="220.7,562.3 249.0,575.5 277.4,568.4 305.8,567.6 334.1,567.3" fill="none" stroke="#b8b8e4" stroke-width="0.6" stroke-opacity="0.72"/>
<polyline points="220.7,518.3 249.0,572.5 277.4,544.1 305.8,537.0 334.1,531.6" fill="none" stroke="#b8b8e4" stroke-width="0.6" stroke-opacity="0.72"/>
<polyline points="220.7,552.8 249.0,554.1 277.4,558.9 305.8,554.2 334.1,540.0" fill="none" stroke="#b8b8e4" stroke-width="0.6" stroke-opacity="0.72"/>
<polyline points="220.7,526.7 249.0,545.5 277.4,541.6 305.8,565.4 334.1,563.5" fill="none" stroke="#b8b8e4" stroke-width="0.6" stroke-opacity="0.72"/>
<circle cx="220.7" cy="530.9" r="1.35" fill="#a6a6da" fill-opacity="0.75"/>
<circle cx="249.0" cy="551.3" r="1.35" fill="#a6a6da" fill-opacity="0.75"/>
<circle cx="277.4" cy="566.1" r="1.35" fill="#a6a6da" fill-opacity="0.75"/>
<circle cx="305.8" cy="561.2" r="1.35" fill="#a6a6da" fill-opacity="0.75"/>
<circle cx="334.1" cy="569.4" r="1.35" fill="#a6a6da" fill-opacity="0.75"/>
<circle cx="220.7" cy="563.6" r="1.35" fill="#a6a6da" fill-opacity="0.75"/>
<circle cx="249.0" cy="573.7" r="1.35" fill="#a6a6da" fill-opacity="0.75"/>
<circle cx="277.4" cy="575.3" r="1.35" fill="#a6a6da" fill-opacity="0.75"/>
<circle cx="305.8" cy="558.9" r="1.35" fill="#a6a6da" fill-opacity="0.75"/>
<circle cx="334.1" cy="548.2" r="1.35" fill="#a6a6da" fill-opacity="0.75"/>
<circle cx="220.7" cy="532.8" r="1.35" fill="#a6a6da" fill-opacity="0.75"/>
<circle cx="249.0" cy="482.3" r="1.35" fill="#a6a6da" fill-opacity="0.75"/>
<circle cx="277.4" cy="507.4" r="1.35" fill="#a6a6da" fill-opacity="0.75"/>
<circle cx="305.8" cy="489.4" r="1.35" fill="#a6a6da" fill-opacity="0.75"/>
<circle cx="334.1" cy="499.9" r="1.35" fill="#a6a6da" fill-opacity="0.75"/>
<circle cx="220.7" cy="540.6" r="1.35" fill="#a6a6da" fill-opacity="0.75"/>
<circle cx="249.0" cy="548.4" r="1.35" fill="#a6a6da" fill-opacity="0.75"/>
<circle cx="277.4" cy="502.8" r="1.35" fill="#a6a6da" fill-opacity="0.75"/>
<circle cx="305.8" cy="495.2" r="1.35" fill="#a6a6da" fill-opacity="0.75"/>
<circle cx="334.1" cy="510.0" r="1.35" fill="#a6a6da" fill-opacity="0.75"/>
<circle cx="220.7" cy="554.4" r="1.35" fill="#a6a6da" fill-opacity="0.75"/>
<circle cx="249.0" cy="574.9" r="1.35" fill="#a6a6da" fill-opacity="0.75"/>
<circle cx="277.4" cy="569.3" r="1.35" fill="#a6a6da" fill-opacity="0.75"/>
<circle cx="305.8" cy="570.1" r="1.35" fill="#a6a6da" fill-opacity="0.75"/>
<circle cx="334.1" cy="555.1" r="1.35" fill="#a6a6da" fill-opacity="0.75"/>
<circle cx="220.7" cy="543.4" r="1.35" fill="#a6a6da" fill-opacity="0.75"/>
<circle cx="249.0" cy="569.7" r="1.35" fill="#a6a6da" fill-opacity="0.75"/>
<circle cx="277.4" cy="542.9" r="1.35" fill="#a6a6da" fill-opacity="0.75"/>
<circle cx="305.8" cy="557.3" r="1.35" fill="#a6a6da" fill-opacity="0.75"/>
<circle cx="334.1" cy="565.4" r="1.35" fill="#a6a6da" fill-opacity="0.75"/>
<circle cx="220.7" cy="568.0" r="1.35" fill="#a6a6da" fill-opacity="0.75"/>
<circle cx="249.0" cy="562.3" r="1.35" fill="#a6a6da" fill-opacity="0.75"/>
<circle cx="277.4" cy="570.5" r="1.35" fill="#a6a6da" fill-opacity="0.75"/>
<circle cx="305.8" cy="575.2" r="1.35" fill="#a6a6da" fill-opacity="0.75"/>
<circle cx="334.1" cy="566.0" r="1.35" fill="#a6a6da" fill-opacity="0.75"/>
<circle cx="220.7" cy="561.1" r="1.35" fill="#a6a6da" fill-opacity="0.75"/>
<circle cx="249.0" cy="567.1" r="1.35" fill="#a6a6da" fill-opacity="0.75"/>
<circle cx="277.4" cy="572.9" r="1.35" fill="#a6a6da" fill-opacity="0.75"/>
<circle cx="305.8" cy="574.0" r="1.35" fill="#a6a6da" fill-opacity="0.75"/>
<circle cx="334.1" cy="550.5" r="1.35" fill="#a6a6da" fill-opacity="0.75"/>
<circle cx="220.7" cy="556.0" r="1.35" fill="#a6a6da" fill-opacity="0.75"/>
<circle cx="249.0" cy="565.5" r="1.35" fill="#a6a6da" fill-opacity="0.75"/>
<circle cx="277.4" cy="574.1" r="1.35" fill="#a6a6da" fill-opacity="0.75"/>
<circle cx="305.8" cy="572.7" r="1.35" fill="#a6a6da" fill-opacity="0.75"/>
<circle cx="334.1" cy="559.7" r="1.35" fill="#a6a6da" fill-opacity="0.75"/>
<circle cx="220.7" cy="551.1" r="1.35" fill="#a6a6da" fill-opacity="0.75"/>
<circle cx="249.0" cy="574.3" r="1.35" fill="#a6a6da" fill-opacity="0.75"/>
<circle cx="277.4" cy="540.3" r="1.35" fill="#a6a6da" fill-opacity="0.75"/>
<circle cx="305.8" cy="549.6" r="1.35" fill="#a6a6da" fill-opacity="0.75"/>
<circle cx="334.1" cy="552.8" r="1.35" fill="#a6a6da" fill-opacity="0.75"/>
<circle cx="220.7" cy="567.5" r="1.35" fill="#a6a6da" fill-opacity="0.75"/>
<circle cx="249.0" cy="572.0" r="1.35" fill="#a6a6da" fill-opacity="0.75"/>
<circle cx="277.4" cy="556.4" r="1.35" fill="#a6a6da" fill-opacity="0.75"/>
<circle cx="305.8" cy="566.4" r="1.35" fill="#a6a6da" fill-opacity="0.75"/>
<circle cx="334.1" cy="545.6" r="1.35" fill="#a6a6da" fill-opacity="0.75"/>
<circle cx="220.7" cy="516.3" r="1.35" fill="#a6a6da" fill-opacity="0.75"/>
<circle cx="249.0" cy="479.8" r="1.35" fill="#a6a6da" fill-opacity="0.75"/>
<circle cx="277.4" cy="487.6" r="1.35" fill="#a6a6da" fill-opacity="0.75"/>
<circle cx="305.8" cy="532.8" r="1.35" fill="#a6a6da" fill-opacity="0.75"/>
<circle cx="334.1" cy="548.4" r="1.35" fill="#a6a6da" fill-opacity="0.75"/>
<circle cx="220.7" cy="568.4" r="1.35" fill="#a6a6da" fill-opacity="0.75"/>
<circle cx="249.0" cy="573.0" r="1.35" fill="#a6a6da" fill-opacity="0.75"/>
<circle cx="277.4" cy="576.5" r="1.35" fill="#a6a6da" fill-opacity="0.75"/>
<circle cx="305.8" cy="563.3" r="1.35" fill="#a6a6da" fill-opacity="0.75"/>
<circle cx="334.1" cy="575.3" r="1.35" fill="#a6a6da" fill-opacity="0.75"/>
<circle cx="220.7" cy="559.9" r="1.35" fill="#a6a6da" fill-opacity="0.75"/>
<circle cx="249.0" cy="570.6" r="1.35" fill="#a6a6da" fill-opacity="0.75"/>
<circle cx="277.4" cy="566.6" r="1.35" fill="#a6a6da" fill-opacity="0.75"/>
<circle cx="305.8" cy="560.2" r="1.35" fill="#a6a6da" fill-opacity="0.75"/>
<circle cx="334.1" cy="571.7" r="1.35" fill="#a6a6da" fill-opacity="0.75"/>
<circle cx="220.7" cy="567.0" r="1.35" fill="#a6a6da" fill-opacity="0.75"/>
<circle cx="249.0" cy="576.8" r="1.35" fill="#a6a6da" fill-opacity="0.75"/>
<circle cx="277.4" cy="564.1" r="1.35" fill="#a6a6da" fill-opacity="0.75"/>
<circle cx="305.8" cy="562.3" r="1.35" fill="#a6a6da" fill-opacity="0.75"/>
<circle cx="334.1" cy="572.9" r="1.35" fill="#a6a6da" fill-opacity="0.75"/>
<circle cx="220.7" cy="557.4" r="1.35" fill="#a6a6da" fill-opacity="0.75"/>
<circle cx="249.0" cy="571.6" r="1.35" fill="#a6a6da" fill-opacity="0.75"/>
<circle cx="277.4" cy="567.5" r="1.35" fill="#a6a6da" fill-opacity="0.75"/>
<circle cx="305.8" cy="547.2" r="1.35" fill="#a6a6da" fill-opacity="0.75"/>
<circle cx="334.1" cy="562.1" r="1.35" fill="#a6a6da" fill-opacity="0.75"/>
<circle cx="220.7" cy="565.6" r="1.35" fill="#a6a6da" fill-opacity="0.75"/>
<circle cx="249.0" cy="563.9" r="1.35" fill="#a6a6da" fill-opacity="0.75"/>
<circle cx="277.4" cy="561.5" r="1.35" fill="#a6a6da" fill-opacity="0.75"/>
<circle cx="305.8" cy="551.2" r="1.35" fill="#a6a6da" fill-opacity="0.75"/>
<circle cx="334.1" cy="564.2" r="1.35" fill="#a6a6da" fill-opacity="0.75"/>
<circle cx="220.7" cy="566.1" r="1.35" fill="#a6a6da" fill-opacity="0.75"/>
<circle cx="249.0" cy="559.2" r="1.35" fill="#a6a6da" fill-opacity="0.75"/>
<circle cx="277.4" cy="545.4" r="1.35" fill="#a6a6da" fill-opacity="0.75"/>
<circle cx="305.8" cy="552.7" r="1.35" fill="#a6a6da" fill-opacity="0.75"/>
<circle cx="334.1" cy="570.5" r="1.35" fill="#a6a6da" fill-opacity="0.75"/>
<circle cx="220.7" cy="566.6" r="1.35" fill="#a6a6da" fill-opacity="0.75"/>
<circle cx="249.0" cy="557.0" r="1.35" fill="#a6a6da" fill-opacity="0.75"/>
<circle cx="277.4" cy="567.0" r="1.35" fill="#a6a6da" fill-opacity="0.75"/>
<circle cx="305.8" cy="571.4" r="1.35" fill="#a6a6da" fill-opacity="0.75"/>
<circle cx="334.1" cy="557.4" r="1.35" fill="#a6a6da" fill-opacity="0.75"/>
<circle cx="220.7" cy="546.2" r="1.35" fill="#a6a6da" fill-opacity="0.75"/>
<circle cx="249.0" cy="568.7" r="1.35" fill="#a6a6da" fill-opacity="0.75"/>
<circle cx="277.4" cy="553.8" r="1.35" fill="#a6a6da" fill-opacity="0.75"/>
<circle cx="305.8" cy="540.4" r="1.35" fill="#a6a6da" fill-opacity="0.75"/>
<circle cx="334.1" cy="537.2" r="1.35" fill="#a6a6da" fill-opacity="0.75"/>
<circle cx="220.7" cy="547.9" r="1.35" fill="#a6a6da" fill-opacity="0.75"/>
<circle cx="249.0" cy="548.4" r="1.35" fill="#a6a6da" fill-opacity="0.75"/>
<circle cx="277.4" cy="551.2" r="1.35" fill="#a6a6da" fill-opacity="0.75"/>
<circle cx="305.8" cy="564.3" r="1.35" fill="#a6a6da" fill-opacity="0.75"/>
<circle cx="334.1" cy="574.1" r="1.35" fill="#a6a6da" fill-opacity="0.75"/>
<circle cx="220.7" cy="564.8" r="1.35" fill="#a6a6da" fill-opacity="0.75"/>
<circle cx="249.0" cy="576.2" r="1.35" fill="#a6a6da" fill-opacity="0.75"/>
<circle cx="277.4" cy="571.7" r="1.35" fill="#a6a6da" fill-opacity="0.75"/>
<circle cx="305.8" cy="555.8" r="1.35" fill="#a6a6da" fill-opacity="0.75"/>
<circle cx="334.1" cy="566.7" r="1.35" fill="#a6a6da" fill-opacity="0.75"/>
<circle cx="220.7" cy="549.5" r="1.35" fill="#a6a6da" fill-opacity="0.75"/>
<circle cx="249.0" cy="542.7" r="1.35" fill="#a6a6da" fill-opacity="0.75"/>
<circle cx="277.4" cy="568.0" r="1.35" fill="#a6a6da" fill-opacity="0.75"/>
<circle cx="305.8" cy="543.8" r="1.35" fill="#a6a6da" fill-opacity="0.75"/>
<circle cx="334.1" cy="568.2" r="1.35" fill="#a6a6da" fill-opacity="0.75"/>
<circle cx="220.7" cy="558.7" r="1.35" fill="#a6a6da" fill-opacity="0.75"/>
<circle cx="249.0" cy="560.8" r="1.35" fill="#a6a6da" fill-opacity="0.75"/>
<circle cx="277.4" cy="565.6" r="1.35" fill="#a6a6da" fill-opacity="0.75"/>
<circle cx="305.8" cy="568.9" r="1.35" fill="#a6a6da" fill-opacity="0.75"/>
<circle cx="334.1" cy="564.8" r="1.35" fill="#a6a6da" fill-opacity="0.75"/>
<circle cx="220.7" cy="562.3" r="1.35" fill="#a6a6da" fill-opacity="0.75"/>
<circle cx="249.0" cy="575.5" r="1.35" fill="#a6a6da" fill-opacity="0.75"/>
<circle cx="277.4" cy="568.4" r="1.35" fill="#a6a6da" fill-opacity="0.75"/>
<circle cx="305.8" cy="567.6" r="1.35" fill="#a6a6da" fill-opacity="0.75"/>
<circle cx="334.1" cy="567.3" r="1.35" fill="#a6a6da" fill-opacity="0.75"/>
<circle cx="220.7" cy="518.3" r="1.35" fill="#a6a6da" fill-opacity="0.75"/>
<circle cx="249.0" cy="572.5" r="1.35" fill="#a6a6da" fill-opacity="0.75"/>
<circle cx="277.4" cy="544.1" r="1.35" fill="#a6a6da" fill-opacity="0.75"/>
<circle cx="305.8" cy="537.0" r="1.35" fill="#a6a6da" fill-opacity="0.75"/>
<circle cx="334.1" cy="531.6" r="1.35" fill="#a6a6da" fill-opacity="0.75"/>
<circle cx="220.7" cy="552.8" r="1.35" fill="#a6a6da" fill-opacity="0.75"/>
<circle cx="249.0" cy="554.1" r="1.35" fill="#a6a6da" fill-opacity="0.75"/>
<circle cx="277.4" cy="558.9" r="1.35" fill="#a6a6da" fill-opacity="0.75"/>
<circle cx="305.8" cy="554.2" r="1.35" fill="#a6a6da" fill-opacity="0.75"/>
<circle cx="334.1" cy="540.0" r="1.35" fill="#a6a6da" fill-opacity="0.75"/>
<circle cx="220.7" cy="526.7" r="1.35" fill="#a6a6da" fill-opacity="0.75"/>
<circle cx="249.0" cy="545.5" r="1.35" fill="#a6a6da" fill-opacity="0.75"/>
<circle cx="277.4" cy="541.6" r="1.35" fill="#a6a6da" fill-opacity="0.75"/>
<circle cx="305.8" cy="565.4" r="1.35" fill="#a6a6da" fill-opacity="0.75"/>
<circle cx="334.1" cy="563.5" r="1.35" fill="#a6a6da" fill-opacity="0.75"/>
<line x1="220.7" y1="516.26" x2="220.7" y2="545.44" stroke="#45455a" stroke-width="1.4" />
<line x1="220.7" y1="565.4" x2="220.7" y2="568.68" stroke="#45455a" stroke-width="1.4" />
<rect x="213.4" y="545.4" width="14.5" height="20.0" fill="#fff" stroke="#7c7c98" stroke-width="0.8"/>
<line x1="213.45" y1="556.82" x2="227.95" y2="556.82" stroke="#151515" stroke-width="1.7" />
<line x1="249.05" y1="538.42" x2="249.05" y2="558.38" stroke="#45455a" stroke-width="1.4" />
<line x1="249.05" y1="572.74" x2="249.05" y2="577.1" stroke="#45455a" stroke-width="1.4" />
<rect x="241.8" y="558.4" width="14.5" height="14.4" fill="#fff" stroke="#7c7c98" stroke-width="0.8"/>
<line x1="241.8" y1="569.46" x2="256.3" y2="569.46" stroke="#151515" stroke-width="1.7" />
<line x1="277.4" y1="538.42" x2="277.4" y2="547.31" stroke="#45455a" stroke-width="1.4" />
<line x1="277.4" y1="568.68" x2="277.4" y2="577.1" stroke="#45455a" stroke-width="1.4" />
<rect x="270.1" y="547.3" width="14.5" height="21.4" fill="#fff" stroke="#7c7c98" stroke-width="0.8"/>
<line x1="270.15" y1="565.4" x2="284.65" y2="565.4" stroke="#151515" stroke-width="1.7" />
<line x1="305.75" y1="525.16" x2="305.75" y2="548.87" stroke="#45455a" stroke-width="1.4" />
<line x1="305.75" y1="566.96" x2="305.75" y2="575.86" stroke="#45455a" stroke-width="1.4" />
<rect x="298.5" y="548.9" width="14.5" height="18.1" fill="#fff" stroke="#7c7c98" stroke-width="0.8"/>
<line x1="298.5" y1="559.63" x2="313" y2="559.63" stroke="#151515" stroke-width="1.7" />
<line x1="334.1" y1="527.34" x2="334.1" y2="547" stroke="#45455a" stroke-width="1.4" />
<line x1="334.1" y1="567.59" x2="334.1" y2="575.86" stroke="#45455a" stroke-width="1.4" />
<rect x="326.9" y="547.0" width="14.5" height="20.6" fill="#fff" stroke="#7c7c98" stroke-width="0.8"/>
<line x1="326.85" y1="563.22" x2="341.35" y2="563.22" stroke="#151515" stroke-width="1.7" />
<line x1="204" y1="468.2" x2="204" y2="585.4" stroke="#1e1e1e" stroke-width="1.3" />
<line x1="203.4" y1="584.8" x2="350.7" y2="584.8" stroke="#1e1e1e" stroke-width="1.3" />
<line x1="220.7" y1="584.8" x2="220.7" y2="588.1" stroke="#1e1e1e" stroke-width="1.0" />
<text x="220.7" y="599" font-size="8.4" text-anchor="middle" fill="#2a2a2a" font-weight="normal" >t0</text>
<line x1="249.05" y1="584.8" x2="249.05" y2="588.1" stroke="#1e1e1e" stroke-width="1.0" />
<text x="249.05" y="599" font-size="8.4" text-anchor="middle" fill="#2a2a2a" font-weight="normal" >t3</text>
<line x1="277.4" y1="584.8" x2="277.4" y2="588.1" stroke="#1e1e1e" stroke-width="1.0" />
<text x="277.4" y="599" font-size="8.4" text-anchor="middle" fill="#2a2a2a" font-weight="normal" >t6</text>
<line x1="305.75" y1="584.8" x2="305.75" y2="588.1" stroke="#1e1e1e" stroke-width="1.0" />
<text x="305.75" y="599" font-size="8.4" text-anchor="middle" fill="#2a2a2a" font-weight="normal" >t9</text>
<line x1="334.1" y1="584.8" x2="334.1" y2="588.1" stroke="#1e1e1e" stroke-width="1.0" />
<text x="334.1" y="599" font-size="8.4" text-anchor="middle" fill="#2a2a2a" font-weight="normal" >t12</text>
<polyline points="371.1,577.1 399.5,567.8 427.8,577.2 456.2,577.5 484.5,577.3" fill="none" stroke="#b8b8e4" stroke-width="0.6" stroke-opacity="0.72"/>
<polyline points="371.1,567.5 399.5,544.3 427.8,568.8 456.2,551.3 484.5,556.6" fill="none" stroke="#b8b8e4" stroke-width="0.6" stroke-opacity="0.72"/>
<polyline points="371.1,575.2 399.5,567.2 427.8,573.9 456.2,569.8 484.5,571.1" fill="none" stroke="#b8b8e4" stroke-width="0.6" stroke-opacity="0.72"/>
<polyline points="371.1,554.8 399.5,554.0 427.8,557.2 456.2,526.0 484.5,554.0" fill="none" stroke="#b8b8e4" stroke-width="0.6" stroke-opacity="0.72"/>
<polyline points="371.1,560.3 399.5,541.9 427.8,538.0 456.2,546.4 484.5,540.2" fill="none" stroke="#b8b8e4" stroke-width="0.6" stroke-opacity="0.72"/>
<polyline points="371.1,559.6 399.5,565.4 427.8,565.1 456.2,538.2 484.5,563.2" fill="none" stroke="#b8b8e4" stroke-width="0.6" stroke-opacity="0.72"/>
<polyline points="371.1,561.9 399.5,562.1 427.8,563.6 456.2,555.2 484.5,534.1" fill="none" stroke="#b8b8e4" stroke-width="0.6" stroke-opacity="0.72"/>
<polyline points="371.1,563.1 399.5,546.8 427.8,570.5 456.2,565.5 484.5,568.0" fill="none" stroke="#b8b8e4" stroke-width="0.6" stroke-opacity="0.72"/>
<polyline points="371.1,563.5 399.5,564.3 427.8,575.5 456.2,567.0 484.5,564.8" fill="none" stroke="#b8b8e4" stroke-width="0.6" stroke-opacity="0.72"/>
<polyline points="371.1,569.4 399.5,568.8 427.8,540.5 456.2,572.5 484.5,551.8" fill="none" stroke="#b8b8e4" stroke-width="0.6" stroke-opacity="0.72"/>
<polyline points="371.1,564.5 399.5,571.6 427.8,564.6 456.2,534.1 484.5,531.1" fill="none" stroke="#b8b8e4" stroke-width="0.6" stroke-opacity="0.72"/>
<polyline points="371.1,561.1 399.5,549.2 427.8,559.5 456.2,557.1 484.5,569.6" fill="none" stroke="#b8b8e4" stroke-width="0.6" stroke-opacity="0.72"/>
<polyline points="371.1,508.9 399.5,505.7 427.8,494.6 456.2,498.5 484.5,500.5" fill="none" stroke="#b8b8e4" stroke-width="0.6" stroke-opacity="0.72"/>
<polyline points="371.1,548.4 399.5,539.0 427.8,532.8 456.2,519.9 484.5,532.8" fill="none" stroke="#b8b8e4" stroke-width="0.6" stroke-opacity="0.72"/>
<polyline points="371.1,563.8 399.5,574.5 427.8,564.1 456.2,575.5 484.5,559.9" fill="none" stroke="#b8b8e4" stroke-width="0.6" stroke-opacity="0.72"/>
<polyline points="371.1,573.2 399.5,566.0 427.8,548.0 456.2,559.1 484.5,566.5" fill="none" stroke="#b8b8e4" stroke-width="0.6" stroke-opacity="0.72"/>
<polyline points="371.1,565.6 399.5,558.4 427.8,567.2 456.2,578.5 484.5,572.7" fill="none" stroke="#b8b8e4" stroke-width="0.6" stroke-opacity="0.72"/>
<polyline points="371.1,531.9 399.5,519.5 427.8,508.9 456.2,535.9 484.5,545.3" fill="none" stroke="#b8b8e4" stroke-width="0.6" stroke-opacity="0.72"/>
<polyline points="371.1,549.2 399.5,555.9 427.8,565.6 456.2,549.4 484.5,537.2" fill="none" stroke="#b8b8e4" stroke-width="0.6" stroke-opacity="0.72"/>
<polyline points="371.1,557.2 399.5,551.6 427.8,566.1 456.2,561.0 484.5,549.5" fill="none" stroke="#b8b8e4" stroke-width="0.6" stroke-opacity="0.72"/>
<polyline points="371.1,564.1 399.5,573.0 427.8,543.1 456.2,542.3 484.5,543.2" fill="none" stroke="#b8b8e4" stroke-width="0.6" stroke-opacity="0.72"/>
<polyline points="371.1,552.0 399.5,564.9 427.8,563.2 456.2,530.0 484.5,558.2" fill="none" stroke="#b8b8e4" stroke-width="0.6" stroke-opacity="0.72"/>
<polyline points="371.1,571.3 399.5,577.3 427.8,552.6 456.2,576.5 484.5,574.2" fill="none" stroke="#b8b8e4" stroke-width="0.6" stroke-opacity="0.72"/>
<polyline points="371.1,558.8 399.5,563.4 427.8,535.5 456.2,574.5 484.5,555.2" fill="none" stroke="#b8b8e4" stroke-width="0.6" stroke-opacity="0.72"/>
<polyline points="371.1,562.8 399.5,575.9 427.8,550.3 456.2,564.1 484.5,575.7" fill="none" stroke="#b8b8e4" stroke-width="0.6" stroke-opacity="0.72"/>
<polyline points="371.1,556.1 399.5,570.2 427.8,545.6 456.2,562.7 484.5,548.3" fill="none" stroke="#b8b8e4" stroke-width="0.6" stroke-opacity="0.72"/>
<polyline points="371.1,562.5 399.5,560.9 427.8,572.2 456.2,568.4 484.5,552.9" fill="none" stroke="#b8b8e4" stroke-width="0.6" stroke-opacity="0.72"/>
<polyline points="371.1,553.4 399.5,566.6 427.8,561.8 456.2,571.2 484.5,561.5" fill="none" stroke="#b8b8e4" stroke-width="0.6" stroke-opacity="0.72"/>
<circle cx="371.1" cy="577.1" r="1.35" fill="#a6a6da" fill-opacity="0.75"/>
<circle cx="399.5" cy="567.8" r="1.35" fill="#a6a6da" fill-opacity="0.75"/>
<circle cx="427.8" cy="577.2" r="1.35" fill="#a6a6da" fill-opacity="0.75"/>
<circle cx="456.2" cy="577.5" r="1.35" fill="#a6a6da" fill-opacity="0.75"/>
<circle cx="484.5" cy="577.3" r="1.35" fill="#a6a6da" fill-opacity="0.75"/>
<circle cx="371.1" cy="567.5" r="1.35" fill="#a6a6da" fill-opacity="0.75"/>
<circle cx="399.5" cy="544.3" r="1.35" fill="#a6a6da" fill-opacity="0.75"/>
<circle cx="427.8" cy="568.8" r="1.35" fill="#a6a6da" fill-opacity="0.75"/>
<circle cx="456.2" cy="551.3" r="1.35" fill="#a6a6da" fill-opacity="0.75"/>
<circle cx="484.5" cy="556.6" r="1.35" fill="#a6a6da" fill-opacity="0.75"/>
<circle cx="371.1" cy="575.2" r="1.35" fill="#a6a6da" fill-opacity="0.75"/>
<circle cx="399.5" cy="567.2" r="1.35" fill="#a6a6da" fill-opacity="0.75"/>
<circle cx="427.8" cy="573.9" r="1.35" fill="#a6a6da" fill-opacity="0.75"/>
<circle cx="456.2" cy="569.8" r="1.35" fill="#a6a6da" fill-opacity="0.75"/>
<circle cx="484.5" cy="571.1" r="1.35" fill="#a6a6da" fill-opacity="0.75"/>
<circle cx="371.1" cy="554.8" r="1.35" fill="#a6a6da" fill-opacity="0.75"/>
<circle cx="399.5" cy="554.0" r="1.35" fill="#a6a6da" fill-opacity="0.75"/>
<circle cx="427.8" cy="557.2" r="1.35" fill="#a6a6da" fill-opacity="0.75"/>
<circle cx="456.2" cy="526.0" r="1.35" fill="#a6a6da" fill-opacity="0.75"/>
<circle cx="484.5" cy="554.0" r="1.35" fill="#a6a6da" fill-opacity="0.75"/>
<circle cx="371.1" cy="560.3" r="1.35" fill="#a6a6da" fill-opacity="0.75"/>
<circle cx="399.5" cy="541.9" r="1.35" fill="#a6a6da" fill-opacity="0.75"/>
<circle cx="427.8" cy="538.0" r="1.35" fill="#a6a6da" fill-opacity="0.75"/>
<circle cx="456.2" cy="546.4" r="1.35" fill="#a6a6da" fill-opacity="0.75"/>
<circle cx="484.5" cy="540.2" r="1.35" fill="#a6a6da" fill-opacity="0.75"/>
<circle cx="371.1" cy="559.6" r="1.35" fill="#a6a6da" fill-opacity="0.75"/>
<circle cx="399.5" cy="565.4" r="1.35" fill="#a6a6da" fill-opacity="0.75"/>
<circle cx="427.8" cy="565.1" r="1.35" fill="#a6a6da" fill-opacity="0.75"/>
<circle cx="456.2" cy="538.2" r="1.35" fill="#a6a6da" fill-opacity="0.75"/>
<circle cx="484.5" cy="563.2" r="1.35" fill="#a6a6da" fill-opacity="0.75"/>
<circle cx="371.1" cy="561.9" r="1.35" fill="#a6a6da" fill-opacity="0.75"/>
<circle cx="399.5" cy="562.1" r="1.35" fill="#a6a6da" fill-opacity="0.75"/>
<circle cx="427.8" cy="563.6" r="1.35" fill="#a6a6da" fill-opacity="0.75"/>
<circle cx="456.2" cy="555.2" r="1.35" fill="#a6a6da" fill-opacity="0.75"/>
<circle cx="484.5" cy="534.1" r="1.35" fill="#a6a6da" fill-opacity="0.75"/>
<circle cx="371.1" cy="563.1" r="1.35" fill="#a6a6da" fill-opacity="0.75"/>
<circle cx="399.5" cy="546.8" r="1.35" fill="#a6a6da" fill-opacity="0.75"/>
<circle cx="427.8" cy="570.5" r="1.35" fill="#a6a6da" fill-opacity="0.75"/>
<circle cx="456.2" cy="565.5" r="1.35" fill="#a6a6da" fill-opacity="0.75"/>
<circle cx="484.5" cy="568.0" r="1.35" fill="#a6a6da" fill-opacity="0.75"/>
<circle cx="371.1" cy="563.5" r="1.35" fill="#a6a6da" fill-opacity="0.75"/>
<circle cx="399.5" cy="564.3" r="1.35" fill="#a6a6da" fill-opacity="0.75"/>
<circle cx="427.8" cy="575.5" r="1.35" fill="#a6a6da" fill-opacity="0.75"/>
<circle cx="456.2" cy="567.0" r="1.35" fill="#a6a6da" fill-opacity="0.75"/>
<circle cx="484.5" cy="564.8" r="1.35" fill="#a6a6da" fill-opacity="0.75"/>
<circle cx="371.1" cy="569.4" r="1.35" fill="#a6a6da" fill-opacity="0.75"/>
<circle cx="399.5" cy="568.8" r="1.35" fill="#a6a6da" fill-opacity="0.75"/>
<circle cx="427.8" cy="540.5" r="1.35" fill="#a6a6da" fill-opacity="0.75"/>
<circle cx="456.2" cy="572.5" r="1.35" fill="#a6a6da" fill-opacity="0.75"/>
<circle cx="484.5" cy="551.8" r="1.35" fill="#a6a6da" fill-opacity="0.75"/>
<circle cx="371.1" cy="564.5" r="1.35" fill="#a6a6da" fill-opacity="0.75"/>
<circle cx="399.5" cy="571.6" r="1.35" fill="#a6a6da" fill-opacity="0.75"/>
<circle cx="427.8" cy="564.6" r="1.35" fill="#a6a6da" fill-opacity="0.75"/>
<circle cx="456.2" cy="534.1" r="1.35" fill="#a6a6da" fill-opacity="0.75"/>
<circle cx="484.5" cy="531.1" r="1.35" fill="#a6a6da" fill-opacity="0.75"/>
<circle cx="371.1" cy="561.1" r="1.35" fill="#a6a6da" fill-opacity="0.75"/>
<circle cx="399.5" cy="549.2" r="1.35" fill="#a6a6da" fill-opacity="0.75"/>
<circle cx="427.8" cy="559.5" r="1.35" fill="#a6a6da" fill-opacity="0.75"/>
<circle cx="456.2" cy="557.1" r="1.35" fill="#a6a6da" fill-opacity="0.75"/>
<circle cx="484.5" cy="569.6" r="1.35" fill="#a6a6da" fill-opacity="0.75"/>
<circle cx="371.1" cy="508.9" r="1.35" fill="#a6a6da" fill-opacity="0.75"/>
<circle cx="399.5" cy="505.7" r="1.35" fill="#a6a6da" fill-opacity="0.75"/>
<circle cx="427.8" cy="494.6" r="1.35" fill="#a6a6da" fill-opacity="0.75"/>
<circle cx="456.2" cy="498.5" r="1.35" fill="#a6a6da" fill-opacity="0.75"/>
<circle cx="484.5" cy="500.5" r="1.35" fill="#a6a6da" fill-opacity="0.75"/>
<circle cx="371.1" cy="548.4" r="1.35" fill="#a6a6da" fill-opacity="0.75"/>
<circle cx="399.5" cy="539.0" r="1.35" fill="#a6a6da" fill-opacity="0.75"/>
<circle cx="427.8" cy="532.8" r="1.35" fill="#a6a6da" fill-opacity="0.75"/>
<circle cx="456.2" cy="519.9" r="1.35" fill="#a6a6da" fill-opacity="0.75"/>
<circle cx="484.5" cy="532.8" r="1.35" fill="#a6a6da" fill-opacity="0.75"/>
<circle cx="371.1" cy="563.8" r="1.35" fill="#a6a6da" fill-opacity="0.75"/>
<circle cx="399.5" cy="574.5" r="1.35" fill="#a6a6da" fill-opacity="0.75"/>
<circle cx="427.8" cy="564.1" r="1.35" fill="#a6a6da" fill-opacity="0.75"/>
<circle cx="456.2" cy="575.5" r="1.35" fill="#a6a6da" fill-opacity="0.75"/>
<circle cx="484.5" cy="559.9" r="1.35" fill="#a6a6da" fill-opacity="0.75"/>
<circle cx="371.1" cy="573.2" r="1.35" fill="#a6a6da" fill-opacity="0.75"/>
<circle cx="399.5" cy="566.0" r="1.35" fill="#a6a6da" fill-opacity="0.75"/>
<circle cx="427.8" cy="548.0" r="1.35" fill="#a6a6da" fill-opacity="0.75"/>
<circle cx="456.2" cy="559.1" r="1.35" fill="#a6a6da" fill-opacity="0.75"/>
<circle cx="484.5" cy="566.5" r="1.35" fill="#a6a6da" fill-opacity="0.75"/>
<circle cx="371.1" cy="565.6" r="1.35" fill="#a6a6da" fill-opacity="0.75"/>
<circle cx="399.5" cy="558.4" r="1.35" fill="#a6a6da" fill-opacity="0.75"/>
<circle cx="427.8" cy="567.2" r="1.35" fill="#a6a6da" fill-opacity="0.75"/>
<circle cx="456.2" cy="578.5" r="1.35" fill="#a6a6da" fill-opacity="0.75"/>
<circle cx="484.5" cy="572.7" r="1.35" fill="#a6a6da" fill-opacity="0.75"/>
<circle cx="371.1" cy="531.9" r="1.35" fill="#a6a6da" fill-opacity="0.75"/>
<circle cx="399.5" cy="519.5" r="1.35" fill="#a6a6da" fill-opacity="0.75"/>
<circle cx="427.8" cy="508.9" r="1.35" fill="#a6a6da" fill-opacity="0.75"/>
<circle cx="456.2" cy="535.9" r="1.35" fill="#a6a6da" fill-opacity="0.75"/>
<circle cx="484.5" cy="545.3" r="1.35" fill="#a6a6da" fill-opacity="0.75"/>
<circle cx="371.1" cy="549.2" r="1.35" fill="#a6a6da" fill-opacity="0.75"/>
<circle cx="399.5" cy="555.9" r="1.35" fill="#a6a6da" fill-opacity="0.75"/>
<circle cx="427.8" cy="565.6" r="1.35" fill="#a6a6da" fill-opacity="0.75"/>
<circle cx="456.2" cy="549.4" r="1.35" fill="#a6a6da" fill-opacity="0.75"/>
<circle cx="484.5" cy="537.2" r="1.35" fill="#a6a6da" fill-opacity="0.75"/>
<circle cx="371.1" cy="557.2" r="1.35" fill="#a6a6da" fill-opacity="0.75"/>
<circle cx="399.5" cy="551.6" r="1.35" fill="#a6a6da" fill-opacity="0.75"/>
<circle cx="427.8" cy="566.1" r="1.35" fill="#a6a6da" fill-opacity="0.75"/>
<circle cx="456.2" cy="561.0" r="1.35" fill="#a6a6da" fill-opacity="0.75"/>
<circle cx="484.5" cy="549.5" r="1.35" fill="#a6a6da" fill-opacity="0.75"/>
<circle cx="371.1" cy="564.1" r="1.35" fill="#a6a6da" fill-opacity="0.75"/>
<circle cx="399.5" cy="573.0" r="1.35" fill="#a6a6da" fill-opacity="0.75"/>
<circle cx="427.8" cy="543.1" r="1.35" fill="#a6a6da" fill-opacity="0.75"/>
<circle cx="456.2" cy="542.3" r="1.35" fill="#a6a6da" fill-opacity="0.75"/>
<circle cx="484.5" cy="543.2" r="1.35" fill="#a6a6da" fill-opacity="0.75"/>
<circle cx="371.1" cy="552.0" r="1.35" fill="#a6a6da" fill-opacity="0.75"/>
<circle cx="399.5" cy="564.9" r="1.35" fill="#a6a6da" fill-opacity="0.75"/>
<circle cx="427.8" cy="563.2" r="1.35" fill="#a6a6da" fill-opacity="0.75"/>
<circle cx="456.2" cy="530.0" r="1.35" fill="#a6a6da" fill-opacity="0.75"/>
<circle cx="484.5" cy="558.2" r="1.35" fill="#a6a6da" fill-opacity="0.75"/>
<circle cx="371.1" cy="571.3" r="1.35" fill="#a6a6da" fill-opacity="0.75"/>
<circle cx="399.5" cy="577.3" r="1.35" fill="#a6a6da" fill-opacity="0.75"/>
<circle cx="427.8" cy="552.6" r="1.35" fill="#a6a6da" fill-opacity="0.75"/>
<circle cx="456.2" cy="576.5" r="1.35" fill="#a6a6da" fill-opacity="0.75"/>
<circle cx="484.5" cy="574.2" r="1.35" fill="#a6a6da" fill-opacity="0.75"/>
<circle cx="371.1" cy="558.8" r="1.35" fill="#a6a6da" fill-opacity="0.75"/>
<circle cx="399.5" cy="563.4" r="1.35" fill="#a6a6da" fill-opacity="0.75"/>
<circle cx="427.8" cy="535.5" r="1.35" fill="#a6a6da" fill-opacity="0.75"/>
<circle cx="456.2" cy="574.5" r="1.35" fill="#a6a6da" fill-opacity="0.75"/>
<circle cx="484.5" cy="555.2" r="1.35" fill="#a6a6da" fill-opacity="0.75"/>
<circle cx="371.1" cy="562.8" r="1.35" fill="#a6a6da" fill-opacity="0.75"/>
<circle cx="399.5" cy="575.9" r="1.35" fill="#a6a6da" fill-opacity="0.75"/>
<circle cx="427.8" cy="550.3" r="1.35" fill="#a6a6da" fill-opacity="0.75"/>
<circle cx="456.2" cy="564.1" r="1.35" fill="#a6a6da" fill-opacity="0.75"/>
<circle cx="484.5" cy="575.7" r="1.35" fill="#a6a6da" fill-opacity="0.75"/>
<circle cx="371.1" cy="556.1" r="1.35" fill="#a6a6da" fill-opacity="0.75"/>
<circle cx="399.5" cy="570.2" r="1.35" fill="#a6a6da" fill-opacity="0.75"/>
<circle cx="427.8" cy="545.6" r="1.35" fill="#a6a6da" fill-opacity="0.75"/>
<circle cx="456.2" cy="562.7" r="1.35" fill="#a6a6da" fill-opacity="0.75"/>
<circle cx="484.5" cy="548.3" r="1.35" fill="#a6a6da" fill-opacity="0.75"/>
<circle cx="371.1" cy="562.5" r="1.35" fill="#a6a6da" fill-opacity="0.75"/>
<circle cx="399.5" cy="560.9" r="1.35" fill="#a6a6da" fill-opacity="0.75"/>
<circle cx="427.8" cy="572.2" r="1.35" fill="#a6a6da" fill-opacity="0.75"/>
<circle cx="456.2" cy="568.4" r="1.35" fill="#a6a6da" fill-opacity="0.75"/>
<circle cx="484.5" cy="552.9" r="1.35" fill="#a6a6da" fill-opacity="0.75"/>
<circle cx="371.1" cy="553.4" r="1.35" fill="#a6a6da" fill-opacity="0.75"/>
<circle cx="399.5" cy="566.6" r="1.35" fill="#a6a6da" fill-opacity="0.75"/>
<circle cx="427.8" cy="561.8" r="1.35" fill="#a6a6da" fill-opacity="0.75"/>
<circle cx="456.2" cy="571.2" r="1.35" fill="#a6a6da" fill-opacity="0.75"/>
<circle cx="484.5" cy="561.5" r="1.35" fill="#a6a6da" fill-opacity="0.75"/>
<line x1="371.1" y1="547.15" x2="371.1" y2="556.82" stroke="#45455a" stroke-width="1.4" />
<line x1="371.1" y1="564.62" x2="371.1" y2="578.04" stroke="#45455a" stroke-width="1.4" />
<rect x="363.9" y="556.8" width="14.5" height="7.8" fill="#fff" stroke="#7c7c98" stroke-width="0.8"/>
<line x1="363.85" y1="562.28" x2="378.35" y2="562.28" stroke="#151515" stroke-width="1.7" />
<line x1="399.45" y1="538.26" x2="399.45" y2="555.26" stroke="#45455a" stroke-width="1.4" />
<line x1="399.45" y1="568.06" x2="399.45" y2="578.04" stroke="#45455a" stroke-width="1.4" />
<rect x="392.2" y="555.3" width="14.5" height="12.8" fill="#fff" stroke="#7c7c98" stroke-width="0.8"/>
<line x1="392.2" y1="564" x2="406.7" y2="564" stroke="#151515" stroke-width="1.7" />
<line x1="427.8" y1="529.21" x2="427.8" y2="546.84" stroke="#45455a" stroke-width="1.4" />
<line x1="427.8" y1="566.34" x2="427.8" y2="578.04" stroke="#45455a" stroke-width="1.4" />
<rect x="420.6" y="546.8" width="14.5" height="19.5" fill="#fff" stroke="#7c7c98" stroke-width="0.8"/>
<line x1="420.55" y1="562.91" x2="435.05" y2="562.91" stroke="#151515" stroke-width="1.7" />
<line x1="456.15" y1="519.85" x2="456.15" y2="548.4" stroke="#45455a" stroke-width="1.4" />
<line x1="456.15" y1="571.96" x2="456.15" y2="578.98" stroke="#45455a" stroke-width="1.4" />
<rect x="448.9" y="548.4" width="14.5" height="23.6" fill="#fff" stroke="#7c7c98" stroke-width="0.8"/>
<line x1="448.9" y1="561.97" x2="463.4" y2="561.97" stroke="#151515" stroke-width="1.7" />
<line x1="484.5" y1="526.56" x2="484.5" y2="547.78" stroke="#45455a" stroke-width="1.4" />
<line x1="484.5" y1="567.28" x2="484.5" y2="578.04" stroke="#45455a" stroke-width="1.4" />
<rect x="477.2" y="547.8" width="14.5" height="19.5" fill="#fff" stroke="#7c7c98" stroke-width="0.8"/>
<line x1="477.25" y1="555.73" x2="491.75" y2="555.73" stroke="#151515" stroke-width="1.7" />
<line x1="354.4" y1="468.2" x2="354.4" y2="585.4" stroke="#1e1e1e" stroke-width="1.3" />
<line x1="353.8" y1="584.8" x2="501.1" y2="584.8" stroke="#1e1e1e" stroke-width="1.3" />
<line x1="371.1" y1="584.8" x2="371.1" y2="588.1" stroke="#1e1e1e" stroke-width="1.0" />
<text x="371.1" y="599" font-size="8.4" text-anchor="middle" fill="#2a2a2a" font-weight="normal" >t0</text>
<line x1="399.45" y1="584.8" x2="399.45" y2="588.1" stroke="#1e1e1e" stroke-width="1.0" />
<text x="399.45" y="599" font-size="8.4" text-anchor="middle" fill="#2a2a2a" font-weight="normal" >t3</text>
<line x1="427.8" y1="584.8" x2="427.8" y2="588.1" stroke="#1e1e1e" stroke-width="1.0" />
<text x="427.8" y="599" font-size="8.4" text-anchor="middle" fill="#2a2a2a" font-weight="normal" >t6</text>
<line x1="456.15" y1="584.8" x2="456.15" y2="588.1" stroke="#1e1e1e" stroke-width="1.0" />
<text x="456.15" y="599" font-size="8.4" text-anchor="middle" fill="#2a2a2a" font-weight="normal" >t9</text>
<line x1="484.5" y1="584.8" x2="484.5" y2="588.1" stroke="#1e1e1e" stroke-width="1.0" />
<text x="484.5" y="599" font-size="8.4" text-anchor="middle" fill="#2a2a2a" font-weight="normal" >t12</text>
<line x1="50.3" y1="579.6" x2="53.6" y2="579.6" stroke="#1e1e1e" stroke-width="1.1" />
<text x="45.2" y="582.3" font-size="7.5" text-anchor="end" fill="#2a2a2a" font-weight="normal" >0</text>
<line x1="50.3" y1="548.4" x2="53.6" y2="548.4" stroke="#1e1e1e" stroke-width="1.1" />
<text x="45.2" y="551.1" font-size="7.5" text-anchor="end" fill="#2a2a2a" font-weight="normal" >20</text>
<line x1="50.3" y1="517.2" x2="53.6" y2="517.2" stroke="#1e1e1e" stroke-width="1.1" />
<text x="45.2" y="519.9" font-size="7.5" text-anchor="end" fill="#2a2a2a" font-weight="normal" >40</text>
<line x1="50.3" y1="486" x2="53.6" y2="486" stroke="#1e1e1e" stroke-width="1.1" />
<text x="45.2" y="488.7" font-size="7.5" text-anchor="end" fill="#2a2a2a" font-weight="normal" >60</text>
<text transform="translate(27.4 526.8) rotate(-90)" x="0" y="3.31" font-size="9.2" text-anchor="middle" textLength="114" lengthAdjust="spacingAndGlyphs" fill="#222" stroke="#222" stroke-width="0.22">Proportion of CD56dim NK cells (%)</text>
<text x="8" y="631.8" font-size="14.6" text-anchor="start" fill="#111" font-weight="bold" >E</text>
<text x="126.9" y="645.5" font-size="10.1" text-anchor="middle" fill="#1a1a1a" font-weight="normal" >KIR2DL2S2</text>
<text x="277.4" y="645.5" font-size="10.1" text-anchor="middle" fill="#1a1a1a" font-weight="normal" >KIR2DL2L3S2</text>
<text x="427.8" y="645.5" font-size="10.1" text-anchor="middle" fill="#1a1a1a" font-weight="normal" >KIR2DL3</text>
<polyline points="70.2,755.2 98.6,759.7 126.9,762.4 155.2,758.5 183.6,757.1" fill="none" stroke="#b8b8e4" stroke-width="0.6" stroke-opacity="0.72"/>
<polyline points="70.2,757.6 98.6,755.6 126.9,743.7 155.2,756.5 183.6,753.3" fill="none" stroke="#b8b8e4" stroke-width="0.6" stroke-opacity="0.72"/>
<polyline points="70.2,754.6 98.6,753.2 126.9,739.4 155.2,747.5 183.6,716.2" fill="none" stroke="#b8b8e4" stroke-width="0.6" stroke-opacity="0.72"/>
<polyline points="70.2,755.8 98.6,754.8 126.9,753.0 155.2,752.7 183.6,757.4" fill="none" stroke="#b8b8e4" stroke-width="0.6" stroke-opacity="0.72"/>
<polyline points="70.2,746.7 98.6,746.7 126.9,742.2 155.2,722.3 183.6,720.1" fill="none" stroke="#b8b8e4" stroke-width="0.6" stroke-opacity="0.72"/>
<polyline points="70.2,753.0 98.6,755.9 126.9,757.0 155.2,755.2 183.6,746.2" fill="none" stroke="#b8b8e4" stroke-width="0.6" stroke-opacity="0.72"/>
<polyline points="70.2,757.8 98.6,759.2 126.9,761.3 155.2,752.5 183.6,756.3" fill="none" stroke="#b8b8e4" stroke-width="0.6" stroke-opacity="0.72"/>
<polyline points="70.2,753.5 98.6,755.0 126.9,756.0 155.2,751.4 183.6,754.7" fill="none" stroke="#b8b8e4" stroke-width="0.6" stroke-opacity="0.72"/>
<polyline points="70.2,757.3 98.6,750.7 126.9,747.7 155.2,753.3 183.6,751.9" fill="none" stroke="#b8b8e4" stroke-width="0.6" stroke-opacity="0.72"/>
<polyline points="70.2,756.3 98.6,755.4 126.9,755.2 155.2,753.0 183.6,756.0" fill="none" stroke="#b8b8e4" stroke-width="0.6" stroke-opacity="0.72"/>
<polyline points="70.2,755.5 98.6,753.4 126.9,759.2 155.2,754.5 183.6,756.7" fill="none" stroke="#b8b8e4" stroke-width="0.6" stroke-opacity="0.72"/>
<polyline points="70.2,752.7 98.6,754.5 126.9,753.4 155.2,737.6 183.6,744.4" fill="none" stroke="#b8b8e4" stroke-width="0.6" stroke-opacity="0.72"/>
<polyline points="70.2,753.8 98.6,758.1 126.9,754.3 155.2,754.1 183.6,732.2" fill="none" stroke="#b8b8e4" stroke-width="0.6" stroke-opacity="0.72"/>
<polyline points="70.2,745.9 98.6,753.9 126.9,741.5 155.2,743.6 183.6,712.9" fill="none" stroke="#b8b8e4" stroke-width="0.6" stroke-opacity="0.72"/>
<polyline points="70.2,756.1 98.6,754.3 126.9,752.5 155.2,745.6 183.6,738.3" fill="none" stroke="#b8b8e4" stroke-width="0.6" stroke-opacity="0.72"/>
<polyline points="70.2,746.9 98.6,746.9 126.9,751.1 155.2,732.6 183.6,734.2" fill="none" stroke="#b8b8e4" stroke-width="0.6" stroke-opacity="0.72"/>
<polyline points="70.2,756.6 98.6,751.7 126.9,745.9 155.2,755.9 183.6,726.2" fill="none" stroke="#b8b8e4" stroke-width="0.6" stroke-opacity="0.72"/>
<polyline points="70.2,753.3 98.6,757.5 126.9,760.3 155.2,741.7 183.6,757.8" fill="none" stroke="#b8b8e4" stroke-width="0.6" stroke-opacity="0.72"/>
<polyline points="70.2,756.8 98.6,747.9 126.9,750.2 155.2,735.1 183.6,729.5" fill="none" stroke="#b8b8e4" stroke-width="0.6" stroke-opacity="0.72"/>
<polyline points="70.2,748.9 98.6,753.7 126.9,740.4 155.2,739.8 183.6,722.9" fill="none" stroke="#b8b8e4" stroke-width="0.6" stroke-opacity="0.72"/>
<polyline points="70.2,749.9 98.6,756.5 126.9,754.8 155.2,730.2 183.6,750.4" fill="none" stroke="#b8b8e4" stroke-width="0.6" stroke-opacity="0.72"/>
<polyline points="70.2,752.5 98.6,749.8 126.9,753.9 155.2,727.7 183.6,736.3" fill="none" stroke="#b8b8e4" stroke-width="0.6" stroke-opacity="0.72"/>
<polyline points="70.2,757.1 98.6,756.1 126.9,746.9 155.2,757.9 183.6,755.6" fill="none" stroke="#b8b8e4" stroke-width="0.6" stroke-opacity="0.72"/>
<polyline points="70.2,754.1 98.6,758.6 126.9,751.9 155.2,757.2 183.6,740.3" fill="none" stroke="#b8b8e4" stroke-width="0.6" stroke-opacity="0.72"/>
<polyline points="70.2,754.3 98.6,752.6 126.9,758.1 155.2,753.5 183.6,749.0" fill="none" stroke="#b8b8e4" stroke-width="0.6" stroke-opacity="0.72"/>
<polyline points="70.2,750.9 98.6,755.2 126.9,744.8 155.2,749.4 183.6,747.6" fill="none" stroke="#b8b8e4" stroke-width="0.6" stroke-opacity="0.72"/>
<polyline points="70.2,723.5 98.6,748.9 126.9,731.2 155.2,700.8 183.6,706.8" fill="none" stroke="#b8b8e4" stroke-width="0.6" stroke-opacity="0.72"/>
<polyline points="70.2,754.9 98.6,757.0 126.9,742.6 155.2,753.8 183.6,742.4" fill="none" stroke="#b8b8e4" stroke-width="0.6" stroke-opacity="0.72"/>
<circle cx="70.2" cy="755.2" r="1.35" fill="#a6a6da" fill-opacity="0.75"/>
<circle cx="98.6" cy="759.7" r="1.35" fill="#a6a6da" fill-opacity="0.75"/>
<circle cx="126.9" cy="762.4" r="1.35" fill="#a6a6da" fill-opacity="0.75"/>
<circle cx="155.2" cy="758.5" r="1.35" fill="#a6a6da" fill-opacity="0.75"/>
<circle cx="183.6" cy="757.1" r="1.35" fill="#a6a6da" fill-opacity="0.75"/>
<circle cx="70.2" cy="757.6" r="1.35" fill="#a6a6da" fill-opacity="0.75"/>
<circle cx="98.6" cy="755.6" r="1.35" fill="#a6a6da" fill-opacity="0.75"/>
<circle cx="126.9" cy="743.7" r="1.35" fill="#a6a6da" fill-opacity="0.75"/>
<circle cx="155.2" cy="756.5" r="1.35" fill="#a6a6da" fill-opacity="0.75"/>
<circle cx="183.6" cy="753.3" r="1.35" fill="#a6a6da" fill-opacity="0.75"/>
<circle cx="70.2" cy="754.6" r="1.35" fill="#a6a6da" fill-opacity="0.75"/>
<circle cx="98.6" cy="753.2" r="1.35" fill="#a6a6da" fill-opacity="0.75"/>
<circle cx="126.9" cy="739.4" r="1.35" fill="#a6a6da" fill-opacity="0.75"/>
<circle cx="155.2" cy="747.5" r="1.35" fill="#a6a6da" fill-opacity="0.75"/>
<circle cx="183.6" cy="716.2" r="1.35" fill="#a6a6da" fill-opacity="0.75"/>
<circle cx="70.2" cy="755.8" r="1.35" fill="#a6a6da" fill-opacity="0.75"/>
<circle cx="98.6" cy="754.8" r="1.35" fill="#a6a6da" fill-opacity="0.75"/>
<circle cx="126.9" cy="753.0" r="1.35" fill="#a6a6da" fill-opacity="0.75"/>
<circle cx="155.2" cy="752.7" r="1.35" fill="#a6a6da" fill-opacity="0.75"/>
<circle cx="183.6" cy="757.4" r="1.35" fill="#a6a6da" fill-opacity="0.75"/>
<circle cx="70.2" cy="746.7" r="1.35" fill="#a6a6da" fill-opacity="0.75"/>
<circle cx="98.6" cy="746.7" r="1.35" fill="#a6a6da" fill-opacity="0.75"/>
<circle cx="126.9" cy="742.2" r="1.35" fill="#a6a6da" fill-opacity="0.75"/>
<circle cx="155.2" cy="722.3" r="1.35" fill="#a6a6da" fill-opacity="0.75"/>
<circle cx="183.6" cy="720.1" r="1.35" fill="#a6a6da" fill-opacity="0.75"/>
<circle cx="70.2" cy="753.0" r="1.35" fill="#a6a6da" fill-opacity="0.75"/>
<circle cx="98.6" cy="755.9" r="1.35" fill="#a6a6da" fill-opacity="0.75"/>
<circle cx="126.9" cy="757.0" r="1.35" fill="#a6a6da" fill-opacity="0.75"/>
<circle cx="155.2" cy="755.2" r="1.35" fill="#a6a6da" fill-opacity="0.75"/>
<circle cx="183.6" cy="746.2" r="1.35" fill="#a6a6da" fill-opacity="0.75"/>
<circle cx="70.2" cy="757.8" r="1.35" fill="#a6a6da" fill-opacity="0.75"/>
<circle cx="98.6" cy="759.2" r="1.35" fill="#a6a6da" fill-opacity="0.75"/>
<circle cx="126.9" cy="761.3" r="1.35" fill="#a6a6da" fill-opacity="0.75"/>
<circle cx="155.2" cy="752.5" r="1.35" fill="#a6a6da" fill-opacity="0.75"/>
<circle cx="183.6" cy="756.3" r="1.35" fill="#a6a6da" fill-opacity="0.75"/>
<circle cx="70.2" cy="753.5" r="1.35" fill="#a6a6da" fill-opacity="0.75"/>
<circle cx="98.6" cy="755.0" r="1.35" fill="#a6a6da" fill-opacity="0.75"/>
<circle cx="126.9" cy="756.0" r="1.35" fill="#a6a6da" fill-opacity="0.75"/>
<circle cx="155.2" cy="751.4" r="1.35" fill="#a6a6da" fill-opacity="0.75"/>
<circle cx="183.6" cy="754.7" r="1.35" fill="#a6a6da" fill-opacity="0.75"/>
<circle cx="70.2" cy="757.3" r="1.35" fill="#a6a6da" fill-opacity="0.75"/>
<circle cx="98.6" cy="750.7" r="1.35" fill="#a6a6da" fill-opacity="0.75"/>
<circle cx="126.9" cy="747.7" r="1.35" fill="#a6a6da" fill-opacity="0.75"/>
<circle cx="155.2" cy="753.3" r="1.35" fill="#a6a6da" fill-opacity="0.75"/>
<circle cx="183.6" cy="751.9" r="1.35" fill="#a6a6da" fill-opacity="0.75"/>
<circle cx="70.2" cy="756.3" r="1.35" fill="#a6a6da" fill-opacity="0.75"/>
<circle cx="98.6" cy="755.4" r="1.35" fill="#a6a6da" fill-opacity="0.75"/>
<circle cx="126.9" cy="755.2" r="1.35" fill="#a6a6da" fill-opacity="0.75"/>
<circle cx="155.2" cy="753.0" r="1.35" fill="#a6a6da" fill-opacity="0.75"/>
<circle cx="183.6" cy="756.0" r="1.35" fill="#a6a6da" fill-opacity="0.75"/>
<circle cx="70.2" cy="755.5" r="1.35" fill="#a6a6da" fill-opacity="0.75"/>
<circle cx="98.6" cy="753.4" r="1.35" fill="#a6a6da" fill-opacity="0.75"/>
<circle cx="126.9" cy="759.2" r="1.35" fill="#a6a6da" fill-opacity="0.75"/>
<circle cx="155.2" cy="754.5" r="1.35" fill="#a6a6da" fill-opacity="0.75"/>
<circle cx="183.6" cy="756.7" r="1.35" fill="#a6a6da" fill-opacity="0.75"/>
<circle cx="70.2" cy="752.7" r="1.35" fill="#a6a6da" fill-opacity="0.75"/>
<circle cx="98.6" cy="754.5" r="1.35" fill="#a6a6da" fill-opacity="0.75"/>
<circle cx="126.9" cy="753.4" r="1.35" fill="#a6a6da" fill-opacity="0.75"/>
<circle cx="155.2" cy="737.6" r="1.35" fill="#a6a6da" fill-opacity="0.75"/>
<circle cx="183.6" cy="744.4" r="1.35" fill="#a6a6da" fill-opacity="0.75"/>
<circle cx="70.2" cy="753.8" r="1.35" fill="#a6a6da" fill-opacity="0.75"/>
<circle cx="98.6" cy="758.1" r="1.35" fill="#a6a6da" fill-opacity="0.75"/>
<circle cx="126.9" cy="754.3" r="1.35" fill="#a6a6da" fill-opacity="0.75"/>
<circle cx="155.2" cy="754.1" r="1.35" fill="#a6a6da" fill-opacity="0.75"/>
<circle cx="183.6" cy="732.2" r="1.35" fill="#a6a6da" fill-opacity="0.75"/>
<circle cx="70.2" cy="745.9" r="1.35" fill="#a6a6da" fill-opacity="0.75"/>
<circle cx="98.6" cy="753.9" r="1.35" fill="#a6a6da" fill-opacity="0.75"/>
<circle cx="126.9" cy="741.5" r="1.35" fill="#a6a6da" fill-opacity="0.75"/>
<circle cx="155.2" cy="743.6" r="1.35" fill="#a6a6da" fill-opacity="0.75"/>
<circle cx="183.6" cy="712.9" r="1.35" fill="#a6a6da" fill-opacity="0.75"/>
<circle cx="70.2" cy="756.1" r="1.35" fill="#a6a6da" fill-opacity="0.75"/>
<circle cx="98.6" cy="754.3" r="1.35" fill="#a6a6da" fill-opacity="0.75"/>
<circle cx="126.9" cy="752.5" r="1.35" fill="#a6a6da" fill-opacity="0.75"/>
<circle cx="155.2" cy="745.6" r="1.35" fill="#a6a6da" fill-opacity="0.75"/>
<circle cx="183.6" cy="738.3" r="1.35" fill="#a6a6da" fill-opacity="0.75"/>
<circle cx="70.2" cy="746.9" r="1.35" fill="#a6a6da" fill-opacity="0.75"/>
<circle cx="98.6" cy="746.9" r="1.35" fill="#a6a6da" fill-opacity="0.75"/>
<circle cx="126.9" cy="751.1" r="1.35" fill="#a6a6da" fill-opacity="0.75"/>
<circle cx="155.2" cy="732.6" r="1.35" fill="#a6a6da" fill-opacity="0.75"/>
<circle cx="183.6" cy="734.2" r="1.35" fill="#a6a6da" fill-opacity="0.75"/>
<circle cx="70.2" cy="756.6" r="1.35" fill="#a6a6da" fill-opacity="0.75"/>
<circle cx="98.6" cy="751.7" r="1.35" fill="#a6a6da" fill-opacity="0.75"/>
<circle cx="126.9" cy="745.9" r="1.35" fill="#a6a6da" fill-opacity="0.75"/>
<circle cx="155.2" cy="755.9" r="1.35" fill="#a6a6da" fill-opacity="0.75"/>
<circle cx="183.6" cy="726.2" r="1.35" fill="#a6a6da" fill-opacity="0.75"/>
<circle cx="70.2" cy="753.3" r="1.35" fill="#a6a6da" fill-opacity="0.75"/>
<circle cx="98.6" cy="757.5" r="1.35" fill="#a6a6da" fill-opacity="0.75"/>
<circle cx="126.9" cy="760.3" r="1.35" fill="#a6a6da" fill-opacity="0.75"/>
<circle cx="155.2" cy="741.7" r="1.35" fill="#a6a6da" fill-opacity="0.75"/>
<circle cx="183.6" cy="757.8" r="1.35" fill="#a6a6da" fill-opacity="0.75"/>
<circle cx="70.2" cy="756.8" r="1.35" fill="#a6a6da" fill-opacity="0.75"/>
<circle cx="98.6" cy="747.9" r="1.35" fill="#a6a6da" fill-opacity="0.75"/>
<circle cx="126.9" cy="750.2" r="1.35" fill="#a6a6da" fill-opacity="0.75"/>
<circle cx="155.2" cy="735.1" r="1.35" fill="#a6a6da" fill-opacity="0.75"/>
<circle cx="183.6" cy="729.5" r="1.35" fill="#a6a6da" fill-opacity="0.75"/>
<circle cx="70.2" cy="748.9" r="1.35" fill="#a6a6da" fill-opacity="0.75"/>
<circle cx="98.6" cy="753.7" r="1.35" fill="#a6a6da" fill-opacity="0.75"/>
<circle cx="126.9" cy="740.4" r="1.35" fill="#a6a6da" fill-opacity="0.75"/>
<circle cx="155.2" cy="739.8" r="1.35" fill="#a6a6da" fill-opacity="0.75"/>
<circle cx="183.6" cy="722.9" r="1.35" fill="#a6a6da" fill-opacity="0.75"/>
<circle cx="70.2" cy="749.9" r="1.35" fill="#a6a6da" fill-opacity="0.75"/>
<circle cx="98.6" cy="756.5" r="1.35" fill="#a6a6da" fill-opacity="0.75"/>
<circle cx="126.9" cy="754.8" r="1.35" fill="#a6a6da" fill-opacity="0.75"/>
<circle cx="155.2" cy="730.2" r="1.35" fill="#a6a6da" fill-opacity="0.75"/>
<circle cx="183.6" cy="750.4" r="1.35" fill="#a6a6da" fill-opacity="0.75"/>
<circle cx="70.2" cy="752.5" r="1.35" fill="#a6a6da" fill-opacity="0.75"/>
<circle cx="98.6" cy="749.8" r="1.35" fill="#a6a6da" fill-opacity="0.75"/>
<circle cx="126.9" cy="753.9" r="1.35" fill="#a6a6da" fill-opacity="0.75"/>
<circle cx="155.2" cy="727.7" r="1.35" fill="#a6a6da" fill-opacity="0.75"/>
<circle cx="183.6" cy="736.3" r="1.35" fill="#a6a6da" fill-opacity="0.75"/>
<circle cx="70.2" cy="757.1" r="1.35" fill="#a6a6da" fill-opacity="0.75"/>
<circle cx="98.6" cy="756.1" r="1.35" fill="#a6a6da" fill-opacity="0.75"/>
<circle cx="126.9" cy="746.9" r="1.35" fill="#a6a6da" fill-opacity="0.75"/>
<circle cx="155.2" cy="757.9" r="1.35" fill="#a6a6da" fill-opacity="0.75"/>
<circle cx="183.6" cy="755.6" r="1.35" fill="#a6a6da" fill-opacity="0.75"/>
<circle cx="70.2" cy="754.1" r="1.35" fill="#a6a6da" fill-opacity="0.75"/>
<circle cx="98.6" cy="758.6" r="1.35" fill="#a6a6da" fill-opacity="0.75"/>
<circle cx="126.9" cy="751.9" r="1.35" fill="#a6a6da" fill-opacity="0.75"/>
<circle cx="155.2" cy="757.2" r="1.35" fill="#a6a6da" fill-opacity="0.75"/>
<circle cx="183.6" cy="740.3" r="1.35" fill="#a6a6da" fill-opacity="0.75"/>
<circle cx="70.2" cy="754.3" r="1.35" fill="#a6a6da" fill-opacity="0.75"/>
<circle cx="98.6" cy="752.6" r="1.35" fill="#a6a6da" fill-opacity="0.75"/>
<circle cx="126.9" cy="758.1" r="1.35" fill="#a6a6da" fill-opacity="0.75"/>
<circle cx="155.2" cy="753.5" r="1.35" fill="#a6a6da" fill-opacity="0.75"/>
<circle cx="183.6" cy="749.0" r="1.35" fill="#a6a6da" fill-opacity="0.75"/>
<circle cx="70.2" cy="750.9" r="1.35" fill="#a6a6da" fill-opacity="0.75"/>
<circle cx="98.6" cy="755.2" r="1.35" fill="#a6a6da" fill-opacity="0.75"/>
<circle cx="126.9" cy="744.8" r="1.35" fill="#a6a6da" fill-opacity="0.75"/>
<circle cx="155.2" cy="749.4" r="1.35" fill="#a6a6da" fill-opacity="0.75"/>
<circle cx="183.6" cy="747.6" r="1.35" fill="#a6a6da" fill-opacity="0.75"/>
<circle cx="70.2" cy="723.5" r="1.35" fill="#a6a6da" fill-opacity="0.75"/>
<circle cx="98.6" cy="748.9" r="1.35" fill="#a6a6da" fill-opacity="0.75"/>
<circle cx="126.9" cy="731.2" r="1.35" fill="#a6a6da" fill-opacity="0.75"/>
<circle cx="155.2" cy="700.8" r="1.35" fill="#a6a6da" fill-opacity="0.75"/>
<circle cx="183.6" cy="706.8" r="1.35" fill="#a6a6da" fill-opacity="0.75"/>
<circle cx="70.2" cy="754.9" r="1.35" fill="#a6a6da" fill-opacity="0.75"/>
<circle cx="98.6" cy="757.0" r="1.35" fill="#a6a6da" fill-opacity="0.75"/>
<circle cx="126.9" cy="742.6" r="1.35" fill="#a6a6da" fill-opacity="0.75"/>
<circle cx="155.2" cy="753.8" r="1.35" fill="#a6a6da" fill-opacity="0.75"/>
<circle cx="183.6" cy="742.4" r="1.35" fill="#a6a6da" fill-opacity="0.75"/>
<line x1="70.2" y1="745.45" x2="70.2" y2="752.32" stroke="#45455a" stroke-width="1.4" />
<line x1="70.2" y1="756.2" x2="70.2" y2="757.97" stroke="#45455a" stroke-width="1.4" />
<rect x="63.0" y="752.3" width="14.5" height="3.9" fill="#fff" stroke="#7c7c98" stroke-width="0.8"/>
<line x1="62.95" y1="754.21" x2="77.45" y2="754.21" stroke="#151515" stroke-width="1.7" />
<line x1="98.55" y1="746.45" x2="98.55" y2="753.1" stroke="#45455a" stroke-width="1.4" />
<line x1="98.55" y1="756.2" x2="98.55" y2="759.97" stroke="#45455a" stroke-width="1.4" />
<rect x="91.3" y="753.1" width="14.5" height="3.1" fill="#fff" stroke="#7c7c98" stroke-width="0.8"/>
<line x1="91.3" y1="754.65" x2="105.8" y2="754.65" stroke="#151515" stroke-width="1.7" />
<line x1="126.9" y1="738.81" x2="126.9" y2="746.45" stroke="#45455a" stroke-width="1.4" />
<line x1="126.9" y1="755.43" x2="126.9" y2="762.96" stroke="#45455a" stroke-width="1.4" />
<rect x="119.7" y="746.5" width="14.5" height="9.0" fill="#fff" stroke="#7c7c98" stroke-width="0.8"/>
<line x1="119.65" y1="752.32" x2="134.15" y2="752.32" stroke="#151515" stroke-width="1.7" />
<line x1="155.25" y1="721.52" x2="155.25" y2="738.81" stroke="#45455a" stroke-width="1.4" />
<line x1="155.25" y1="754.21" x2="155.25" y2="758.86" stroke="#45455a" stroke-width="1.4" />
<rect x="148.0" y="738.8" width="14.5" height="15.4" fill="#fff" stroke="#7c7c98" stroke-width="0.8"/>
<line x1="148" y1="752.32" x2="162.5" y2="752.32" stroke="#151515" stroke-width="1.7" />
<line x1="183.6" y1="707.89" x2="183.6" y2="731.16" stroke="#45455a" stroke-width="1.4" />
<line x1="183.6" y1="755.43" x2="183.6" y2="757.97" stroke="#45455a" stroke-width="1.4" />
<rect x="176.4" y="731.2" width="14.5" height="24.3" fill="#fff" stroke="#7c7c98" stroke-width="0.8"/>
<line x1="176.35" y1="745.45" x2="190.85" y2="745.45" stroke="#151515" stroke-width="1.7" />
<line x1="53.6" y1="650.6" x2="53.6" y2="770.2" stroke="#1e1e1e" stroke-width="1.3" />
<line x1="53" y1="769.6" x2="200.2" y2="769.6" stroke="#1e1e1e" stroke-width="1.3" />
<line x1="70.2" y1="769.6" x2="70.2" y2="772.9" stroke="#1e1e1e" stroke-width="1.0" />
<text x="70.2" y="783.8" font-size="8.4" text-anchor="middle" fill="#2a2a2a" font-weight="normal" >t0</text>
<line x1="98.55" y1="769.6" x2="98.55" y2="772.9" stroke="#1e1e1e" stroke-width="1.0" />
<text x="98.55" y="783.8" font-size="8.4" text-anchor="middle" fill="#2a2a2a" font-weight="normal" >t3</text>
<line x1="126.9" y1="769.6" x2="126.9" y2="772.9" stroke="#1e1e1e" stroke-width="1.0" />
<text x="126.9" y="783.8" font-size="8.4" text-anchor="middle" fill="#2a2a2a" font-weight="normal" >t6</text>
<line x1="155.25" y1="769.6" x2="155.25" y2="772.9" stroke="#1e1e1e" stroke-width="1.0" />
<text x="155.25" y="783.8" font-size="8.4" text-anchor="middle" fill="#2a2a2a" font-weight="normal" >t9</text>
<line x1="183.6" y1="769.6" x2="183.6" y2="772.9" stroke="#1e1e1e" stroke-width="1.0" />
<text x="183.6" y="783.8" font-size="8.4" text-anchor="middle" fill="#2a2a2a" font-weight="normal" >t12</text>
<polyline points="220.7,749.1 249.0,744.6 277.4,733.1 305.8,751.4 334.1,748.1" fill="none" stroke="#b8b8e4" stroke-width="0.6" stroke-opacity="0.72"/>
<polyline points="220.7,740.9 249.0,745.3 277.4,739.2 305.8,741.0 334.1,741.4" fill="none" stroke="#b8b8e4" stroke-width="0.6" stroke-opacity="0.72"/>
<polyline points="220.7,743.7 249.0,747.7 277.4,749.7 305.8,743.2 334.1,750.2" fill="none" stroke="#b8b8e4" stroke-width="0.6" stroke-opacity="0.72"/>
<polyline points="220.7,733.6 249.0,743.0 277.4,749.0 305.8,744.9 334.1,745.1" fill="none" stroke="#b8b8e4" stroke-width="0.6" stroke-opacity="0.72"/>
<polyline points="220.7,729.7 249.0,736.5 277.4,707.5 305.8,698.7 334.1,692.0" fill="none" stroke="#b8b8e4" stroke-width="0.6" stroke-opacity="0.72"/>
<polyline points="220.7,734.3 249.0,746.1 277.4,716.9 305.8,709.8 334.1,673.1" fill="none" stroke="#b8b8e4" stroke-width="0.6" stroke-opacity="0.72"/>
<polyline points="220.7,748.2 249.0,743.8 277.4,723.1 305.8,747.5 334.1,746.1" fill="none" stroke="#b8b8e4" stroke-width="0.6" stroke-opacity="0.72"/>
<polyline points="220.7,731.2 249.0,698.4 277.4,709.0 305.8,675.8 334.1,686.8" fill="none" stroke="#b8b8e4" stroke-width="0.6" stroke-opacity="0.72"/>
<polyline points="220.7,735.0 249.0,742.1 277.4,740.4 305.8,717.3 334.1,729.2" fill="none" stroke="#b8b8e4" stroke-width="0.6" stroke-opacity="0.72"/>
<polyline points="220.7,697.5 249.0,736.7 277.4,663.6 305.8,659.1 334.1,658.3" fill="none" stroke="#b8b8e4" stroke-width="0.6" stroke-opacity="0.72"/>
<polyline points="220.7,729.3 249.0,733.7 277.4,745.2 305.8,739.6 334.1,718.2" fill="none" stroke="#b8b8e4" stroke-width="0.6" stroke-opacity="0.72"/>
<polyline points="220.7,751.0 249.0,759.1 277.4,741.7 305.8,741.7 334.1,749.1" fill="none" stroke="#b8b8e4" stroke-width="0.6" stroke-opacity="0.72"/>
<polyline points="220.7,736.7 249.0,735.6 277.4,742.9 305.8,728.7 334.1,732.0" fill="none" stroke="#b8b8e4" stroke-width="0.6" stroke-opacity="0.72"/>
<polyline points="220.7,731.5 249.0,741.2 277.4,744.2 305.8,721.0 334.1,734.1" fill="none" stroke="#b8b8e4" stroke-width="0.6" stroke-opacity="0.72"/>
<polyline points="220.7,738.1 249.0,752.3 277.4,726.3 305.8,733.4 334.1,679.4" fill="none" stroke="#b8b8e4" stroke-width="0.6" stroke-opacity="0.72"/>
<polyline points="220.7,732.2 249.0,754.0 277.4,748.2 305.8,724.0 334.1,744.1" fill="none" stroke="#b8b8e4" stroke-width="0.6" stroke-opacity="0.72"/>
<polyline points="220.7,746.3 249.0,737.4 277.4,710.6 305.8,740.3 334.1,685.7" fill="none" stroke="#b8b8e4" stroke-width="0.6" stroke-opacity="0.72"/>
<polyline points="220.7,747.2 249.0,746.9 277.4,736.7 305.8,731.0 334.1,726.5" fill="none" stroke="#b8b8e4" stroke-width="0.6" stroke-opacity="0.72"/>
<polyline points="220.7,732.9 249.0,738.4 277.4,734.3 305.8,735.7 334.1,721.0" fill="none" stroke="#b8b8e4" stroke-width="0.6" stroke-opacity="0.72"/>
<polyline points="220.7,731.0 249.0,749.0 277.4,735.4 305.8,743.9 334.1,738.5" fill="none" stroke="#b8b8e4" stroke-width="0.6" stroke-opacity="0.72"/>
<polyline points="220.7,742.3 249.0,739.3 277.4,747.4 305.8,748.8 334.1,742.8" fill="none" stroke="#b8b8e4" stroke-width="0.6" stroke-opacity="0.72"/>
<polyline points="220.7,750.1 249.0,750.7 277.4,729.6 305.8,750.1 334.1,735.6" fill="none" stroke="#b8b8e4" stroke-width="0.6" stroke-opacity="0.72"/>
<polyline points="220.7,742.2 249.0,713.8 277.4,720.1 305.8,688.6 334.1,697.9" fill="none" stroke="#b8b8e4" stroke-width="0.6" stroke-opacity="0.72"/>
<polyline points="220.7,735.7 249.0,731.8 277.4,713.7 305.8,713.6 334.1,723.7" fill="none" stroke="#b8b8e4" stroke-width="0.6" stroke-opacity="0.72"/>
<polyline points="220.7,745.1 249.0,755.7 277.4,746.7 305.8,746.2 334.1,747.1" fill="none" stroke="#b8b8e4" stroke-width="0.6" stroke-opacity="0.72"/>
<polyline points="220.7,739.5 249.0,734.6 277.4,728.4 305.8,742.5 334.1,739.9" fill="none" stroke="#b8b8e4" stroke-width="0.6" stroke-opacity="0.72"/>
<polyline points="220.7,752.0 249.0,757.4 277.4,745.9 305.8,752.7 334.1,737.0" fill="none" stroke="#b8b8e4" stroke-width="0.6" stroke-opacity="0.72"/>
<polyline points="220.7,730.7 249.0,740.2 277.4,731.9 305.8,726.4 334.1,715.5" fill="none" stroke="#b8b8e4" stroke-width="0.6" stroke-opacity="0.72"/>
<circle cx="220.7" cy="749.1" r="1.35" fill="#a6a6da" fill-opacity="0.75"/>
<circle cx="249.0" cy="744.6" r="1.35" fill="#a6a6da" fill-opacity="0.75"/>
<circle cx="277.4" cy="733.1" r="1.35" fill="#a6a6da" fill-opacity="0.75"/>
<circle cx="305.8" cy="751.4" r="1.35" fill="#a6a6da" fill-opacity="0.75"/>
<circle cx="334.1" cy="748.1" r="1.35" fill="#a6a6da" fill-opacity="0.75"/>
<circle cx="220.7" cy="740.9" r="1.35" fill="#a6a6da" fill-opacity="0.75"/>
<circle cx="249.0" cy="745.3" r="1.35" fill="#a6a6da" fill-opacity="0.75"/>
<circle cx="277.4" cy="739.2" r="1.35" fill="#a6a6da" fill-opacity="0.75"/>
<circle cx="305.8" cy="741.0" r="1.35" fill="#a6a6da" fill-opacity="0.75"/>
<circle cx="334.1" cy="741.4" r="1.35" fill="#a6a6da" fill-opacity="0.75"/>
<circle cx="220.7" cy="743.7" r="1.35" fill="#a6a6da" fill-opacity="0.75"/>
<circle cx="249.0" cy="747.7" r="1.35" fill="#a6a6da" fill-opacity="0.75"/>
<circle cx="277.4" cy="749.7" r="1.35" fill="#a6a6da" fill-opacity="0.75"/>
<circle cx="305.8" cy="743.2" r="1.35" fill="#a6a6da" fill-opacity="0.75"/>
<circle cx="334.1" cy="750.2" r="1.35" fill="#a6a6da" fill-opacity="0.75"/>
<circle cx="220.7" cy="733.6" r="1.35" fill="#a6a6da" fill-opacity="0.75"/>
<circle cx="249.0" cy="743.0" r="1.35" fill="#a6a6da" fill-opacity="0.75"/>
<circle cx="277.4" cy="749.0" r="1.35" fill="#a6a6da" fill-opacity="0.75"/>
<circle cx="305.8" cy="744.9" r="1.35" fill="#a6a6da" fill-opacity="0.75"/>
<circle cx="334.1" cy="745.1" r="1.35" fill="#a6a6da" fill-opacity="0.75"/>
<circle cx="220.7" cy="729.7" r="1.35" fill="#a6a6da" fill-opacity="0.75"/>
<circle cx="249.0" cy="736.5" r="1.35" fill="#a6a6da" fill-opacity="0.75"/>
<circle cx="277.4" cy="707.5" r="1.35" fill="#a6a6da" fill-opacity="0.75"/>
<circle cx="305.8" cy="698.7" r="1.35" fill="#a6a6da" fill-opacity="0.75"/>
<circle cx="334.1" cy="692.0" r="1.35" fill="#a6a6da" fill-opacity="0.75"/>
<circle cx="220.7" cy="734.3" r="1.35" fill="#a6a6da" fill-opacity="0.75"/>
<circle cx="249.0" cy="746.1" r="1.35" fill="#a6a6da" fill-opacity="0.75"/>
<circle cx="277.4" cy="716.9" r="1.35" fill="#a6a6da" fill-opacity="0.75"/>
<circle cx="305.8" cy="709.8" r="1.35" fill="#a6a6da" fill-opacity="0.75"/>
<circle cx="334.1" cy="673.1" r="1.35" fill="#a6a6da" fill-opacity="0.75"/>
<circle cx="220.7" cy="748.2" r="1.35" fill="#a6a6da" fill-opacity="0.75"/>
<circle cx="249.0" cy="743.8" r="1.35" fill="#a6a6da" fill-opacity="0.75"/>
<circle cx="277.4" cy="723.1" r="1.35" fill="#a6a6da" fill-opacity="0.75"/>
<circle cx="305.8" cy="747.5" r="1.35" fill="#a6a6da" fill-opacity="0.75"/>
<circle cx="334.1" cy="746.1" r="1.35" fill="#a6a6da" fill-opacity="0.75"/>
<circle cx="220.7" cy="731.2" r="1.35" fill="#a6a6da" fill-opacity="0.75"/>
<circle cx="249.0" cy="698.4" r="1.35" fill="#a6a6da" fill-opacity="0.75"/>
<circle cx="277.4" cy="709.0" r="1.35" fill="#a6a6da" fill-opacity="0.75"/>
<circle cx="305.8" cy="675.8" r="1.35" fill="#a6a6da" fill-opacity="0.75"/>
<circle cx="334.1" cy="686.8" r="1.35" fill="#a6a6da" fill-opacity="0.75"/>
<circle cx="220.7" cy="735.0" r="1.35" fill="#a6a6da" fill-opacity="0.75"/>
<circle cx="249.0" cy="742.1" r="1.35" fill="#a6a6da" fill-opacity="0.75"/>
<circle cx="277.4" cy="740.4" r="1.35" fill="#a6a6da" fill-opacity="0.75"/>
<circle cx="305.8" cy="717.3" r="1.35" fill="#a6a6da" fill-opacity="0.75"/>
<circle cx="334.1" cy="729.2" r="1.35" fill="#a6a6da" fill-opacity="0.75"/>
<circle cx="220.7" cy="697.5" r="1.35" fill="#a6a6da" fill-opacity="0.75"/>
<circle cx="249.0" cy="736.7" r="1.35" fill="#a6a6da" fill-opacity="0.75"/>
<circle cx="277.4" cy="663.6" r="1.35" fill="#a6a6da" fill-opacity="0.75"/>
<circle cx="305.8" cy="659.1" r="1.35" fill="#a6a6da" fill-opacity="0.75"/>
<circle cx="334.1" cy="658.3" r="1.35" fill="#a6a6da" fill-opacity="0.75"/>
<circle cx="220.7" cy="729.3" r="1.35" fill="#a6a6da" fill-opacity="0.75"/>
<circle cx="249.0" cy="733.7" r="1.35" fill="#a6a6da" fill-opacity="0.75"/>
<circle cx="277.4" cy="745.2" r="1.35" fill="#a6a6da" fill-opacity="0.75"/>
<circle cx="305.8" cy="739.6" r="1.35" fill="#a6a6da" fill-opacity="0.75"/>
<circle cx="334.1" cy="718.2" r="1.35" fill="#a6a6da" fill-opacity="0.75"/>
<circle cx="220.7" cy="751.0" r="1.35" fill="#a6a6da" fill-opacity="0.75"/>
<circle cx="249.0" cy="759.1" r="1.35" fill="#a6a6da" fill-opacity="0.75"/>
<circle cx="277.4" cy="741.7" r="1.35" fill="#a6a6da" fill-opacity="0.75"/>
<circle cx="305.8" cy="741.7" r="1.35" fill="#a6a6da" fill-opacity="0.75"/>
<circle cx="334.1" cy="749.1" r="1.35" fill="#a6a6da" fill-opacity="0.75"/>
<circle cx="220.7" cy="736.7" r="1.35" fill="#a6a6da" fill-opacity="0.75"/>
<circle cx="249.0" cy="735.6" r="1.35" fill="#a6a6da" fill-opacity="0.75"/>
<circle cx="277.4" cy="742.9" r="1.35" fill="#a6a6da" fill-opacity="0.75"/>
<circle cx="305.8" cy="728.7" r="1.35" fill="#a6a6da" fill-opacity="0.75"/>
<circle cx="334.1" cy="732.0" r="1.35" fill="#a6a6da" fill-opacity="0.75"/>
<circle cx="220.7" cy="731.5" r="1.35" fill="#a6a6da" fill-opacity="0.75"/>
<circle cx="249.0" cy="741.2" r="1.35" fill="#a6a6da" fill-opacity="0.75"/>
<circle cx="277.4" cy="744.2" r="1.35" fill="#a6a6da" fill-opacity="0.75"/>
<circle cx="305.8" cy="721.0" r="1.35" fill="#a6a6da" fill-opacity="0.75"/>
<circle cx="334.1" cy="734.1" r="1.35" fill="#a6a6da" fill-opacity="0.75"/>
<circle cx="220.7" cy="738.1" r="1.35" fill="#a6a6da" fill-opacity="0.75"/>
<circle cx="249.0" cy="752.3" r="1.35" fill="#a6a6da" fill-opacity="0.75"/>
<circle cx="277.4" cy="726.3" r="1.35" fill="#a6a6da" fill-opacity="0.75"/>
<circle cx="305.8" cy="733.4" r="1.35" fill="#a6a6da" fill-opacity="0.75"/>
<circle cx="334.1" cy="679.4" r="1.35" fill="#a6a6da" fill-opacity="0.75"/>
<circle cx="220.7" cy="732.2" r="1.35" fill="#a6a6da" fill-opacity="0.75"/>
<circle cx="249.0" cy="754.0" r="1.35" fill="#a6a6da" fill-opacity="0.75"/>
<circle cx="277.4" cy="748.2" r="1.35" fill="#a6a6da" fill-opacity="0.75"/>
<circle cx="305.8" cy="724.0" r="1.35" fill="#a6a6da" fill-opacity="0.75"/>
<circle cx="334.1" cy="744.1" r="1.35" fill="#a6a6da" fill-opacity="0.75"/>
<circle cx="220.7" cy="746.3" r="1.35" fill="#a6a6da" fill-opacity="0.75"/>
<circle cx="249.0" cy="737.4" r="1.35" fill="#a6a6da" fill-opacity="0.75"/>
<circle cx="277.4" cy="710.6" r="1.35" fill="#a6a6da" fill-opacity="0.75"/>
<circle cx="305.8" cy="740.3" r="1.35" fill="#a6a6da" fill-opacity="0.75"/>
<circle cx="334.1" cy="685.7" r="1.35" fill="#a6a6da" fill-opacity="0.75"/>
<circle cx="220.7" cy="747.2" r="1.35" fill="#a6a6da" fill-opacity="0.75"/>
<circle cx="249.0" cy="746.9" r="1.35" fill="#a6a6da" fill-opacity="0.75"/>
<circle cx="277.4" cy="736.7" r="1.35" fill="#a6a6da" fill-opacity="0.75"/>
<circle cx="305.8" cy="731.0" r="1.35" fill="#a6a6da" fill-opacity="0.75"/>
<circle cx="334.1" cy="726.5" r="1.35" fill="#a6a6da" fill-opacity="0.75"/>
<circle cx="220.7" cy="732.9" r="1.35" fill="#a6a6da" fill-opacity="0.75"/>
<circle cx="249.0" cy="738.4" r="1.35" fill="#a6a6da" fill-opacity="0.75"/>
<circle cx="277.4" cy="734.3" r="1.35" fill="#a6a6da" fill-opacity="0.75"/>
<circle cx="305.8" cy="735.7" r="1.35" fill="#a6a6da" fill-opacity="0.75"/>
<circle cx="334.1" cy="721.0" r="1.35" fill="#a6a6da" fill-opacity="0.75"/>
<circle cx="220.7" cy="731.0" r="1.35" fill="#a6a6da" fill-opacity="0.75"/>
<circle cx="249.0" cy="749.0" r="1.35" fill="#a6a6da" fill-opacity="0.75"/>
<circle cx="277.4" cy="735.4" r="1.35" fill="#a6a6da" fill-opacity="0.75"/>
<circle cx="305.8" cy="743.9" r="1.35" fill="#a6a6da" fill-opacity="0.75"/>
<circle cx="334.1" cy="738.5" r="1.35" fill="#a6a6da" fill-opacity="0.75"/>
<circle cx="220.7" cy="742.3" r="1.35" fill="#a6a6da" fill-opacity="0.75"/>
<circle cx="249.0" cy="739.3" r="1.35" fill="#a6a6da" fill-opacity="0.75"/>
<circle cx="277.4" cy="747.4" r="1.35" fill="#a6a6da" fill-opacity="0.75"/>
<circle cx="305.8" cy="748.8" r="1.35" fill="#a6a6da" fill-opacity="0.75"/>
<circle cx="334.1" cy="742.8" r="1.35" fill="#a6a6da" fill-opacity="0.75"/>
<circle cx="220.7" cy="750.1" r="1.35" fill="#a6a6da" fill-opacity="0.75"/>
<circle cx="249.0" cy="750.7" r="1.35" fill="#a6a6da" fill-opacity="0.75"/>
<circle cx="277.4" cy="729.6" r="1.35" fill="#a6a6da" fill-opacity="0.75"/>
<circle cx="305.8" cy="750.1" r="1.35" fill="#a6a6da" fill-opacity="0.75"/>
<circle cx="334.1" cy="735.6" r="1.35" fill="#a6a6da" fill-opacity="0.75"/>
<circle cx="220.7" cy="742.2" r="1.35" fill="#a6a6da" fill-opacity="0.75"/>
<circle cx="249.0" cy="713.8" r="1.35" fill="#a6a6da" fill-opacity="0.75"/>
<circle cx="277.4" cy="720.1" r="1.35" fill="#a6a6da" fill-opacity="0.75"/>
<circle cx="305.8" cy="688.6" r="1.35" fill="#a6a6da" fill-opacity="0.75"/>
<circle cx="334.1" cy="697.9" r="1.35" fill="#a6a6da" fill-opacity="0.75"/>
<circle cx="220.7" cy="735.7" r="1.35" fill="#a6a6da" fill-opacity="0.75"/>
<circle cx="249.0" cy="731.8" r="1.35" fill="#a6a6da" fill-opacity="0.75"/>
<circle cx="277.4" cy="713.7" r="1.35" fill="#a6a6da" fill-opacity="0.75"/>
<circle cx="305.8" cy="713.6" r="1.35" fill="#a6a6da" fill-opacity="0.75"/>
<circle cx="334.1" cy="723.7" r="1.35" fill="#a6a6da" fill-opacity="0.75"/>
<circle cx="220.7" cy="745.1" r="1.35" fill="#a6a6da" fill-opacity="0.75"/>
<circle cx="249.0" cy="755.7" r="1.35" fill="#a6a6da" fill-opacity="0.75"/>
<circle cx="277.4" cy="746.7" r="1.35" fill="#a6a6da" fill-opacity="0.75"/>
<circle cx="305.8" cy="746.2" r="1.35" fill="#a6a6da" fill-opacity="0.75"/>
<circle cx="334.1" cy="747.1" r="1.35" fill="#a6a6da" fill-opacity="0.75"/>
<circle cx="220.7" cy="739.5" r="1.35" fill="#a6a6da" fill-opacity="0.75"/>
<circle cx="249.0" cy="734.6" r="1.35" fill="#a6a6da" fill-opacity="0.75"/>
<circle cx="277.4" cy="728.4" r="1.35" fill="#a6a6da" fill-opacity="0.75"/>
<circle cx="305.8" cy="742.5" r="1.35" fill="#a6a6da" fill-opacity="0.75"/>
<circle cx="334.1" cy="739.9" r="1.35" fill="#a6a6da" fill-opacity="0.75"/>
<circle cx="220.7" cy="752.0" r="1.35" fill="#a6a6da" fill-opacity="0.75"/>
<circle cx="249.0" cy="757.4" r="1.35" fill="#a6a6da" fill-opacity="0.75"/>
<circle cx="277.4" cy="745.9" r="1.35" fill="#a6a6da" fill-opacity="0.75"/>
<circle cx="305.8" cy="752.7" r="1.35" fill="#a6a6da" fill-opacity="0.75"/>
<circle cx="334.1" cy="737.0" r="1.35" fill="#a6a6da" fill-opacity="0.75"/>
<circle cx="220.7" cy="730.7" r="1.35" fill="#a6a6da" fill-opacity="0.75"/>
<circle cx="249.0" cy="740.2" r="1.35" fill="#a6a6da" fill-opacity="0.75"/>
<circle cx="277.4" cy="731.9" r="1.35" fill="#a6a6da" fill-opacity="0.75"/>
<circle cx="305.8" cy="726.4" r="1.35" fill="#a6a6da" fill-opacity="0.75"/>
<circle cx="334.1" cy="715.5" r="1.35" fill="#a6a6da" fill-opacity="0.75"/>
<line x1="220.7" y1="728.83" x2="220.7" y2="731.16" stroke="#45455a" stroke-width="1.4" />
<line x1="220.7" y1="745.79" x2="220.7" y2="752.43" stroke="#45455a" stroke-width="1.4" />
<rect x="213.4" y="731.2" width="14.5" height="14.6" fill="#fff" stroke="#7c7c98" stroke-width="0.8"/>
<line x1="213.45" y1="736.04" x2="227.95" y2="736.04" stroke="#151515" stroke-width="1.7" />
<line x1="249.05" y1="729.5" x2="249.05" y2="736.04" stroke="#45455a" stroke-width="1.4" />
<line x1="249.05" y1="748.11" x2="249.05" y2="759.97" stroke="#45455a" stroke-width="1.4" />
<rect x="241.8" y="736.0" width="14.5" height="12.1" fill="#fff" stroke="#7c7c98" stroke-width="0.8"/>
<line x1="241.8" y1="742.57" x2="256.3" y2="742.57" stroke="#151515" stroke-width="1.7" />
<line x1="277.4" y1="705.9" x2="277.4" y2="727.84" stroke="#45455a" stroke-width="1.4" />
<line x1="277.4" y1="744.79" x2="277.4" y2="750.11" stroke="#45455a" stroke-width="1.4" />
<rect x="270.1" y="727.8" width="14.5" height="17.0" fill="#fff" stroke="#7c7c98" stroke-width="0.8"/>
<line x1="270.15" y1="736.04" x2="284.65" y2="736.04" stroke="#151515" stroke-width="1.7" />
<line x1="305.75" y1="696.81" x2="305.75" y2="722.85" stroke="#45455a" stroke-width="1.4" />
<line x1="305.75" y1="744.23" x2="305.75" y2="753.32" stroke="#45455a" stroke-width="1.4" />
<rect x="298.5" y="722.9" width="14.5" height="21.4" fill="#fff" stroke="#7c7c98" stroke-width="0.8"/>
<line x1="298.5" y1="739.25" x2="313" y2="739.25" stroke="#151515" stroke-width="1.7" />
<line x1="334.1" y1="670" x2="334.1" y2="714.1" stroke="#45455a" stroke-width="1.4" />
<line x1="334.1" y1="743.57" x2="334.1" y2="750.66" stroke="#45455a" stroke-width="1.4" />
<rect x="326.9" y="714.1" width="14.5" height="29.5" fill="#fff" stroke="#7c7c98" stroke-width="0.8"/>
<line x1="326.85" y1="733.38" x2="341.35" y2="733.38" stroke="#151515" stroke-width="1.7" />
<line x1="204" y1="650.6" x2="204" y2="770.2" stroke="#1e1e1e" stroke-width="1.3" />
<line x1="203.4" y1="769.6" x2="350.7" y2="769.6" stroke="#1e1e1e" stroke-width="1.3" />
<line x1="220.7" y1="769.6" x2="220.7" y2="772.9" stroke="#1e1e1e" stroke-width="1.0" />
<text x="220.7" y="783.8" font-size="8.4" text-anchor="middle" fill="#2a2a2a" font-weight="normal" >t0</text>
<line x1="249.05" y1="769.6" x2="249.05" y2="772.9" stroke="#1e1e1e" stroke-width="1.0" />
<text x="249.05" y="783.8" font-size="8.4" text-anchor="middle" fill="#2a2a2a" font-weight="normal" >t3</text>
<line x1="277.4" y1="769.6" x2="277.4" y2="772.9" stroke="#1e1e1e" stroke-width="1.0" />
<text x="277.4" y="783.8" font-size="8.4" text-anchor="middle" fill="#2a2a2a" font-weight="normal" >t6</text>
<line x1="305.75" y1="769.6" x2="305.75" y2="772.9" stroke="#1e1e1e" stroke-width="1.0" />
<text x="305.75" y="783.8" font-size="8.4" text-anchor="middle" fill="#2a2a2a" font-weight="normal" >t9</text>
<line x1="334.1" y1="769.6" x2="334.1" y2="772.9" stroke="#1e1e1e" stroke-width="1.0" />
<text x="334.1" y="783.8" font-size="8.4" text-anchor="middle" fill="#2a2a2a" font-weight="normal" >t12</text>
<polyline points="371.1,729.9 399.5,744.1 427.8,718.1 456.2,744.2 484.5,711.8" fill="none" stroke="#b8b8e4" stroke-width="0.6" stroke-opacity="0.72"/>
<polyline points="371.1,732.2 399.5,749.7 427.8,756.7 456.2,733.8 484.5,715.8" fill="none" stroke="#b8b8e4" stroke-width="0.6" stroke-opacity="0.72"/>
<polyline points="371.1,736.7 399.5,756.5 427.8,759.8 456.2,760.7 484.5,746.9" fill="none" stroke="#b8b8e4" stroke-width="0.6" stroke-opacity="0.72"/>
<polyline points="371.1,755.1 399.5,748.6 427.8,749.1 456.2,751.4 484.5,747.9" fill="none" stroke="#b8b8e4" stroke-width="0.6" stroke-opacity="0.72"/>
<polyline points="371.1,750.1 399.5,745.2 427.8,747.6 456.2,719.2 484.5,723.6" fill="none" stroke="#b8b8e4" stroke-width="0.6" stroke-opacity="0.72"/>
<polyline points="371.1,747.8 399.5,742.2 427.8,663.8 456.2,659.4 484.5,658.0" fill="none" stroke="#b8b8e4" stroke-width="0.6" stroke-opacity="0.72"/>
<polyline points="371.1,735.6 399.5,742.5 427.8,760.7 456.2,745.4 484.5,755.9" fill="none" stroke="#b8b8e4" stroke-width="0.6" stroke-opacity="0.72"/>
<polyline points="371.1,748.8 399.5,732.0 427.8,711.1 456.2,717.1 484.5,736.2" fill="none" stroke="#b8b8e4" stroke-width="0.6" stroke-opacity="0.72"/>
<polyline points="371.1,756.8 399.5,760.5 427.8,738.6 456.2,750.2 484.5,763.3" fill="none" stroke="#b8b8e4" stroke-width="0.6" stroke-opacity="0.72"/>
<polyline points="371.1,750.7 399.5,736.2 427.8,736.3 456.2,739.1 484.5,745.4" fill="none" stroke="#b8b8e4" stroke-width="0.6" stroke-opacity="0.72"/>
<polyline points="371.1,748.2 399.5,762.7 427.8,763.6 456.2,752.8 484.5,757.4" fill="none" stroke="#b8b8e4" stroke-width="0.6" stroke-opacity="0.72"/>
<polyline points="371.1,751.4 399.5,738.3 427.8,755.2 456.2,730.1 484.5,738.1" fill="none" stroke="#b8b8e4" stroke-width="0.6" stroke-opacity="0.72"/>
<polyline points="371.1,731.1 399.5,755.6 427.8,725.1 456.2,735.6 484.5,751.0" fill="none" stroke="#b8b8e4" stroke-width="0.6" stroke-opacity="0.72"/>
<polyline points="371.1,739.5 399.5,734.1 427.8,707.6 456.2,732.0 484.5,707.9" fill="none" stroke="#b8b8e4" stroke-width="0.6" stroke-opacity="0.72"/>
<polyline points="371.1,738.0 399.5,747.4 427.8,750.7 456.2,746.6 484.5,739.9" fill="none" stroke="#b8b8e4" stroke-width="0.6" stroke-opacity="0.72"/>
<polyline points="371.1,731.2 399.5,698.5 427.8,720.1 456.2,731.2 484.5,697.4" fill="none" stroke="#b8b8e4" stroke-width="0.6" stroke-opacity="0.72"/>
<polyline points="371.1,753.5 399.5,757.5 427.8,761.7 456.2,757.5 484.5,758.9" fill="none" stroke="#b8b8e4" stroke-width="0.6" stroke-opacity="0.72"/>
<polyline points="371.1,745.6 399.5,754.6 427.8,757.9 456.2,749.0 484.5,749.0" fill="none" stroke="#b8b8e4" stroke-width="0.6" stroke-opacity="0.72"/>
<polyline points="371.1,733.3 399.5,740.4 427.8,728.6 456.2,742.7 484.5,743.6" fill="none" stroke="#b8b8e4" stroke-width="0.6" stroke-opacity="0.72"/>
<polyline points="371.1,749.5 399.5,753.7 427.8,731.6 456.2,725.7 484.5,731.5" fill="none" stroke="#b8b8e4" stroke-width="0.6" stroke-opacity="0.72"/>
<polyline points="371.1,744.1 399.5,752.8 427.8,714.6 456.2,737.4 484.5,753.1" fill="none" stroke="#b8b8e4" stroke-width="0.6" stroke-opacity="0.72"/>
<polyline points="371.1,757.6 399.5,758.3 427.8,762.6 456.2,762.3 484.5,761.8" fill="none" stroke="#b8b8e4" stroke-width="0.6" stroke-opacity="0.72"/>
<polyline points="371.1,754.3 399.5,761.3 427.8,745.7 456.2,747.8 484.5,760.3" fill="none" stroke="#b8b8e4" stroke-width="0.6" stroke-opacity="0.72"/>
<polyline points="371.1,752.0 399.5,762.0 427.8,752.2 456.2,759.1 484.5,741.7" fill="none" stroke="#b8b8e4" stroke-width="0.6" stroke-opacity="0.72"/>
<polyline points="371.1,747.1 399.5,759.8 427.8,733.9 456.2,727.9 484.5,752.1" fill="none" stroke="#b8b8e4" stroke-width="0.6" stroke-opacity="0.72"/>
<polyline points="371.1,736.7 399.5,714.3 427.8,725.6 456.2,742.2 484.5,731.2" fill="none" stroke="#b8b8e4" stroke-width="0.6" stroke-opacity="0.72"/>
<polyline points="371.1,752.7 399.5,751.8 427.8,753.7 456.2,754.4 484.5,750.0" fill="none" stroke="#b8b8e4" stroke-width="0.6" stroke-opacity="0.72"/>
<polyline points="371.1,756.0 399.5,759.1 427.8,758.8 456.2,755.9 484.5,754.4" fill="none" stroke="#b8b8e4" stroke-width="0.6" stroke-opacity="0.72"/>
<circle cx="371.1" cy="729.9" r="1.35" fill="#a6a6da" fill-opacity="0.75"/>
<circle cx="399.5" cy="744.1" r="1.35" fill="#a6a6da" fill-opacity="0.75"/>
<circle cx="427.8" cy="718.1" r="1.35" fill="#a6a6da" fill-opacity="0.75"/>
<circle cx="456.2" cy="744.2" r="1.35" fill="#a6a6da" fill-opacity="0.75"/>
<circle cx="484.5" cy="711.8" r="1.35" fill="#a6a6da" fill-opacity="0.75"/>
<circle cx="371.1" cy="732.2" r="1.35" fill="#a6a6da" fill-opacity="0.75"/>
<circle cx="399.5" cy="749.7" r="1.35" fill="#a6a6da" fill-opacity="0.75"/>
<circle cx="427.8" cy="756.7" r="1.35" fill="#a6a6da" fill-opacity="0.75"/>
<circle cx="456.2" cy="733.8" r="1.35" fill="#a6a6da" fill-opacity="0.75"/>
<circle cx="484.5" cy="715.8" r="1.35" fill="#a6a6da" fill-opacity="0.75"/>
<circle cx="371.1" cy="736.7" r="1.35" fill="#a6a6da" fill-opacity="0.75"/>
<circle cx="399.5" cy="756.5" r="1.35" fill="#a6a6da" fill-opacity="0.75"/>
<circle cx="427.8" cy="759.8" r="1.35" fill="#a6a6da" fill-opacity="0.75"/>
<circle cx="456.2" cy="760.7" r="1.35" fill="#a6a6da" fill-opacity="0.75"/>
<circle cx="484.5" cy="746.9" r="1.35" fill="#a6a6da" fill-opacity="0.75"/>
<circle cx="371.1" cy="755.1" r="1.35" fill="#a6a6da" fill-opacity="0.75"/>
<circle cx="399.5" cy="748.6" r="1.35" fill="#a6a6da" fill-opacity="0.75"/>
<circle cx="427.8" cy="749.1" r="1.35" fill="#a6a6da" fill-opacity="0.75"/>
<circle cx="456.2" cy="751.4" r="1.35" fill="#a6a6da" fill-opacity="0.75"/>
<circle cx="484.5" cy="747.9" r="1.35" fill="#a6a6da" fill-opacity="0.75"/>
<circle cx="371.1" cy="750.1" r="1.35" fill="#a6a6da" fill-opacity="0.75"/>
<circle cx="399.5" cy="745.2" r="1.35" fill="#a6a6da" fill-opacity="0.75"/>
<circle cx="427.8" cy="747.6" r="1.35" fill="#a6a6da" fill-opacity="0.75"/>
<circle cx="456.2" cy="719.2" r="1.35" fill="#a6a6da" fill-opacity="0.75"/>
<circle cx="484.5" cy="723.6" r="1.35" fill="#a6a6da" fill-opacity="0.75"/>
<circle cx="371.1" cy="747.8" r="1.35" fill="#a6a6da" fill-opacity="0.75"/>
<circle cx="399.5" cy="742.2" r="1.35" fill="#a6a6da" fill-opacity="0.75"/>
<circle cx="427.8" cy="663.8" r="1.35" fill="#a6a6da" fill-opacity="0.75"/>
<circle cx="456.2" cy="659.4" r="1.35" fill="#a6a6da" fill-opacity="0.75"/>
<circle cx="484.5" cy="658.0" r="1.35" fill="#a6a6da" fill-opacity="0.75"/>
<circle cx="371.1" cy="735.6" r="1.35" fill="#a6a6da" fill-opacity="0.75"/>
<circle cx="399.5" cy="742.5" r="1.35" fill="#a6a6da" fill-opacity="0.75"/>
<circle cx="427.8" cy="760.7" r="1.35" fill="#a6a6da" fill-opacity="0.75"/>
<circle cx="456.2" cy="745.4" r="1.35" fill="#a6a6da" fill-opacity="0.75"/>
<circle cx="484.5" cy="755.9" r="1.35" fill="#a6a6da" fill-opacity="0.75"/>
<circle cx="371.1" cy="748.8" r="1.35" fill="#a6a6da" fill-opacity="0.75"/>
<circle cx="399.5" cy="732.0" r="1.35" fill="#a6a6da" fill-opacity="0.75"/>
<circle cx="427.8" cy="711.1" r="1.35" fill="#a6a6da" fill-opacity="0.75"/>
<circle cx="456.2" cy="717.1" r="1.35" fill="#a6a6da" fill-opacity="0.75"/>
<circle cx="484.5" cy="736.2" r="1.35" fill="#a6a6da" fill-opacity="0.75"/>
<circle cx="371.1" cy="756.8" r="1.35" fill="#a6a6da" fill-opacity="0.75"/>
<circle cx="399.5" cy="760.5" r="1.35" fill="#a6a6da" fill-opacity="0.75"/>
<circle cx="427.8" cy="738.6" r="1.35" fill="#a6a6da" fill-opacity="0.75"/>
<circle cx="456.2" cy="750.2" r="1.35" fill="#a6a6da" fill-opacity="0.75"/>
<circle cx="484.5" cy="763.3" r="1.35" fill="#a6a6da" fill-opacity="0.75"/>
<circle cx="371.1" cy="750.7" r="1.35" fill="#a6a6da" fill-opacity="0.75"/>
<circle cx="399.5" cy="736.2" r="1.35" fill="#a6a6da" fill-opacity="0.75"/>
<circle cx="427.8" cy="736.3" r="1.35" fill="#a6a6da" fill-opacity="0.75"/>
<circle cx="456.2" cy="739.1" r="1.35" fill="#a6a6da" fill-opacity="0.75"/>
<circle cx="484.5" cy="745.4" r="1.35" fill="#a6a6da" fill-opacity="0.75"/>
<circle cx="371.1" cy="748.2" r="1.35" fill="#a6a6da" fill-opacity="0.75"/>
<circle cx="399.5" cy="762.7" r="1.35" fill="#a6a6da" fill-opacity="0.75"/>
<circle cx="427.8" cy="763.6" r="1.35" fill="#a6a6da" fill-opacity="0.75"/>
<circle cx="456.2" cy="752.8" r="1.35" fill="#a6a6da" fill-opacity="0.75"/>
<circle cx="484.5" cy="757.4" r="1.35" fill="#a6a6da" fill-opacity="0.75"/>
<circle cx="371.1" cy="751.4" r="1.35" fill="#a6a6da" fill-opacity="0.75"/>
<circle cx="399.5" cy="738.3" r="1.35" fill="#a6a6da" fill-opacity="0.75"/>
<circle cx="427.8" cy="755.2" r="1.35" fill="#a6a6da" fill-opacity="0.75"/>
<circle cx="456.2" cy="730.1" r="1.35" fill="#a6a6da" fill-opacity="0.75"/>
<circle cx="484.5" cy="738.1" r="1.35" fill="#a6a6da" fill-opacity="0.75"/>
<circle cx="371.1" cy="731.1" r="1.35" fill="#a6a6da" fill-opacity="0.75"/>
<circle cx="399.5" cy="755.6" r="1.35" fill="#a6a6da" fill-opacity="0.75"/>
<circle cx="427.8" cy="725.1" r="1.35" fill="#a6a6da" fill-opacity="0.75"/>
<circle cx="456.2" cy="735.6" r="1.35" fill="#a6a6da" fill-opacity="0.75"/>
<circle cx="484.5" cy="751.0" r="1.35" fill="#a6a6da" fill-opacity="0.75"/>
<circle cx="371.1" cy="739.5" r="1.35" fill="#a6a6da" fill-opacity="0.75"/>
<circle cx="399.5" cy="734.1" r="1.35" fill="#a6a6da" fill-opacity="0.75"/>
<circle cx="427.8" cy="707.6" r="1.35" fill="#a6a6da" fill-opacity="0.75"/>
<circle cx="456.2" cy="732.0" r="1.35" fill="#a6a6da" fill-opacity="0.75"/>
<circle cx="484.5" cy="707.9" r="1.35" fill="#a6a6da" fill-opacity="0.75"/>
<circle cx="371.1" cy="738.0" r="1.35" fill="#a6a6da" fill-opacity="0.75"/>
<circle cx="399.5" cy="747.4" r="1.35" fill="#a6a6da" fill-opacity="0.75"/>
<circle cx="427.8" cy="750.7" r="1.35" fill="#a6a6da" fill-opacity="0.75"/>
<circle cx="456.2" cy="746.6" r="1.35" fill="#a6a6da" fill-opacity="0.75"/>
<circle cx="484.5" cy="739.9" r="1.35" fill="#a6a6da" fill-opacity="0.75"/>
<circle cx="371.1" cy="731.2" r="1.35" fill="#a6a6da" fill-opacity="0.75"/>
<circle cx="399.5" cy="698.5" r="1.35" fill="#a6a6da" fill-opacity="0.75"/>
<circle cx="427.8" cy="720.1" r="1.35" fill="#a6a6da" fill-opacity="0.75"/>
<circle cx="456.2" cy="731.2" r="1.35" fill="#a6a6da" fill-opacity="0.75"/>
<circle cx="484.5" cy="697.4" r="1.35" fill="#a6a6da" fill-opacity="0.75"/>
<circle cx="371.1" cy="753.5" r="1.35" fill="#a6a6da" fill-opacity="0.75"/>
<circle cx="399.5" cy="757.5" r="1.35" fill="#a6a6da" fill-opacity="0.75"/>
<circle cx="427.8" cy="761.7" r="1.35" fill="#a6a6da" fill-opacity="0.75"/>
<circle cx="456.2" cy="757.5" r="1.35" fill="#a6a6da" fill-opacity="0.75"/>
<circle cx="484.5" cy="758.9" r="1.35" fill="#a6a6da" fill-opacity="0.75"/>
<circle cx="371.1" cy="745.6" r="1.35" fill="#a6a6da" fill-opacity="0.75"/>
<circle cx="399.5" cy="754.6" r="1.35" fill="#a6a6da" fill-opacity="0.75"/>
<circle cx="427.8" cy="757.9" r="1.35" fill="#a6a6da" fill-opacity="0.75"/>
<circle cx="456.2" cy="749.0" r="1.35" fill="#a6a6da" fill-opacity="0.75"/>
<circle cx="484.5" cy="749.0" r="1.35" fill="#a6a6da" fill-opacity="0.75"/>
<circle cx="371.1" cy="733.3" r="1.35" fill="#a6a6da" fill-opacity="0.75"/>
<circle cx="399.5" cy="740.4" r="1.35" fill="#a6a6da" fill-opacity="0.75"/>
<circle cx="427.8" cy="728.6" r="1.35" fill="#a6a6da" fill-opacity="0.75"/>
<circle cx="456.2" cy="742.7" r="1.35" fill="#a6a6da" fill-opacity="0.75"/>
<circle cx="484.5" cy="743.6" r="1.35" fill="#a6a6da" fill-opacity="0.75"/>
<circle cx="371.1" cy="749.5" r="1.35" fill="#a6a6da" fill-opacity="0.75"/>
<circle cx="399.5" cy="753.7" r="1.35" fill="#a6a6da" fill-opacity="0.75"/>
<circle cx="427.8" cy="731.6" r="1.35" fill="#a6a6da" fill-opacity="0.75"/>
<circle cx="456.2" cy="725.7" r="1.35" fill="#a6a6da" fill-opacity="0.75"/>
<circle cx="484.5" cy="731.5" r="1.35" fill="#a6a6da" fill-opacity="0.75"/>
<circle cx="371.1" cy="744.1" r="1.35" fill="#a6a6da" fill-opacity="0.75"/>
<circle cx="399.5" cy="752.8" r="1.35" fill="#a6a6da" fill-opacity="0.75"/>
<circle cx="427.8" cy="714.6" r="1.35" fill="#a6a6da" fill-opacity="0.75"/>
<circle cx="456.2" cy="737.4" r="1.35" fill="#a6a6da" fill-opacity="0.75"/>
<circle cx="484.5" cy="753.1" r="1.35" fill="#a6a6da" fill-opacity="0.75"/>
<circle cx="371.1" cy="757.6" r="1.35" fill="#a6a6da" fill-opacity="0.75"/>
<circle cx="399.5" cy="758.3" r="1.35" fill="#a6a6da" fill-opacity="0.75"/>
<circle cx="427.8" cy="762.6" r="1.35" fill="#a6a6da" fill-opacity="0.75"/>
<circle cx="456.2" cy="762.3" r="1.35" fill="#a6a6da" fill-opacity="0.75"/>
<circle cx="484.5" cy="761.8" r="1.35" fill="#a6a6da" fill-opacity="0.75"/>
<circle cx="371.1" cy="754.3" r="1.35" fill="#a6a6da" fill-opacity="0.75"/>
<circle cx="399.5" cy="761.3" r="1.35" fill="#a6a6da" fill-opacity="0.75"/>
<circle cx="427.8" cy="745.7" r="1.35" fill="#a6a6da" fill-opacity="0.75"/>
<circle cx="456.2" cy="747.8" r="1.35" fill="#a6a6da" fill-opacity="0.75"/>
<circle cx="484.5" cy="760.3" r="1.35" fill="#a6a6da" fill-opacity="0.75"/>
<circle cx="371.1" cy="752.0" r="1.35" fill="#a6a6da" fill-opacity="0.75"/>
<circle cx="399.5" cy="762.0" r="1.35" fill="#a6a6da" fill-opacity="0.75"/>
<circle cx="427.8" cy="752.2" r="1.35" fill="#a6a6da" fill-opacity="0.75"/>
<circle cx="456.2" cy="759.1" r="1.35" fill="#a6a6da" fill-opacity="0.75"/>
<circle cx="484.5" cy="741.7" r="1.35" fill="#a6a6da" fill-opacity="0.75"/>
<circle cx="371.1" cy="747.1" r="1.35" fill="#a6a6da" fill-opacity="0.75"/>
<circle cx="399.5" cy="759.8" r="1.35" fill="#a6a6da" fill-opacity="0.75"/>
<circle cx="427.8" cy="733.9" r="1.35" fill="#a6a6da" fill-opacity="0.75"/>
<circle cx="456.2" cy="727.9" r="1.35" fill="#a6a6da" fill-opacity="0.75"/>
<circle cx="484.5" cy="752.1" r="1.35" fill="#a6a6da" fill-opacity="0.75"/>
<circle cx="371.1" cy="736.7" r="1.35" fill="#a6a6da" fill-opacity="0.75"/>
<circle cx="399.5" cy="714.3" r="1.35" fill="#a6a6da" fill-opacity="0.75"/>
<circle cx="427.8" cy="725.6" r="1.35" fill="#a6a6da" fill-opacity="0.75"/>
<circle cx="456.2" cy="742.2" r="1.35" fill="#a6a6da" fill-opacity="0.75"/>
<circle cx="484.5" cy="731.2" r="1.35" fill="#a6a6da" fill-opacity="0.75"/>
<circle cx="371.1" cy="752.7" r="1.35" fill="#a6a6da" fill-opacity="0.75"/>
<circle cx="399.5" cy="751.8" r="1.35" fill="#a6a6da" fill-opacity="0.75"/>
<circle cx="427.8" cy="753.7" r="1.35" fill="#a6a6da" fill-opacity="0.75"/>
<circle cx="456.2" cy="754.4" r="1.35" fill="#a6a6da" fill-opacity="0.75"/>
<circle cx="484.5" cy="750.0" r="1.35" fill="#a6a6da" fill-opacity="0.75"/>
<circle cx="371.1" cy="756.0" r="1.35" fill="#a6a6da" fill-opacity="0.75"/>
<circle cx="399.5" cy="759.1" r="1.35" fill="#a6a6da" fill-opacity="0.75"/>
<circle cx="427.8" cy="758.8" r="1.35" fill="#a6a6da" fill-opacity="0.75"/>
<circle cx="456.2" cy="755.9" r="1.35" fill="#a6a6da" fill-opacity="0.75"/>
<circle cx="484.5" cy="754.4" r="1.35" fill="#a6a6da" fill-opacity="0.75"/>
<line x1="371.1" y1="729.39" x2="371.1" y2="737.25" stroke="#45455a" stroke-width="1.4" />
<line x1="371.1" y1="752.32" x2="371.1" y2="757.97" stroke="#45455a" stroke-width="1.4" />
<rect x="363.9" y="737.3" width="14.5" height="15.1" fill="#fff" stroke="#7c7c98" stroke-width="0.8"/>
<line x1="363.85" y1="747.89" x2="378.35" y2="747.89" stroke="#151515" stroke-width="1.7" />
<line x1="399.45" y1="728.83" x2="399.45" y2="743.57" stroke="#45455a" stroke-width="1.4" />
<line x1="399.45" y1="757.97" x2="399.45" y2="763.07" stroke="#45455a" stroke-width="1.4" />
<rect x="392.2" y="743.6" width="14.5" height="14.4" fill="#fff" stroke="#7c7c98" stroke-width="0.8"/>
<line x1="392.2" y1="751.33" x2="406.7" y2="751.33" stroke="#151515" stroke-width="1.7" />
<line x1="427.8" y1="705.9" x2="427.8" y2="730.38" stroke="#45455a" stroke-width="1.4" />
<line x1="427.8" y1="757.42" x2="427.8" y2="764.07" stroke="#45455a" stroke-width="1.4" />
<rect x="420.6" y="730.4" width="14.5" height="27.0" fill="#fff" stroke="#7c7c98" stroke-width="0.8"/>
<line x1="420.55" y1="746.89" x2="435.05" y2="746.89" stroke="#151515" stroke-width="1.7" />
<line x1="456.15" y1="715.98" x2="456.15" y2="731.16" stroke="#45455a" stroke-width="1.4" />
<line x1="456.15" y1="751.99" x2="456.15" y2="763.07" stroke="#45455a" stroke-width="1.4" />
<rect x="448.9" y="731.2" width="14.5" height="20.8" fill="#fff" stroke="#7c7c98" stroke-width="0.8"/>
<line x1="448.9" y1="743.57" x2="463.4" y2="743.57" stroke="#151515" stroke-width="1.7" />
<line x1="484.5" y1="705.9" x2="484.5" y2="733.49" stroke="#45455a" stroke-width="1.4" />
<line x1="484.5" y1="753.65" x2="484.5" y2="764.07" stroke="#45455a" stroke-width="1.4" />
<rect x="477.2" y="733.5" width="14.5" height="20.2" fill="#fff" stroke="#7c7c98" stroke-width="0.8"/>
<line x1="477.25" y1="746.34" x2="491.75" y2="746.34" stroke="#151515" stroke-width="1.7" />
<line x1="354.4" y1="650.6" x2="354.4" y2="770.2" stroke="#1e1e1e" stroke-width="1.3" />
<line x1="353.8" y1="769.6" x2="501.1" y2="769.6" stroke="#1e1e1e" stroke-width="1.3" />
<line x1="371.1" y1="769.6" x2="371.1" y2="772.9" stroke="#1e1e1e" stroke-width="1.0" />
<text x="371.1" y="783.8" font-size="8.4" text-anchor="middle" fill="#2a2a2a" font-weight="normal" >t0</text>
<line x1="399.45" y1="769.6" x2="399.45" y2="772.9" stroke="#1e1e1e" stroke-width="1.0" />
<text x="399.45" y="783.8" font-size="8.4" text-anchor="middle" fill="#2a2a2a" font-weight="normal" >t3</text>
<line x1="427.8" y1="769.6" x2="427.8" y2="772.9" stroke="#1e1e1e" stroke-width="1.0" />
<text x="427.8" y="783.8" font-size="8.4" text-anchor="middle" fill="#2a2a2a" font-weight="normal" >t6</text>
<line x1="456.15" y1="769.6" x2="456.15" y2="772.9" stroke="#1e1e1e" stroke-width="1.0" />
<text x="456.15" y="783.8" font-size="8.4" text-anchor="middle" fill="#2a2a2a" font-weight="normal" >t9</text>
<line x1="484.5" y1="769.6" x2="484.5" y2="772.9" stroke="#1e1e1e" stroke-width="1.0" />
<text x="484.5" y="783.8" font-size="8.4" text-anchor="middle" fill="#2a2a2a" font-weight="normal" >t12</text>
<line x1="50.3" y1="764.4" x2="53.6" y2="764.4" stroke="#1e1e1e" stroke-width="1.1" />
<text x="46.2" y="767.1" font-size="7.5" text-anchor="end" fill="#2a2a2a" font-weight="normal" >0</text>
<line x1="50.3" y1="736.7" x2="53.6" y2="736.7" stroke="#1e1e1e" stroke-width="1.1" />
<text x="46.2" y="739.4" font-size="7.5" text-anchor="end" fill="#2a2a2a" font-weight="normal" >25</text>
<line x1="50.3" y1="709" x2="53.6" y2="709" stroke="#1e1e1e" stroke-width="1.1" />
<text x="46.2" y="711.7" font-size="7.5" text-anchor="end" fill="#2a2a2a" font-weight="normal" >50</text>
<line x1="50.3" y1="681.3" x2="53.6" y2="681.3" stroke="#1e1e1e" stroke-width="1.1" />
<text x="46.2" y="684" font-size="7.5" text-anchor="end" fill="#2a2a2a" font-weight="normal" >75</text>
<line x1="50.3" y1="653.6" x2="53.6" y2="653.6" stroke="#1e1e1e" stroke-width="1.1" />
<text x="46.2" y="656.3" font-size="7.5" text-anchor="end" fill="#2a2a2a" font-weight="normal" >100</text>
<text transform="translate(23.6 710) rotate(-90)" x="0" y="3.31" font-size="9.2" text-anchor="middle" textLength="114" lengthAdjust="spacingAndGlyphs" fill="#222" stroke="#222" stroke-width="0.22">Proportion of CD56dim NK cells (%)</text>
<rect x="0.6" y="0.6" width="518.8" height="792.8" fill="none" stroke="#404040" stroke-width="1.4"/>
</svg>
</body></html>
